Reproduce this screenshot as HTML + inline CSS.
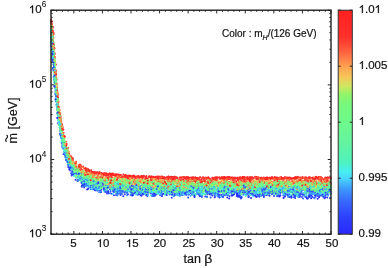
<!DOCTYPE html>
<html><head><meta charset="utf-8"><style>
html,body{margin:0;padding:0;background:#fff;width:388px;height:268px;overflow:hidden}
svg{display:block;will-change:transform}
text{font-family:"Liberation Sans",sans-serif;fill:#111;font-size:11.5px;stroke:#111;stroke-width:0.2px}
.sup{font-size:8.2px;stroke-width:0.08px}
</style></head><body>
<svg width="388" height="268" viewBox="0 0 388 268">
<defs><linearGradient id="cb" x1="0" y1="0" x2="0" y2="1"><stop offset="0.000" stop-color="#ff2020"/><stop offset="0.120" stop-color="#ff302c"/><stop offset="0.180" stop-color="#ff5c3e"/><stop offset="0.250" stop-color="#ffa050"/><stop offset="0.300" stop-color="#f5c85a"/><stop offset="0.340" stop-color="#cde860"/><stop offset="0.380" stop-color="#8cf569"/><stop offset="0.420" stop-color="#76f87d"/><stop offset="0.500" stop-color="#6efa8c"/><stop offset="0.600" stop-color="#62f3a2"/><stop offset="0.680" stop-color="#4ef2c0"/><stop offset="0.720" stop-color="#46eef0"/><stop offset="0.750" stop-color="#48d7ff"/><stop offset="0.800" stop-color="#3c96ff"/><stop offset="0.850" stop-color="#386aff"/><stop offset="0.920" stop-color="#2e42ff"/><stop offset="1.000" stop-color="#2828ff"/></linearGradient></defs>
<g fill="none" stroke-width="2" stroke-linecap="round"><path stroke="#2b36ff" d="M100.7 192.2h0M137.2 188.0h0M107.1 193.6h0M330.2 197.8h0M143.5 192.6h0M136.0 190.8h0M87.2 183.8h0M177.1 189.8h0M305.5 196.7h0M319.2 194.6h0M221.1 195.0h0M167.9 192.8h0M135.3 187.6h0M229.5 196.3h0M141.1 189.1h0M289.8 197.1h0M69.1 161.2h0M234.6 191.9h0M124.8 194.3h0M53.7 69.0h0M65.0 152.6h0"/>
<path stroke="#3fa7ff" d="M261.1 187.3h0M294.1 191.3h0M195.3 193.8h0M216.7 185.5h0M91.7 180.4h0M300.5 188.2h0M103.9 185.1h0M177.7 189.3h0M146.9 190.8h0M299.0 194.6h0M207.3 191.5h0M288.3 194.6h0M174.2 190.4h0M237.1 193.9h0M164.1 190.8h0M151.5 190.3h0M161.8 187.7h0M106.8 186.2h0M168.0 187.2h0M143.3 188.8h0M145.4 187.8h0M110.8 183.2h0M58.3 119.5h0M133.7 192.9h0M95.0 185.9h0M328.4 189.8h0M133.2 186.0h0M316.6 189.7h0M170.9 188.8h0M210.5 192.6h0M212.8 192.2h0M114.6 186.3h0M268.0 191.7h0M193.6 192.5h0M277.7 189.4h0M56.1 90.9h0M51.3 38.6h0M53.4 58.1h0M53.5 70.9h0"/>
<path stroke="#73f982" d="M157.0 184.3h0M138.2 187.3h0M243.4 189.0h0M297.5 189.2h0M132.6 185.2h0M217.4 183.2h0M113.8 182.5h0M158.0 184.7h0M111.1 180.6h0M205.5 188.2h0M86.3 182.2h0M323.3 187.8h0M302.2 185.7h0M185.6 181.4h0M155.0 186.8h0M85.3 180.1h0M140.0 187.2h0M224.1 190.6h0M270.4 188.1h0M197.5 182.9h0M270.8 190.3h0M65.4 145.4h0M257.4 186.6h0M200.7 184.2h0M91.2 184.6h0M112.7 181.2h0M203.3 180.7h0M77.8 170.1h0M328.3 191.6h0M102.7 177.8h0M185.0 186.4h0M152.2 186.1h0M179.3 184.1h0M130.9 186.8h0M130.9 183.3h0M96.1 181.0h0M157.8 188.1h0M134.2 182.1h0M112.7 181.1h0M225.5 186.2h0M283.5 183.5h0M201.4 188.7h0M278.2 182.0h0M290.6 185.6h0M186.3 187.7h0M217.4 182.5h0M225.6 183.6h0M137.7 186.0h0M225.7 185.1h0M53.5 56.0h0M74.9 168.2h0M62.7 136.3h0M55.9 73.4h0M66.1 157.1h0M53.2 52.1h0M53.2 42.8h0"/>
<path stroke="#3251ff" d="M120.5 194.9h0M316.8 190.9h0M218.5 189.1h0M275.4 192.1h0M72.6 171.9h0M321.2 194.4h0M283.8 190.6h0M220.2 196.2h0M240.3 188.7h0M330.9 193.5h0M102.0 187.2h0M129.8 191.4h0M296.0 191.1h0M114.5 186.0h0M55.4 81.4h0M234.4 189.0h0M63.4 148.2h0M131.0 192.3h0M297.8 188.4h0M167.9 188.5h0M214.1 192.1h0M199.2 192.7h0M60.3 126.8h0M155.9 188.5h0M183.3 189.8h0M231.5 188.3h0M52.3 52.6h0M59.9 127.7h0M59.3 119.6h0"/>
<path stroke="#aaef65" d="M57.2 91.4h0M277.7 183.6h0M170.1 184.7h0M329.3 188.5h0M231.8 183.6h0M157.4 181.6h0M149.1 184.6h0M216.3 191.3h0M246.2 183.0h0M256.5 185.3h0M230.0 183.7h0M153.7 180.8h0M232.7 190.0h0M210.4 185.4h0M268.1 189.3h0M211.8 187.3h0M313.7 188.4h0M224.7 187.9h0M305.2 186.0h0M236.8 186.2h0M153.9 180.1h0M90.0 176.4h0M78.2 170.2h0M89.6 174.5h0M195.3 185.8h0M74.5 172.4h0M289.8 182.5h0M297.3 186.4h0M86.0 173.9h0M207.6 183.3h0M158.7 180.0h0M297.9 186.6h0M99.4 177.6h0M51.8 32.9h0M229.1 182.5h0M288.7 189.0h0M176.6 183.8h0M53.2 42.5h0M65.4 144.4h0M64.3 143.3h0M67.6 155.3h0M53.4 50.3h0"/>
<path stroke="#46ebf2" d="M100.9 189.1h0M321.4 188.2h0M174.2 191.8h0M115.6 189.4h0M197.0 191.5h0M127.6 188.6h0M281.5 190.5h0M185.2 188.7h0M142.6 184.6h0M69.8 166.5h0M311.6 188.8h0M212.7 190.5h0M253.2 196.5h0M86.5 182.1h0M268.4 185.8h0M233.4 194.6h0M198.2 190.9h0M244.9 194.8h0M285.4 192.5h0M209.2 189.7h0M123.1 191.2h0M182.8 184.9h0M152.9 186.1h0M290.2 191.6h0M295.5 193.7h0M93.0 180.3h0M94.9 188.1h0M326.7 189.4h0M57.8 109.7h0M113.7 189.3h0M245.1 189.1h0M304.0 193.0h0M60.1 123.4h0M51.1 38.5h0M52.4 38.5h0"/>
<path stroke="#73f982" d="M120.0 185.8h0M219.9 190.6h0M89.3 176.7h0M69.6 160.0h0M135.0 181.2h0M185.1 184.5h0M199.2 187.8h0M67.9 159.2h0M176.4 185.9h0M116.6 179.3h0M292.8 181.6h0M223.7 187.7h0M173.8 182.8h0M162.3 188.8h0M153.9 185.8h0M194.9 189.6h0M261.9 186.2h0M55.2 73.9h0M246.4 189.1h0M187.7 181.5h0M270.4 192.0h0M118.4 186.7h0M95.6 181.1h0M217.3 186.5h0M224.1 190.3h0M80.9 170.3h0M153.2 181.4h0M162.2 186.3h0M75.6 171.4h0M304.8 186.3h0M87.0 177.1h0M114.8 181.0h0M94.9 178.2h0M102.0 181.2h0M293.9 184.7h0M154.3 185.3h0M197.3 184.8h0M272.4 185.8h0M51.2 33.2h0M262.2 184.3h0M197.7 186.9h0M201.1 184.0h0M167.1 183.0h0M172.7 185.3h0M277.8 184.4h0M224.1 186.8h0M248.6 185.8h0M186.2 185.1h0M243.4 184.0h0M119.4 181.3h0M110.8 179.7h0M56.0 80.0h0M54.3 71.9h0M61.4 134.0h0M63.2 138.8h0M61.7 133.7h0M58.5 111.1h0"/>
<path stroke="#ff904c" d="M285.8 186.0h0M128.4 180.8h0M323.8 181.9h0M160.8 181.9h0M148.6 184.7h0M69.1 160.3h0M93.8 178.3h0M268.1 182.2h0M282.2 186.5h0M114.7 183.6h0M148.6 178.8h0M152.6 178.1h0M327.8 186.6h0M251.8 182.3h0M130.7 184.7h0M211.2 181.4h0M107.7 179.7h0M195.9 183.1h0M322.1 182.4h0M66.0 147.2h0M287.8 182.2h0M197.7 188.3h0M177.6 184.6h0M238.8 187.3h0M263.9 186.7h0M210.5 182.6h0M243.2 182.0h0M58.2 100.9h0M51.0 20.3h0M59.2 117.4h0"/>
<path stroke="#53f2b8" d="M76.7 177.2h0M270.1 191.4h0M242.1 190.0h0M219.1 185.1h0M144.4 191.1h0M268.2 193.0h0M252.0 191.4h0M300.0 185.6h0M123.4 183.2h0M217.7 186.1h0M114.2 187.5h0M64.2 148.9h0M84.6 179.9h0M140.7 192.0h0M194.9 191.1h0M243.1 192.6h0M201.6 186.0h0M262.2 187.7h0M89.2 180.7h0M298.7 192.7h0M141.8 185.1h0M206.8 187.4h0M114.6 188.9h0M195.9 187.4h0M122.8 187.0h0M129.3 188.3h0M200.8 184.8h0M206.3 185.3h0M258.4 189.4h0M142.9 191.0h0M119.8 187.8h0M295.6 189.3h0M224.8 189.8h0M176.1 191.8h0M238.8 190.2h0M302.2 186.0h0M324.5 190.7h0M163.8 189.9h0M301.0 187.8h0M56.0 93.4h0M52.3 52.7h0M53.2 48.3h0M57.9 109.2h0M67.8 164.2h0"/>
<path stroke="#71f986" d="M218.5 190.0h0M325.7 186.5h0M86.3 183.4h0M111.5 184.2h0M267.1 185.9h0M51.1 33.0h0M110.2 182.2h0M202.5 181.4h0M212.4 184.4h0M84.7 178.4h0M307.9 182.9h0M99.8 179.1h0M77.9 174.4h0M142.2 181.5h0M271.1 185.7h0M65.2 150.7h0M112.3 188.0h0M153.8 186.4h0M305.4 188.1h0M126.9 185.2h0M74.1 167.0h0M163.3 182.4h0M208.2 187.9h0M246.3 183.6h0M280.2 188.6h0M130.3 189.4h0M267.9 185.8h0M168.7 186.9h0M191.1 183.8h0M236.9 186.7h0M278.8 184.5h0M268.4 189.8h0M257.1 181.6h0M217.9 187.5h0M114.2 178.6h0M330.5 184.3h0M306.9 191.1h0M55.6 83.9h0M80.5 175.9h0M213.7 184.1h0M286.9 189.6h0M209.2 184.0h0M323.1 183.2h0M114.3 180.1h0M225.5 191.9h0M168.7 186.5h0M86.1 179.1h0M151.6 185.2h0M260.3 189.7h0M283.8 181.4h0M313.3 184.2h0M117.8 180.3h0M208.4 186.5h0M142.2 190.1h0M150.2 188.9h0M61.7 129.6h0M66.7 150.6h0M56.6 100.3h0M59.2 116.5h0M60.1 122.0h0"/>
<path stroke="#2d3dff" d="M160.5 187.9h0M208.1 193.2h0M66.1 155.1h0M272.7 191.7h0M266.5 189.7h0M85.6 181.6h0M182.0 192.7h0M146.1 191.0h0M208.9 189.7h0M260.7 188.8h0M151.7 189.1h0M127.1 191.4h0M236.8 193.9h0M64.1 145.4h0M55.6 93.0h0M138.4 192.5h0M114.6 191.4h0M290.5 191.5h0M285.0 196.0h0M194.3 190.9h0M53.4 61.0h0M52.0 52.1h0M52.9 49.8h0"/>
<path stroke="#ff2b29" d="M189.5 178.1h0M306.0 180.7h0M308.8 186.0h0M276.3 186.5h0M151.2 184.7h0M189.7 182.5h0M168.1 179.5h0M281.7 179.8h0M86.9 169.2h0M303.6 187.4h0M81.6 174.0h0M158.7 181.9h0M313.9 185.5h0M194.4 180.3h0M79.4 172.1h0M58.0 108.7h0M63.8 139.9h0M241.5 177.8h0M193.7 177.7h0M109.4 177.0h0M141.0 177.2h0M172.8 178.7h0M154.4 177.6h0M110.8 173.7h0M272.5 177.8h0M158.8 178.1h0M243.9 177.2h0M128.7 176.7h0M300.5 179.4h0M276.8 177.4h0M212.5 177.8h0M228.5 177.7h0M315.6 177.1h0M175.3 178.8h0M152.0 176.6h0"/>
<path stroke="#65f59c" d="M67.3 158.5h0M69.6 162.3h0M68.6 157.0h0M176.3 186.4h0M210.4 188.0h0M59.9 119.1h0M95.1 180.4h0M122.9 183.2h0M69.9 164.0h0M146.7 186.3h0M54.2 58.8h0M160.6 193.5h0M190.4 184.2h0M62.5 140.2h0M108.1 181.6h0M202.0 191.4h0M260.7 192.0h0M189.9 185.3h0M316.6 191.8h0M208.8 184.8h0M282.0 186.6h0M254.9 186.4h0M305.0 184.0h0M197.0 189.8h0M281.2 192.6h0M248.9 186.0h0M312.4 186.9h0M55.9 86.5h0M236.9 192.6h0M273.9 185.4h0M277.4 192.4h0M99.2 186.0h0M95.3 185.3h0M280.9 191.1h0M296.3 191.5h0M131.6 186.7h0M249.5 187.6h0M257.4 186.0h0M280.7 191.2h0M203.2 190.0h0M141.8 189.2h0M61.6 133.1h0M67.1 158.7h0M55.7 73.1h0M51.2 32.8h0M55.9 74.8h0M63.7 147.1h0"/>
<path stroke="#ff2322" d="M187.2 183.5h0M207.6 186.3h0M253.6 185.5h0M248.9 179.0h0M200.9 180.9h0M309.4 178.7h0M171.3 183.4h0M60.6 124.0h0M156.3 177.7h0M288.7 177.8h0M187.1 177.3h0M327.4 177.7h0M200.3 177.2h0M284.2 178.1h0M184.3 177.9h0M301.4 178.1h0M168.5 176.8h0M243.4 177.6h0M271.3 178.4h0M281.5 177.9h0M186.1 178.5h0M330.3 177.5h0"/>
<path stroke="#63f3a1" d="M248.0 184.6h0M255.8 189.4h0M134.2 191.3h0M157.5 185.1h0M165.4 185.5h0M103.6 182.7h0M291.6 185.9h0M282.3 191.1h0M94.8 181.8h0M233.4 190.4h0M159.3 186.5h0M149.0 191.5h0M240.8 187.1h0M238.5 192.2h0M56.7 93.1h0M325.8 185.6h0M320.9 186.6h0M239.3 192.3h0M288.4 190.6h0M169.0 191.6h0M256.0 189.9h0M308.7 182.2h0M87.8 179.6h0M320.7 190.0h0M202.4 188.1h0M91.2 180.2h0M231.7 188.2h0M111.1 186.4h0M276.5 186.8h0M220.3 187.6h0M238.1 190.0h0M121.2 185.9h0M60.9 127.4h0M317.6 186.3h0M282.6 185.2h0M197.2 186.4h0M171.7 192.8h0M73.2 169.1h0M220.9 189.8h0M57.6 113.1h0M66.8 158.4h0M57.6 108.6h0M52.2 45.1h0M60.8 132.3h0"/>
<path stroke="#ff6741" d="M184.0 185.1h0M203.6 180.0h0M65.8 146.3h0M151.6 179.5h0M252.6 186.9h0M227.1 178.7h0M231.6 187.1h0M242.5 184.5h0M140.5 182.5h0M329.0 181.5h0M216.6 184.7h0M177.9 179.5h0M281.3 186.8h0M86.3 170.5h0M297.6 182.2h0M121.8 181.5h0M209.4 183.3h0M51.4 24.1h0M56.2 84.2h0M272.2 182.2h0M209.6 187.3h0M186.3 186.4h0M227.9 184.0h0M173.9 179.1h0M109.1 179.5h0M61.9 125.0h0M63.7 137.8h0M57.2 96.1h0M237.8 177.7h0M239.1 177.5h0M164.2 177.5h0M261.5 177.6h0M258.6 177.5h0"/>
<path stroke="#46ebf2" d="M144.2 189.4h0M166.6 190.1h0M162.4 188.4h0M65.8 153.3h0M295.0 192.0h0M168.7 187.9h0M232.4 191.9h0M284.9 190.9h0M222.6 186.7h0M154.6 190.1h0M330.7 190.4h0M289.0 186.3h0M176.8 190.4h0M208.5 189.6h0M179.4 195.8h0M260.7 188.3h0M204.7 188.7h0M260.3 186.3h0M245.0 189.5h0M181.3 194.5h0M286.1 191.6h0M158.4 193.8h0M306.9 188.0h0M197.2 193.1h0M250.1 185.7h0M233.1 185.2h0M326.0 188.6h0M102.7 184.7h0M129.7 184.6h0M109.3 184.1h0M118.1 186.2h0M143.6 187.8h0M67.1 160.8h0M62.5 141.5h0M61.9 132.4h0M56.4 93.7h0"/>
<path stroke="#44c2ff" d="M298.3 194.5h0M70.3 162.9h0M314.7 187.1h0M264.2 190.2h0M70.9 166.9h0M292.4 192.4h0M174.1 191.6h0M254.7 187.7h0M141.4 189.8h0M218.3 191.6h0M66.6 156.2h0M197.7 189.4h0M134.5 193.1h0M56.0 100.7h0M248.8 187.0h0M275.9 188.0h0M72.2 165.7h0M289.8 191.7h0M266.7 187.7h0M271.3 188.3h0M172.1 190.1h0M261.6 193.3h0M153.3 193.5h0M214.6 194.6h0M305.4 187.3h0M198.9 191.0h0M60.9 132.4h0M67.9 158.3h0M286.0 192.7h0M54.0 68.6h0M92.3 189.3h0M265.6 194.1h0M149.3 191.4h0M151.9 191.2h0M63.0 141.1h0M51.4 35.9h0M52.3 42.7h0M65.9 151.2h0"/>
<path stroke="#3a7cff" d="M170.6 188.0h0M157.8 186.2h0M184.2 194.4h0M69.5 169.1h0M295.5 190.6h0M235.9 191.1h0M161.5 190.8h0M146.2 189.8h0M281.3 187.3h0M255.4 193.3h0M306.3 192.4h0M190.9 193.2h0M271.4 191.7h0M225.7 192.7h0M171.8 194.0h0M222.2 196.8h0M255.9 186.8h0M121.9 190.5h0M234.8 188.0h0M67.7 157.7h0M96.7 183.5h0M319.4 193.2h0M173.4 187.1h0M197.6 193.0h0M95.0 187.9h0M142.4 192.0h0M190.5 189.4h0M314.2 190.3h0M315.2 193.3h0M51.9 41.0h0M65.9 155.1h0"/>
<path stroke="#6af893" d="M225.9 184.0h0M110.0 179.7h0M228.1 189.9h0M126.2 184.7h0M328.5 184.8h0M123.3 184.6h0M86.7 177.7h0M294.3 185.3h0M269.7 185.2h0M256.5 192.7h0M247.3 185.8h0M240.3 185.9h0M148.6 185.5h0M319.6 186.7h0M211.3 188.5h0M188.3 185.6h0M201.0 187.6h0M69.3 162.2h0M161.9 191.0h0M189.1 183.5h0M82.3 179.3h0M199.8 183.4h0M284.9 188.1h0M69.8 161.3h0M150.8 189.1h0M80.9 177.7h0M253.6 190.7h0M154.4 187.0h0M219.4 188.1h0M91.9 178.9h0M270.2 189.6h0M178.5 190.6h0M313.2 184.7h0M202.4 193.0h0M262.6 188.8h0M131.1 187.1h0M134.6 181.2h0M126.4 185.2h0M148.4 184.7h0M321.9 187.4h0M293.9 187.8h0M85.2 171.7h0M82.5 175.5h0M295.4 192.2h0M142.7 183.3h0M170.9 185.6h0M60.3 130.2h0M51.4 39.7h0M62.5 134.6h0M56.1 87.0h0M56.7 99.4h0"/>
<path stroke="#3fa7ff" d="M323.4 190.3h0M280.0 193.0h0M188.1 194.7h0M228.7 193.3h0M329.9 188.8h0M259.5 188.0h0M220.5 192.2h0M120.1 186.3h0M286.4 187.4h0M79.6 175.0h0M164.5 192.1h0M108.3 191.2h0M322.4 195.3h0M150.4 186.5h0M107.9 187.3h0M133.6 189.9h0M126.8 195.6h0M114.4 186.5h0M253.6 194.3h0M289.9 190.7h0M216.6 189.9h0M106.3 184.2h0M325.9 190.1h0M300.1 190.6h0M180.6 187.3h0M300.8 187.8h0M197.0 192.6h0M301.6 188.0h0M308.8 194.3h0M151.9 188.1h0M174.8 189.4h0M113.8 189.2h0M289.7 190.3h0M184.8 192.0h0M270.5 189.6h0M51.3 35.3h0M55.8 86.4h0M54.3 73.8h0"/>
<path stroke="#fab555" d="M96.4 176.6h0M135.9 183.2h0M261.4 188.5h0M210.5 186.4h0M197.8 182.6h0M194.0 183.5h0M214.2 180.6h0M215.8 183.4h0M276.3 182.2h0M106.2 179.8h0M140.1 178.8h0M210.1 181.1h0M94.2 175.8h0M53.9 51.4h0M280.1 181.3h0M163.7 178.8h0M282.6 187.6h0M118.8 186.5h0M82.3 173.9h0M91.1 174.4h0M207.9 180.9h0M228.2 183.0h0M147.6 182.8h0M88.2 171.7h0M154.7 180.1h0M73.4 162.2h0M57.4 103.4h0M59.0 110.8h0M61.1 129.6h0"/>
<path stroke="#71f986" d="M105.1 180.7h0M112.9 181.3h0M98.4 176.8h0M258.3 184.1h0M111.6 186.8h0M144.4 188.6h0M273.7 187.9h0M54.1 64.0h0M265.6 185.7h0M110.3 185.6h0M113.1 182.7h0M184.4 183.2h0M232.3 182.8h0M61.7 131.0h0M163.3 188.3h0M91.2 176.1h0M281.1 187.4h0M222.9 185.7h0M210.1 187.1h0M217.6 185.8h0M136.2 185.0h0M212.4 183.3h0M160.7 186.0h0M277.5 188.9h0M230.8 184.2h0M185.7 184.5h0M254.0 187.9h0M196.3 187.1h0M85.6 177.4h0M245.6 188.7h0M298.9 188.1h0M63.3 134.7h0M177.8 185.5h0M219.8 187.1h0M124.3 188.3h0M105.5 177.9h0M326.6 189.0h0M199.8 188.5h0M252.0 183.7h0M197.4 186.6h0M301.3 182.6h0M106.4 177.1h0M166.2 190.2h0M263.8 190.6h0M182.3 190.4h0M244.6 188.3h0M316.4 188.8h0M110.8 182.9h0M248.8 188.1h0M127.6 182.5h0M320.3 183.1h0M81.9 178.0h0M99.8 178.7h0M73.6 167.5h0M56.6 99.6h0M51.9 32.4h0M56.4 87.8h0M53.5 53.6h0M55.8 85.7h0M60.0 118.9h0"/>
<path stroke="#2f45ff" d="M233.9 194.6h0M216.1 190.6h0M205.4 194.3h0M111.5 193.7h0M216.8 188.8h0M298.0 188.6h0M297.1 194.7h0M314.2 197.7h0M301.0 191.2h0M173.3 195.5h0M283.4 195.5h0M210.6 189.5h0M114.0 187.3h0M188.9 194.4h0M99.5 189.4h0M322.7 196.0h0M88.3 182.5h0M130.4 188.3h0M51.6 42.8h0M210.9 191.1h0M191.0 193.2h0M291.3 197.8h0M155.1 188.2h0M186.1 192.3h0M56.3 98.5h0M56.9 101.0h0"/>
<path stroke="#e2d75d" d="M225.3 184.2h0M89.1 177.0h0M325.6 183.7h0M177.2 181.1h0M285.9 186.2h0M130.8 178.0h0M94.3 174.2h0M51.5 26.8h0M216.3 185.2h0M159.4 184.4h0M116.8 181.1h0M191.4 180.3h0M300.6 182.3h0M59.7 124.4h0M170.5 181.3h0M273.5 181.4h0M92.0 177.6h0M258.3 182.7h0M56.3 87.6h0M274.8 185.9h0M102.4 177.0h0M190.4 185.5h0M75.9 166.5h0M186.5 185.9h0M188.5 181.8h0M293.4 187.1h0M87.7 171.2h0M276.1 183.4h0M171.2 182.9h0M210.1 180.0h0M107.7 179.9h0M58.9 114.1h0M64.2 138.1h0M57.9 102.7h0M57.9 98.9h0"/>
<path stroke="#8af56a" d="M244.9 185.7h0M188.7 186.2h0M98.0 181.7h0M237.2 189.6h0M149.7 180.3h0M161.3 185.7h0M307.4 183.4h0M182.5 189.8h0M129.7 183.6h0M57.0 101.8h0M211.8 184.3h0M61.9 136.6h0M160.4 185.4h0M81.2 172.4h0M93.2 176.6h0M192.0 184.5h0M292.4 184.6h0M135.5 182.7h0M79.3 166.7h0M284.6 186.2h0M103.1 183.1h0M290.9 189.7h0M143.0 181.1h0M219.9 184.5h0M311.6 187.8h0M73.5 164.2h0M121.5 178.8h0M119.3 184.1h0M193.4 181.5h0M160.1 188.3h0M280.1 189.2h0M269.4 183.5h0M255.6 187.6h0M154.1 184.1h0M280.4 185.3h0M123.2 179.7h0M178.5 188.7h0M94.8 179.6h0M263.0 189.5h0M316.7 187.4h0M97.1 181.4h0M127.9 187.2h0M232.8 180.0h0M53.6 46.7h0M61.9 132.6h0M58.4 114.2h0M53.4 60.1h0M51.8 36.7h0M66.4 151.7h0"/>
<path stroke="#ff2b29" d="M234.0 184.1h0M328.2 182.5h0M90.0 178.0h0M241.9 178.5h0M293.6 184.2h0M143.4 182.9h0M255.8 181.0h0M300.8 180.1h0M157.4 178.0h0M258.7 186.3h0M169.6 179.5h0M230.3 182.3h0M326.0 187.0h0M88.4 172.3h0M52.7 31.2h0M55.9 81.1h0M60.3 116.3h0M234.5 178.1h0M312.9 177.8h0M297.7 177.1h0M244.1 177.5h0M141.9 176.3h0M309.4 177.5h0M104.2 173.5h0M296.9 178.4h0M235.0 177.6h0M272.7 177.9h0M249.9 177.7h0M205.0 178.5h0M219.3 177.5h0M282.1 178.1h0M298.9 177.6h0M242.9 178.7h0M222.0 177.1h0"/>
<path stroke="#e2d75d" d="M216.3 183.8h0M317.3 184.1h0M159.6 182.2h0M246.7 188.0h0M142.3 186.9h0M239.4 181.5h0M96.6 181.1h0M212.8 183.9h0M259.3 180.6h0M128.4 180.5h0M135.2 187.1h0M263.1 187.1h0M108.7 179.0h0M205.0 182.4h0M247.8 180.4h0M209.7 187.2h0M162.1 183.0h0M235.0 183.7h0M131.9 187.8h0M300.6 187.3h0M79.0 167.6h0M142.4 183.8h0M112.1 180.5h0M73.7 167.5h0M244.8 186.5h0M256.9 181.6h0M69.7 159.5h0M224.6 186.1h0M329.7 182.1h0M93.7 174.1h0M90.5 174.0h0M59.1 114.6h0M54.0 50.5h0M67.9 155.1h0M56.0 83.6h0"/>
<path stroke="#2f45ff" d="M52.4 53.1h0M104.8 187.9h0M236.8 192.9h0M181.3 192.8h0M220.4 196.4h0M200.4 190.8h0M81.6 182.8h0M112.1 185.2h0M106.8 183.9h0M295.9 193.8h0M74.0 174.7h0M112.4 188.1h0M94.5 190.0h0M297.7 194.1h0M212.2 190.9h0M172.1 193.9h0M267.5 194.2h0M57.9 110.8h0M224.5 195.0h0M171.7 197.8h0M161.5 189.9h0M207.1 196.8h0M173.2 188.6h0M131.9 194.1h0M55.5 98.9h0M54.9 83.8h0"/>
<path stroke="#ff553b" d="M302.0 182.5h0M219.5 182.6h0M279.6 185.9h0M299.2 180.1h0M176.3 184.5h0M116.7 177.3h0M55.3 75.2h0M59.7 119.8h0M87.4 170.4h0M61.1 119.7h0M119.6 180.5h0M182.8 185.8h0M235.0 179.9h0M246.1 181.6h0M201.5 182.2h0M127.1 185.4h0M154.2 180.2h0M209.6 181.5h0M131.2 183.2h0M297.9 181.4h0M51.8 24.3h0M221.4 185.2h0M186.6 180.3h0M251.0 182.7h0M52.3 33.3h0M56.3 80.0h0M59.9 114.2h0M213.0 177.8h0M106.5 174.5h0M282.8 178.2h0M217.3 177.5h0M283.4 178.4h0M267.7 178.5h0M237.5 178.5h0M275.9 177.8h0"/>
<path stroke="#ff553b" d="M127.6 180.5h0M126.0 178.2h0M56.4 80.1h0M307.5 183.3h0M207.6 180.8h0M268.8 183.2h0M115.5 176.4h0M242.0 181.3h0M175.9 182.0h0M184.2 183.6h0M283.7 180.1h0M312.3 185.9h0M170.2 186.5h0M185.0 181.2h0M148.9 183.6h0M98.1 175.0h0M300.4 178.5h0M181.6 186.7h0M89.9 179.2h0M221.7 181.8h0M319.1 186.7h0M249.4 187.2h0M197.4 180.9h0M241.6 182.9h0M53.5 37.9h0M67.6 147.9h0M54.1 48.6h0M273.2 178.8h0M183.5 177.6h0M89.2 170.1h0M124.8 175.3h0M265.9 178.0h0M191.2 178.2h0M157.9 176.7h0"/>
<path stroke="#6df98e" d="M195.9 185.5h0M180.6 188.6h0M214.4 187.7h0M97.2 181.1h0M267.5 186.6h0M253.3 191.4h0M238.6 191.6h0M256.3 188.9h0M208.8 186.4h0M156.9 191.4h0M230.9 189.6h0M247.9 189.0h0M77.3 167.1h0M143.0 189.2h0M176.6 187.3h0M203.5 186.9h0M194.4 191.5h0M196.5 187.3h0M141.5 185.2h0M211.3 189.0h0M229.2 190.4h0M83.2 174.0h0M145.5 190.4h0M66.6 154.5h0M86.6 179.9h0M253.7 181.9h0M118.2 186.2h0M256.2 192.1h0M249.3 185.0h0M114.6 178.5h0M172.9 186.1h0M328.9 184.8h0M152.1 181.8h0M330.5 187.2h0M89.1 175.1h0M219.1 184.9h0M79.5 169.5h0M112.7 189.6h0M241.0 184.8h0M186.0 182.2h0M162.2 188.7h0M232.5 190.7h0M219.1 189.1h0M51.5 32.7h0M63.6 141.4h0M53.3 62.3h0M62.0 136.2h0M63.3 144.0h0"/>
<path stroke="#44c2ff" d="M139.5 189.2h0M304.1 194.1h0M67.5 162.1h0M306.3 192.5h0M187.8 188.7h0M215.9 187.2h0M320.1 191.2h0M216.2 193.2h0M88.0 182.5h0M241.2 187.0h0M84.9 178.9h0M217.2 194.1h0M250.2 188.9h0M155.8 188.1h0M225.6 187.1h0M167.7 192.3h0M279.9 190.0h0M200.2 195.4h0M188.4 190.7h0M80.0 175.4h0M206.9 188.7h0M267.9 188.1h0M110.7 190.3h0M282.1 191.8h0M174.7 190.3h0M241.8 188.4h0M78.0 173.0h0M219.9 185.6h0M169.6 187.1h0M65.9 151.0h0M87.6 186.2h0M262.8 187.0h0M68.0 162.9h0M284.7 192.0h0M59.2 119.1h0M54.6 70.1h0M54.5 82.4h0"/>
<path stroke="#ff2624" d="M307.9 186.2h0M298.2 185.9h0M165.9 182.1h0M85.7 168.3h0M224.3 179.0h0M85.9 174.3h0M217.6 181.9h0M252.2 186.1h0M146.7 180.5h0M223.6 182.9h0M208.5 178.1h0M51.0 29.9h0M54.6 53.2h0M108.6 174.3h0M80.9 166.0h0M143.3 176.3h0M228.2 177.6h0M87.8 168.7h0M265.7 178.0h0M245.7 177.6h0M138.7 176.9h0M188.0 178.1h0M143.6 176.3h0M216.0 177.8h0M185.0 177.6h0M133.5 175.9h0M141.3 176.2h0"/>
<path stroke="#ff2e2b" d="M293.7 185.9h0M92.7 180.2h0M201.2 179.6h0M292.9 179.1h0M85.7 173.3h0M170.7 186.6h0M170.9 183.9h0M163.8 181.2h0M248.5 179.6h0M214.7 184.5h0M179.5 180.4h0M330.8 183.8h0M194.0 180.3h0M202.2 181.6h0M271.5 184.1h0M162.2 178.4h0M59.6 109.9h0M60.9 127.7h0M281.1 177.6h0M149.6 176.4h0M100.8 173.2h0M141.3 176.5h0M237.5 177.8h0M321.4 179.0h0M185.2 178.0h0M71.4 156.6h0M176.2 177.3h0M143.8 177.0h0M221.5 178.1h0M207.0 177.9h0M80.7 165.3h0M175.2 177.8h0M264.2 178.7h0M261.9 178.3h0M242.2 177.7h0M139.1 177.8h0"/>
<path stroke="#3869ff" d="M296.0 195.0h0M263.3 195.0h0M177.6 193.6h0M234.3 193.3h0M105.7 187.0h0M275.9 189.8h0M213.8 193.4h0M192.6 191.3h0M322.5 196.4h0M298.9 188.0h0M116.2 185.2h0M145.7 190.4h0M306.9 192.5h0M236.7 196.3h0M226.7 191.8h0M113.3 191.7h0M306.5 188.5h0M275.3 193.2h0M259.8 193.8h0M234.1 193.0h0M149.2 187.8h0M266.4 193.5h0M329.0 191.9h0M241.1 196.8h0M99.8 188.2h0M215.2 195.3h0M223.9 194.6h0M274.6 186.8h0M219.2 194.8h0M88.3 178.8h0M179.3 192.4h0M54.8 72.8h0M65.5 151.1h0M55.1 81.5h0M56.1 94.9h0"/>
<path stroke="#4ef2c1" d="M123.0 184.5h0M51.4 41.8h0M153.6 189.4h0M71.6 168.3h0M140.8 193.0h0M126.5 183.4h0M99.7 182.3h0M119.2 183.6h0M114.6 186.1h0M301.5 189.7h0M320.3 194.9h0M165.7 190.7h0M140.6 193.0h0M240.9 190.7h0M106.1 185.3h0M225.3 185.2h0M120.2 188.5h0M237.1 186.5h0M320.1 190.7h0M266.1 192.0h0M105.0 182.3h0M80.1 177.6h0M258.2 190.3h0M235.9 185.0h0M299.4 191.4h0M227.3 195.0h0M309.3 185.7h0M241.3 192.4h0M90.1 186.2h0M107.8 187.4h0M242.4 192.7h0M202.5 195.1h0M282.1 184.9h0M180.4 193.6h0M274.9 192.3h0M65.1 147.5h0M276.0 193.6h0M67.3 157.8h0M56.6 96.5h0M65.2 147.5h0M55.5 80.2h0M54.3 79.7h0"/>
<path stroke="#fea451" d="M253.5 181.9h0M93.6 178.4h0M150.6 182.0h0M96.9 180.6h0M203.4 187.6h0M135.1 183.5h0M95.5 179.2h0M238.0 185.8h0M301.0 184.9h0M224.2 180.6h0M75.9 164.6h0M239.8 188.5h0M169.9 185.6h0M132.7 185.2h0M128.0 181.4h0M224.1 187.9h0M109.7 182.9h0M232.0 182.0h0M200.1 185.9h0M267.1 188.5h0M150.4 186.1h0M97.6 175.5h0M52.4 34.8h0M129.9 182.8h0M177.2 185.9h0M61.7 131.1h0M52.5 38.1h0"/>
<path stroke="#7ff775" d="M124.0 182.5h0M154.8 186.7h0M65.4 143.3h0M110.0 178.2h0M176.6 186.3h0M264.5 181.6h0M272.5 185.8h0M189.2 185.9h0M319.2 190.6h0M275.9 184.0h0M271.4 182.8h0M224.1 186.6h0M236.1 183.4h0M217.3 184.2h0M139.5 188.3h0M186.9 187.4h0M163.2 187.1h0M61.7 131.7h0M321.7 187.6h0M165.1 185.7h0M58.8 115.5h0M197.5 184.2h0M242.9 193.2h0M214.1 184.9h0M264.2 188.6h0M136.4 181.0h0M109.8 183.7h0M173.2 184.0h0M136.4 187.9h0M85.6 173.9h0M148.4 185.0h0M201.4 189.2h0M138.8 188.6h0M55.1 80.8h0M243.3 190.2h0M292.1 181.7h0M136.0 186.3h0M166.1 184.0h0M328.8 185.3h0M322.7 182.2h0M182.0 183.6h0M303.3 187.9h0M60.9 126.8h0M55.0 81.0h0M53.3 40.9h0M51.6 25.6h0M62.8 144.1h0M61.7 127.0h0"/>
<path stroke="#ff362e" d="M75.0 165.9h0M170.4 182.3h0M68.9 158.7h0M319.4 179.1h0M188.1 181.3h0M206.9 186.0h0M97.7 177.8h0M191.1 181.3h0M195.6 178.0h0M63.5 138.0h0M88.9 176.3h0M58.0 103.9h0M68.1 152.0h0M112.0 177.7h0M213.8 178.6h0M150.8 177.5h0M123.0 183.6h0M318.5 180.1h0M222.4 179.8h0M193.1 180.3h0M180.0 180.2h0M90.2 172.1h0M182.6 179.2h0M60.0 123.4h0M52.4 29.5h0M56.5 79.6h0M59.1 117.3h0M67.9 148.0h0M285.0 177.1h0M280.9 177.4h0M217.2 178.0h0M327.9 177.2h0M242.8 178.9h0M158.5 176.9h0M276.3 178.9h0M115.0 174.2h0M155.0 177.7h0M173.1 178.9h0M157.4 176.5h0M142.8 176.8h0M297.5 176.8h0"/>
<path stroke="#3869ff" d="M312.0 192.7h0M129.9 186.8h0M304.9 188.0h0M138.9 185.1h0M122.0 187.4h0M110.4 187.5h0M257.4 191.4h0M164.3 187.5h0M278.3 189.7h0M239.6 194.3h0M304.6 193.1h0M229.8 189.2h0M213.8 191.3h0M255.7 189.7h0M162.6 188.0h0M246.2 194.6h0M120.5 185.9h0M273.7 192.5h0M70.7 166.1h0M90.6 189.1h0M215.8 187.8h0M157.9 193.1h0M323.0 195.7h0M309.8 194.9h0M72.9 170.5h0M163.2 188.4h0M223.8 187.9h0M313.1 188.9h0M255.6 191.2h0M281.9 190.4h0M180.2 187.6h0M60.0 126.8h0M55.9 88.9h0M64.0 146.1h0M51.9 58.3h0M54.3 75.8h0"/>
<path stroke="#3869ff" d="M127.7 191.0h0M185.9 192.4h0M313.0 190.8h0M141.3 190.7h0M304.0 187.9h0M324.2 189.5h0M157.8 191.6h0M209.9 188.3h0M303.1 198.4h0M81.5 179.4h0M61.4 138.1h0M191.9 194.7h0M186.8 188.4h0M173.9 196.3h0M87.8 179.8h0M80.7 179.2h0M75.9 173.8h0M214.3 190.6h0M201.9 197.1h0M214.7 196.1h0M257.5 188.7h0M153.4 190.3h0M317.2 193.4h0M278.8 194.9h0M151.8 192.3h0M314.1 193.9h0M296.1 192.2h0M251.1 194.3h0M69.8 166.0h0M185.5 188.5h0M162.5 190.7h0M65.0 148.2h0M54.8 78.5h0M53.9 62.0h0M55.7 95.0h0M51.8 54.0h0"/>
<path stroke="#46ebf2" d="M170.2 193.6h0M126.7 186.0h0M143.4 186.6h0M184.7 186.3h0M176.3 189.2h0M189.3 192.0h0M195.7 194.5h0M299.7 188.7h0M327.0 193.2h0M229.9 188.0h0M165.5 194.4h0M103.7 190.3h0M125.8 185.5h0M291.3 191.7h0M127.3 187.6h0M312.9 186.9h0M216.4 186.0h0M233.0 191.6h0M224.0 185.3h0M317.4 186.5h0M70.6 167.1h0M207.9 189.2h0M249.1 191.1h0M201.4 189.1h0M120.9 190.8h0M55.8 101.4h0M257.6 188.1h0M118.2 188.2h0M153.1 191.5h0M86.5 178.9h0M186.5 192.2h0M292.4 187.3h0M59.4 127.3h0M61.7 138.5h0M54.5 62.9h0"/>
<path stroke="#2f45ff" d="M150.5 191.4h0M259.4 188.7h0M209.6 191.0h0M227.3 195.0h0M85.1 183.2h0M76.6 177.2h0M265.2 194.4h0M131.9 194.7h0M242.6 191.7h0M259.4 189.5h0M288.5 194.6h0M137.0 191.4h0M245.4 191.5h0M66.3 154.3h0M200.0 192.9h0M246.6 188.4h0M218.3 196.2h0M54.1 60.9h0M211.5 190.7h0M141.7 195.4h0M116.2 195.0h0M259.4 190.4h0M227.5 194.3h0M320.4 191.3h0M64.1 144.2h0M65.0 153.1h0M52.0 45.5h0"/>
<path stroke="#ff362e" d="M228.7 186.6h0M329.9 183.4h0M76.0 166.4h0M57.9 94.3h0M307.5 180.2h0M128.8 185.4h0M219.7 185.5h0M289.8 184.1h0M310.2 184.5h0M124.4 186.2h0M252.3 184.7h0M97.7 177.9h0M133.0 180.8h0M229.3 179.1h0M145.0 181.0h0M161.7 180.4h0M172.3 179.4h0M238.7 179.0h0M162.4 181.6h0M262.8 181.4h0M275.4 187.2h0M64.6 145.3h0M96.6 173.7h0M52.1 32.3h0M61.0 124.0h0M54.3 59.4h0M54.4 62.8h0M58.5 115.2h0M146.5 176.7h0M293.4 178.0h0M252.3 177.5h0M149.5 176.2h0M317.9 178.5h0M199.1 179.7h0M318.7 177.1h0M98.8 172.9h0M256.6 177.2h0M147.2 178.4h0M279.1 178.6h0M308.5 177.8h0M298.9 177.8h0"/>
<path stroke="#f5c65a" d="M183.8 186.9h0M292.6 183.3h0M211.4 189.0h0M207.6 182.0h0M254.6 182.9h0M195.4 183.8h0M121.9 183.2h0M92.3 173.2h0M141.9 180.6h0M246.5 184.1h0M117.0 178.9h0M221.7 187.1h0M71.4 165.4h0M197.6 182.4h0M56.4 79.3h0M266.1 181.9h0M196.6 179.8h0M210.5 179.7h0M109.7 182.5h0M85.0 173.9h0M214.1 189.5h0M101.3 183.1h0M252.9 185.0h0M51.2 33.7h0M328.7 184.8h0M176.2 183.5h0M132.1 187.1h0M228.3 188.2h0M234.5 182.8h0M144.3 179.4h0M57.9 104.3h0M63.9 141.6h0M59.9 113.0h0M63.9 141.2h0"/>
<path stroke="#68f698" d="M112.6 183.9h0M97.0 181.3h0M316.0 184.0h0M319.6 187.8h0M323.9 191.2h0M204.4 183.5h0M321.1 191.0h0M72.0 168.3h0M124.2 188.7h0M297.8 192.9h0M157.8 184.3h0M196.7 186.4h0M121.2 190.4h0M292.2 190.5h0M210.0 191.1h0M119.2 186.3h0M276.5 188.3h0M94.2 177.1h0M309.5 186.9h0M182.9 190.7h0M219.0 187.8h0M135.4 185.5h0M223.3 188.2h0M207.7 192.6h0M316.0 193.2h0M90.5 183.2h0M53.9 51.2h0M65.5 150.0h0M326.4 187.4h0M220.9 185.5h0M176.0 191.5h0M157.1 184.0h0M55.4 88.3h0M293.6 183.2h0M246.4 191.3h0M147.5 191.7h0M231.1 185.1h0M107.5 188.3h0M207.7 189.6h0M207.5 181.4h0M121.8 188.0h0M132.7 189.1h0M51.9 34.9h0M63.3 145.2h0M65.7 146.6h0M52.2 47.3h0"/>
<path stroke="#2d3dff" d="M163.5 190.4h0M238.4 195.9h0M185.7 188.6h0M91.0 185.8h0M183.3 192.5h0M186.5 188.2h0M279.1 196.3h0M123.9 188.3h0M125.8 190.2h0M246.3 189.4h0M215.4 189.9h0M325.6 195.1h0M164.2 189.9h0M93.7 189.0h0M83.8 180.5h0M52.0 40.0h0M256.7 188.5h0M285.3 192.7h0M283.2 192.7h0M220.0 187.9h0M62.6 143.8h0M64.3 152.1h0"/>
<path stroke="#3869ff" d="M108.1 193.2h0M110.8 186.3h0M120.3 188.5h0M123.6 186.6h0M248.7 192.5h0M191.2 192.0h0M281.2 189.9h0M137.4 188.7h0M138.7 194.3h0M243.9 193.0h0M314.6 198.3h0M110.6 184.2h0M204.2 188.7h0M303.0 189.7h0M191.4 189.5h0M101.3 184.4h0M55.9 94.3h0M185.1 192.9h0M126.7 190.5h0M53.3 61.3h0M99.5 191.3h0M60.3 129.6h0M105.5 184.7h0M133.3 195.0h0M102.1 186.4h0M195.9 188.4h0M323.6 193.2h0M279.5 192.8h0M314.6 193.3h0M277.4 192.2h0M328.2 191.0h0M60.9 133.6h0M56.8 100.1h0M53.3 55.9h0M57.0 100.9h0"/>
<path stroke="#ff2624" d="M137.0 181.0h0M309.5 183.5h0M169.5 184.9h0M102.7 180.1h0M319.8 179.6h0M177.0 184.7h0M85.6 170.0h0M271.9 178.4h0M210.9 183.2h0M313.6 181.9h0M195.9 178.0h0M51.5 33.6h0M177.5 177.7h0M166.4 177.6h0M193.0 177.9h0M116.8 174.3h0M167.8 177.4h0M129.2 175.9h0M163.5 178.1h0M318.9 178.2h0M286.1 178.5h0M137.9 176.3h0M298.7 177.9h0M277.7 177.7h0M324.0 179.2h0M117.1 175.1h0M99.2 172.6h0"/>
<path stroke="#e2d75d" d="M210.0 184.3h0M233.9 180.2h0M265.5 188.1h0M64.9 143.5h0M192.5 186.9h0M121.1 183.6h0M69.9 156.1h0M221.5 184.4h0M66.3 148.7h0M124.9 180.2h0M98.5 180.8h0M144.1 181.4h0M281.8 189.7h0M79.1 166.8h0M284.0 186.3h0M222.9 182.1h0M288.2 186.4h0M251.2 184.7h0M130.9 179.2h0M225.5 188.2h0M283.2 185.0h0M108.8 178.8h0M175.2 181.3h0M233.0 186.5h0M57.6 98.3h0M286.0 181.5h0M104.8 182.3h0M61.6 129.9h0M263.6 181.5h0M165.9 182.7h0M303.1 184.3h0M251.3 181.4h0M51.4 31.7h0M52.0 31.4h0M53.3 50.5h0"/>
<path stroke="#68f698" d="M239.9 187.3h0M70.3 159.1h0M203.7 185.3h0M119.2 187.9h0M314.4 190.3h0M118.1 189.2h0M200.1 181.5h0M327.4 192.3h0M229.9 191.2h0M100.7 187.6h0M253.6 184.5h0M208.2 182.0h0M246.8 190.1h0M71.2 160.9h0M115.3 183.2h0M73.0 167.9h0M175.1 188.4h0M155.7 186.6h0M185.9 183.3h0M114.6 183.0h0M57.8 103.1h0M235.4 187.2h0M167.5 187.9h0M164.8 189.3h0M89.4 176.9h0M224.0 190.1h0M252.5 183.4h0M54.3 58.3h0M162.1 188.4h0M214.4 184.5h0M61.4 128.6h0M147.8 184.4h0M149.4 185.9h0M86.8 182.6h0M257.7 193.3h0M87.6 176.9h0M273.5 191.1h0M268.1 187.1h0M104.0 187.0h0M131.2 183.7h0M254.5 192.6h0M53.2 48.3h0M51.4 40.1h0M52.8 48.1h0M65.8 155.1h0"/>
<path stroke="#2828ff" d="M242.8 187.2h0M199.7 189.3h0M121.4 186.9h0M98.5 187.1h0M132.8 189.5h0M321.3 193.8h0M131.8 191.4h0M262.5 189.8h0M309.0 197.0h0M215.9 190.4h0M224.6 191.1h0M100.9 192.1h0M287.4 195.0h0M118.3 191.4h0M98.1 188.2h0M323.6 194.4h0M170.4 188.4h0M171.5 194.6h0M76.9 172.9h0M316.3 194.5h0M101.4 189.4h0M69.6 168.1h0M230.0 191.0h0M145.1 190.5h0M279.6 196.6h0M70.3 166.7h0M290.9 196.5h0M72.4 171.1h0M154.6 191.9h0M311.4 193.3h0M251.0 198.0h0M238.0 196.8h0M119.5 188.2h0M74.8 174.8h0M226.2 192.2h0M134.3 187.7h0M263.9 197.0h0M167.0 187.6h0M142.2 192.7h0M57.2 109.1h0M57.2 117.9h0M51.8 45.9h0"/>
<path stroke="#ff7c46" d="M134.3 180.1h0M89.7 177.4h0M217.2 181.0h0M187.9 180.0h0M98.2 183.7h0M274.3 181.4h0M156.4 187.4h0M52.5 28.5h0M136.9 180.9h0M124.3 180.3h0M102.0 179.5h0M111.8 182.1h0M303.1 180.9h0M214.1 183.1h0M194.4 184.9h0M170.0 182.6h0M118.8 182.1h0M181.7 187.8h0M151.5 178.6h0M128.2 183.1h0M210.9 185.5h0M255.9 178.9h0M120.2 179.2h0M148.7 181.4h0M65.9 150.4h0M117.4 177.8h0M63.7 141.8h0M51.1 23.4h0M59.2 111.9h0M120.2 176.3h0M313.8 177.3h0"/>
<path stroke="#2828ff" d="M128.3 190.7h0M139.7 191.7h0M61.8 143.3h0M161.0 194.9h0M134.5 192.9h0M192.4 194.1h0M231.8 195.6h0M83.6 182.2h0M239.2 194.9h0M327.4 194.5h0M330.3 193.6h0M262.6 191.6h0M248.5 189.4h0M274.8 188.6h0M72.5 174.3h0M130.8 189.4h0M135.5 189.2h0M244.6 188.8h0M261.0 189.9h0M96.5 186.3h0M193.5 188.4h0M97.6 190.6h0M129.5 189.5h0M178.0 194.7h0M231.2 192.3h0M295.5 195.0h0M160.3 191.3h0M228.7 191.1h0M313.7 189.4h0M184.1 189.2h0M72.5 171.8h0M132.6 191.4h0M227.8 193.2h0M100.8 189.7h0M137.9 187.8h0M232.7 192.1h0M304.3 194.7h0M81.8 186.2h0M56.8 104.9h0M62.6 142.1h0M55.6 91.4h0"/>
<path stroke="#ff2322" d="M201.1 183.9h0M266.2 180.1h0M258.5 179.2h0M291.7 181.7h0M137.9 177.3h0M178.9 179.7h0M269.3 177.9h0M251.8 183.8h0M236.3 183.3h0M51.9 21.5h0M305.0 179.1h0M172.9 177.3h0M306.5 177.9h0M141.4 176.2h0M293.6 179.0h0M280.9 178.7h0M222.1 177.9h0M256.2 177.7h0M112.5 173.8h0M174.8 176.8h0M318.2 178.3h0M172.5 177.2h0"/>
<path stroke="#fab555" d="M237.8 187.4h0M130.3 179.4h0M87.6 176.4h0M54.5 67.4h0M274.4 180.8h0M255.0 189.7h0M76.7 170.8h0M118.5 182.2h0M214.1 186.9h0M144.0 181.6h0M108.7 182.9h0M210.4 180.5h0M285.7 181.9h0M299.9 188.1h0M263.3 182.0h0M145.0 182.0h0M221.5 186.2h0M309.9 187.1h0M192.1 179.5h0M283.8 179.5h0M298.6 189.5h0M294.5 186.6h0M268.8 184.9h0M100.9 180.4h0M278.0 180.3h0M222.1 184.1h0M59.0 112.3h0M52.1 25.8h0M62.7 138.8h0M57.1 103.3h0"/>
<path stroke="#ff7c46" d="M158.6 180.9h0M259.9 185.8h0M110.3 182.4h0M110.6 178.7h0M153.8 180.5h0M310.8 182.2h0M298.5 183.3h0M290.7 179.3h0M110.7 175.5h0M158.3 183.5h0M230.6 182.7h0M179.1 188.8h0M90.5 174.9h0M319.7 180.6h0M107.8 178.6h0M214.8 182.7h0M293.7 181.6h0M158.6 184.3h0M266.4 185.9h0M285.4 188.6h0M287.5 185.3h0M232.9 184.0h0M329.5 185.7h0M92.8 174.8h0M286.6 186.0h0M118.5 183.1h0M66.1 152.0h0M62.7 133.4h0M52.1 35.6h0M330.1 177.6h0"/>
<path stroke="#75f87e" d="M73.8 164.6h0M101.1 183.9h0M192.0 186.0h0M85.1 176.3h0M152.3 189.2h0M223.5 183.4h0M123.8 181.2h0M62.4 135.1h0M54.1 62.0h0M107.8 183.6h0M215.8 183.8h0M202.3 182.3h0M221.4 184.1h0M196.0 184.5h0M197.1 185.4h0M111.6 181.0h0M205.9 190.1h0M330.9 185.8h0M188.5 182.0h0M110.6 179.1h0M316.6 185.9h0M238.9 184.8h0M102.4 179.7h0M315.0 183.4h0M139.6 181.6h0M207.0 188.4h0M229.6 181.7h0M70.9 159.5h0M243.5 182.6h0M97.5 178.0h0M290.8 186.2h0M160.6 188.6h0M225.1 189.5h0M239.6 182.2h0M275.5 187.3h0M58.5 108.7h0M197.5 188.3h0M182.0 185.7h0M149.2 189.3h0M223.1 183.8h0M329.1 184.3h0M70.7 161.8h0M182.1 188.7h0M73.8 162.7h0M291.9 187.3h0M191.9 189.8h0M290.8 184.0h0M56.9 95.2h0M62.3 134.2h0M51.2 31.4h0M51.0 31.8h0M51.6 32.2h0M57.3 105.3h0M53.2 52.9h0"/>
<path stroke="#f5c65a" d="M316.7 185.3h0M325.4 181.7h0M298.1 183.6h0M188.6 180.2h0M234.5 180.1h0M122.7 177.8h0M145.7 181.0h0M158.2 180.8h0M173.6 181.7h0M105.6 177.2h0M293.7 182.4h0M129.5 181.9h0M157.7 181.1h0M164.7 185.4h0M262.1 182.4h0M167.0 183.0h0M304.4 184.6h0M256.3 185.8h0M312.7 183.3h0M217.8 182.3h0M321.4 187.5h0M308.6 179.7h0M242.2 186.0h0M94.8 183.4h0M264.7 179.3h0M161.8 183.2h0M222.2 179.9h0M163.4 181.1h0M82.4 177.3h0M142.3 183.6h0M241.1 182.0h0M55.1 67.8h0M53.5 48.4h0M60.3 122.4h0M65.3 147.6h0"/>
<path stroke="#4ef2c1" d="M100.4 182.8h0M96.6 189.3h0M186.9 185.9h0M292.1 192.0h0M326.0 186.5h0M207.3 192.4h0M126.8 183.3h0M78.5 175.0h0M183.4 191.3h0M192.8 186.1h0M77.0 173.0h0M124.9 189.6h0M127.4 190.9h0M54.6 66.9h0M257.7 190.4h0M268.9 193.0h0M289.3 194.0h0M122.0 187.4h0M249.7 187.3h0M61.3 137.0h0M290.7 190.0h0M159.5 185.7h0M299.7 189.0h0M80.7 179.8h0M55.5 93.6h0M55.9 82.7h0M175.1 186.7h0M82.5 184.5h0M198.0 189.4h0M260.8 186.4h0M258.7 190.3h0M325.5 187.5h0M263.9 191.2h0M242.8 187.6h0M267.8 187.4h0M325.6 186.6h0M246.7 194.9h0M215.7 189.8h0M52.3 36.8h0M55.0 84.5h0M53.9 76.9h0M63.0 138.8h0"/>
<path stroke="#ff2020" d="M51.1 25.0h0M224.6 180.8h0M125.9 179.2h0M319.6 181.0h0M306.4 181.2h0M162.5 177.3h0M89.4 173.1h0M123.7 177.6h0M110.9 174.7h0M307.0 183.4h0M74.1 167.6h0M72.5 164.2h0M217.3 179.2h0M62.0 129.7h0M132.0 179.5h0M70.0 158.1h0M98.1 175.9h0M127.6 179.6h0M83.2 173.3h0M81.3 167.4h0M114.7 178.9h0M121.1 182.5h0M316.6 186.3h0M236.3 184.1h0M52.7 33.5h0M65.5 148.9h0M55.6 64.6h0M300.5 179.6h0M288.2 179.2h0M183.7 180.0h0M250.5 177.2h0M272.7 178.6h0M236.9 178.2h0M208.2 177.5h0M132.3 178.0h0M313.8 179.1h0M243.6 177.4h0M203.1 177.9h0M138.4 176.2h0M263.4 178.0h0"/>
<path stroke="#4ef2c1" d="M308.0 187.1h0M135.9 188.9h0M100.4 183.9h0M308.8 187.0h0M204.0 189.9h0M279.4 189.8h0M291.6 195.5h0M94.9 179.9h0M229.0 186.8h0M80.2 175.2h0M143.2 188.9h0M201.0 190.4h0M95.5 180.0h0M225.5 186.9h0M119.6 181.0h0M191.0 187.1h0M139.3 189.3h0M81.1 181.4h0M71.7 164.5h0M145.2 191.6h0M322.0 185.7h0M188.1 189.2h0M324.2 194.1h0M231.6 186.6h0M276.8 195.1h0M227.2 191.7h0M123.1 185.7h0M211.0 188.8h0M158.3 186.1h0M161.9 185.5h0M85.0 184.8h0M159.1 190.4h0M278.7 185.9h0M249.7 185.7h0M253.0 188.7h0M191.6 193.1h0M310.4 191.3h0M133.6 188.6h0M60.9 128.7h0M52.0 54.6h0M51.7 46.9h0M53.2 59.2h0"/>
<path stroke="#ff2e2b" d="M147.4 181.0h0M210.6 185.3h0M169.2 183.8h0M178.6 180.7h0M174.1 179.7h0M290.3 183.2h0M179.0 181.8h0M165.8 183.7h0M158.7 183.0h0M285.5 182.2h0M318.2 183.8h0M201.5 185.3h0M315.4 179.7h0M150.9 179.0h0M81.9 169.9h0M129.4 182.8h0M56.2 70.8h0M51.5 26.7h0M232.4 177.5h0M224.9 177.0h0M198.8 179.9h0M195.8 177.7h0M301.3 177.9h0M115.5 174.4h0M242.7 177.8h0M125.5 176.4h0M271.6 177.7h0M176.7 178.0h0M235.4 178.0h0M151.2 176.5h0M226.5 177.4h0M85.1 168.8h0M325.4 179.1h0M226.3 178.2h0M293.4 177.9h0M242.5 177.0h0"/>
<path stroke="#53f2b8" d="M279.4 191.3h0M186.5 191.1h0M155.0 193.3h0M167.7 191.6h0M128.9 184.6h0M292.9 193.5h0M75.3 169.0h0M194.6 191.0h0M201.9 185.2h0M83.7 178.7h0M192.4 194.5h0M320.4 188.9h0M218.9 188.1h0M54.6 67.7h0M201.6 193.4h0M297.2 194.1h0M159.5 192.2h0M68.8 157.9h0M90.6 181.2h0M260.0 192.4h0M143.0 186.0h0M306.1 196.2h0M251.3 192.8h0M311.7 191.2h0M76.2 174.7h0M130.8 185.3h0M206.3 189.8h0M291.1 187.1h0M213.0 191.2h0M259.8 187.7h0M137.5 182.9h0M182.2 193.4h0M69.8 165.2h0M113.1 190.0h0M147.1 188.4h0M209.1 185.2h0M144.7 192.2h0M241.0 189.9h0M177.7 185.6h0M56.5 95.3h0M51.3 35.2h0M53.4 67.9h0M54.4 82.8h0M57.1 102.8h0"/>
<path stroke="#355dff" d="M120.8 187.4h0M245.0 191.3h0M174.5 194.0h0M266.4 187.0h0M81.6 183.0h0M288.2 194.9h0M251.3 187.5h0M303.1 189.8h0M164.1 188.4h0M78.9 180.0h0M319.4 188.6h0M187.9 188.7h0M153.7 195.7h0M210.7 194.0h0M293.5 193.9h0M287.8 192.0h0M166.1 191.3h0M114.8 189.9h0M209.9 191.9h0M324.2 196.4h0M276.6 187.6h0M137.4 194.7h0M160.0 189.2h0M154.1 190.7h0M271.8 189.2h0M229.3 190.2h0M55.4 94.3h0M51.9 58.3h0M52.8 56.8h0M53.2 51.9h0"/>
<path stroke="#e2d75d" d="M128.7 181.3h0M244.3 179.9h0M214.3 186.8h0M326.3 183.7h0M84.1 176.2h0M184.9 187.0h0M99.5 177.3h0M234.3 182.2h0M259.4 181.8h0M75.4 165.9h0M101.3 176.8h0M165.8 186.7h0M254.0 181.8h0M227.0 186.7h0M327.1 180.7h0M72.2 167.1h0M63.9 138.2h0M88.9 178.4h0M240.4 185.9h0M88.1 172.7h0M94.0 174.9h0M193.0 185.1h0M259.7 188.4h0M88.7 177.3h0M270.3 181.9h0M89.3 173.1h0M113.4 178.7h0M297.8 185.1h0M280.4 182.6h0M93.2 179.4h0M271.2 180.0h0M56.6 91.7h0M61.0 128.8h0M65.0 143.1h0M68.0 153.6h0"/>
<path stroke="#ff2e2b" d="M275.7 184.5h0M126.8 179.8h0M69.3 154.6h0M200.7 187.9h0M172.7 181.0h0M128.8 179.6h0M52.6 39.9h0M170.8 179.2h0M81.9 172.7h0M110.6 177.5h0M215.7 179.8h0M147.7 186.0h0M251.4 181.2h0M320.1 185.1h0M65.6 143.7h0M261.2 185.5h0M53.6 33.9h0M59.8 113.3h0M106.5 173.4h0M275.6 177.7h0M305.4 177.4h0M169.9 176.8h0M250.2 178.1h0M173.8 177.4h0M328.6 177.7h0M160.7 178.8h0M269.9 177.5h0M221.6 177.5h0M109.7 173.9h0M156.3 177.1h0M220.0 178.2h0M294.0 178.4h0M118.9 175.2h0M172.7 177.1h0M223.3 177.5h0M308.7 177.5h0"/>
<path stroke="#3fa7ff" d="M77.9 176.5h0M98.2 182.4h0M145.4 191.0h0M136.0 185.0h0M312.7 191.7h0M132.7 187.5h0M215.9 195.3h0M112.9 190.0h0M152.8 187.3h0M237.5 194.1h0M195.0 187.4h0M121.0 191.3h0M293.3 190.4h0M284.6 189.7h0M265.4 188.6h0M277.3 191.6h0M77.5 176.2h0M223.2 196.7h0M267.0 193.1h0M283.7 189.9h0M270.5 190.5h0M70.9 166.9h0M170.6 188.3h0M154.8 195.3h0M60.3 126.8h0M260.7 188.6h0M303.7 186.9h0M184.5 187.2h0M239.7 187.7h0M261.1 188.2h0M83.1 180.6h0M244.8 186.3h0M166.2 187.2h0M298.9 195.8h0M319.1 191.5h0M242.6 189.6h0M55.4 94.1h0M62.0 142.8h0M53.2 59.0h0"/>
<path stroke="#3a7cff" d="M181.3 189.1h0M207.7 188.0h0M209.6 188.3h0M269.7 195.7h0M81.8 176.0h0M138.3 189.1h0M104.2 189.9h0M230.2 192.0h0M223.2 197.0h0M278.8 191.4h0M255.6 188.4h0M276.4 188.0h0M95.2 180.2h0M233.7 190.9h0M183.8 191.8h0M57.6 108.4h0M72.7 168.4h0M138.3 185.5h0M71.0 173.2h0M197.9 190.5h0M122.0 194.4h0M117.1 192.3h0M185.2 187.1h0M242.8 190.9h0M283.8 189.4h0M253.3 195.3h0M326.1 189.6h0M96.0 181.3h0M193.2 188.3h0M290.3 191.9h0M51.3 38.2h0M57.1 113.7h0"/>
<path stroke="#4af0db" d="M218.6 190.7h0M258.8 192.9h0M74.0 175.6h0M65.3 150.2h0M271.1 193.3h0M51.6 34.5h0M187.9 186.0h0M180.8 189.7h0M201.0 195.6h0M150.9 195.4h0M315.5 194.0h0M257.6 193.4h0M229.0 191.2h0M205.9 190.0h0M131.7 183.4h0M134.5 184.4h0M296.0 186.4h0M202.8 187.8h0M187.3 192.2h0M73.1 168.8h0M69.9 161.5h0M166.7 188.4h0M94.3 178.6h0M163.8 190.9h0M226.6 184.9h0M81.8 178.2h0M131.1 193.8h0M269.5 189.5h0M239.0 189.2h0M145.0 189.3h0M283.4 188.5h0M271.0 186.9h0M145.2 190.3h0M253.2 193.4h0M123.4 183.7h0M117.6 183.8h0M53.1 43.3h0M62.7 137.2h0M67.5 159.8h0M65.4 154.0h0"/>
<path stroke="#ff2322" d="M185.0 182.3h0M247.8 180.2h0M92.2 172.1h0M149.8 181.3h0M194.1 178.5h0M159.1 179.7h0M153.5 183.4h0M159.1 181.4h0M61.6 125.2h0M287.6 178.3h0M226.6 177.6h0M133.2 175.4h0M164.6 177.3h0M243.6 178.1h0M133.7 176.5h0M183.4 177.1h0M141.5 176.6h0M302.5 177.1h0M145.7 177.0h0M151.2 176.9h0M287.0 178.1h0M91.1 170.3h0"/>
<path stroke="#75f87e" d="M253.9 188.5h0M195.6 187.9h0M182.8 188.8h0M267.8 186.0h0M154.4 187.9h0M163.8 181.9h0M202.0 183.3h0M318.2 189.1h0M219.0 185.9h0M156.7 180.9h0M115.9 187.1h0M259.3 182.2h0M170.7 184.8h0M205.9 189.1h0M330.0 186.1h0M143.9 180.7h0M323.3 183.1h0M217.7 181.7h0M117.6 184.3h0M129.0 182.1h0M54.3 68.4h0M210.0 184.9h0M138.2 182.5h0M256.6 189.4h0M199.0 185.9h0M112.1 180.8h0M70.5 158.5h0M123.2 183.9h0M207.8 181.7h0M97.4 177.8h0M314.8 185.3h0M120.3 188.3h0M259.5 190.0h0M130.9 181.6h0M161.4 184.4h0M61.8 131.7h0M329.0 188.7h0M211.8 188.7h0M271.1 184.8h0M121.3 179.9h0M233.9 183.4h0M132.7 185.0h0M69.1 159.7h0M155.4 179.8h0M261.5 187.4h0M261.5 191.0h0M73.9 169.0h0M82.2 179.5h0M57.9 110.6h0M64.2 143.4h0M63.2 141.2h0M51.9 31.6h0M52.3 39.6h0M61.1 129.0h0"/>
<path stroke="#48dbfc" d="M201.4 186.6h0M292.6 190.8h0M235.3 192.5h0M166.1 188.9h0M150.5 186.0h0M96.1 181.1h0M114.9 188.8h0M227.9 188.5h0M319.7 191.1h0M85.4 184.0h0M265.6 193.7h0M54.7 75.0h0M157.6 189.5h0M218.1 189.7h0M55.9 85.4h0M125.7 190.9h0M104.2 191.5h0M245.9 190.0h0M57.2 103.5h0M66.7 154.6h0M57.0 100.1h0M247.8 186.8h0M281.6 188.0h0M78.0 174.3h0M53.8 65.7h0M291.1 195.2h0M311.5 187.9h0M77.8 172.1h0M244.3 187.1h0M175.2 187.2h0M254.2 187.6h0M135.5 186.1h0M235.9 188.9h0M149.8 186.9h0M128.3 190.9h0M54.7 76.0h0M63.0 144.9h0M53.9 57.1h0"/>
<path stroke="#3b8fff" d="M298.5 192.4h0M179.2 190.8h0M116.2 191.3h0M222.6 186.5h0M300.0 188.4h0M66.3 155.6h0M166.2 193.8h0M105.0 183.3h0M217.7 196.4h0M264.4 190.4h0M121.1 187.1h0M212.4 193.3h0M316.7 195.2h0M298.8 195.3h0M138.7 192.7h0M113.5 189.6h0M228.4 193.4h0M303.8 195.5h0M290.9 191.2h0M175.7 187.9h0M51.3 32.8h0M249.9 186.1h0M181.1 192.3h0M255.4 195.4h0M114.9 182.6h0M161.7 191.6h0M127.3 185.8h0M194.5 196.4h0M78.7 174.8h0M310.9 193.5h0M181.0 187.6h0M328.2 192.0h0M311.8 194.7h0M81.6 176.0h0M57.9 117.1h0M64.4 153.9h0M52.1 49.9h0M61.6 142.0h0M66.1 157.0h0"/>
<path stroke="#f5c65a" d="M98.0 177.4h0M157.8 184.4h0M302.3 185.5h0M261.8 181.0h0M278.1 188.1h0M196.1 180.1h0M227.6 185.1h0M327.2 189.1h0M135.0 179.7h0M154.9 184.6h0M322.3 181.9h0M233.3 186.1h0M249.7 187.2h0M240.5 187.8h0M96.8 181.0h0M225.5 189.0h0M98.1 183.1h0M102.4 178.2h0M137.2 180.2h0M124.5 178.7h0M293.0 185.8h0M245.7 185.0h0M164.6 184.2h0M132.8 187.7h0M216.4 184.4h0M241.9 187.1h0M321.9 184.6h0M165.1 187.7h0M72.8 169.5h0M62.0 128.4h0M53.5 49.0h0M52.2 43.8h0M54.7 64.1h0M61.7 134.4h0"/>
<path stroke="#2d3dff" d="M319.2 191.8h0M94.0 184.6h0M182.1 190.0h0M145.5 189.8h0M275.4 190.8h0M91.1 183.2h0M133.8 190.4h0M153.9 196.0h0M90.9 188.6h0M60.5 133.5h0M89.3 183.0h0M233.5 189.6h0M256.0 196.1h0M121.2 186.1h0M62.6 141.1h0M134.6 187.7h0M106.6 191.7h0M69.3 169.5h0M107.3 184.8h0M52.1 41.3h0M62.4 145.6h0M52.3 48.1h0"/>
<path stroke="#73f982" d="M53.5 63.2h0M78.1 173.1h0M87.2 176.7h0M268.7 183.3h0M205.4 185.1h0M265.2 182.4h0M56.2 85.1h0M154.8 185.1h0M282.4 183.3h0M73.5 170.4h0M329.0 182.4h0M233.0 184.0h0M215.1 189.6h0M286.5 182.7h0M309.9 186.4h0M270.1 182.9h0M294.9 182.0h0M292.0 185.9h0M323.2 188.2h0M307.3 187.2h0M69.4 162.1h0M251.7 190.4h0M111.2 188.2h0M276.8 182.5h0M294.4 183.9h0M262.2 187.2h0M281.4 183.1h0M310.8 182.5h0M306.2 183.8h0M111.6 181.1h0M91.6 177.3h0M85.9 176.1h0M142.4 188.7h0M131.5 189.1h0M236.4 184.4h0M211.3 184.1h0M93.7 175.5h0M224.1 190.7h0M253.6 189.0h0M144.9 184.8h0M214.8 192.5h0M76.6 168.9h0M167.6 191.7h0M108.2 182.2h0M165.8 181.6h0M60.2 127.9h0M205.0 186.9h0M274.6 183.5h0M267.0 186.8h0M119.8 179.5h0M58.2 112.5h0M63.5 138.5h0M52.7 38.7h0M57.9 108.3h0M51.9 46.2h0M58.4 116.8h0"/>
<path stroke="#2d3dff" d="M143.8 187.2h0M93.8 186.0h0M148.1 191.4h0M65.5 156.2h0M177.6 190.7h0M269.3 192.9h0M260.8 194.5h0M153.4 195.1h0M200.8 189.8h0M325.7 189.2h0M108.0 192.2h0M309.8 196.8h0M263.0 191.5h0M293.4 189.3h0M106.9 188.5h0M188.2 197.4h0M182.1 191.6h0M139.1 194.4h0M288.9 194.5h0M152.5 194.2h0M63.3 145.3h0M51.9 45.5h0M52.6 59.9h0"/>
<path stroke="#3fa7ff" d="M103.3 183.8h0M165.4 194.5h0M144.5 192.0h0M96.7 183.2h0M252.4 187.5h0M215.7 190.9h0M90.5 188.5h0M232.5 195.5h0M186.4 193.6h0M77.1 172.3h0M146.3 192.7h0M207.6 187.6h0M252.5 193.3h0M295.2 196.1h0M96.5 187.2h0M155.8 186.4h0M208.8 190.4h0M116.5 189.8h0M140.3 187.6h0M118.4 193.6h0M133.0 186.6h0M233.7 191.0h0M54.0 66.2h0M322.0 191.3h0M64.2 151.5h0M314.7 190.5h0M276.1 186.5h0M73.1 172.8h0M211.3 190.1h0M177.0 188.3h0M131.2 191.8h0M100.1 182.4h0M181.7 194.9h0M240.2 194.1h0M108.8 187.5h0M124.0 189.1h0M57.3 103.8h0M58.5 117.3h0M52.4 43.6h0"/>
<path stroke="#2a2fff" d="M233.5 193.7h0M277.3 191.5h0M92.4 185.0h0M269.3 195.4h0M83.2 183.7h0M269.2 193.3h0M302.6 188.9h0M327.2 197.4h0M144.4 190.9h0M166.6 191.5h0M127.2 193.3h0M162.7 194.1h0M91.6 184.6h0M244.0 187.8h0M60.8 135.9h0M233.8 194.1h0M209.4 191.5h0M224.3 189.7h0M295.3 188.5h0M52.0 56.4h0"/>
<path stroke="#48dbfc" d="M109.8 186.8h0M170.9 194.3h0M147.9 186.9h0M187.7 189.3h0M260.4 190.8h0M168.2 192.3h0M229.9 190.7h0M320.3 191.3h0M247.9 193.0h0M329.0 186.9h0M81.9 180.5h0M270.6 192.9h0M99.5 187.4h0M88.8 181.9h0M143.4 192.1h0M222.9 194.0h0M112.2 185.4h0M117.7 189.5h0M207.9 192.0h0M154.2 191.2h0M67.5 156.9h0M146.5 194.1h0M225.4 185.3h0M240.4 191.4h0M237.9 185.8h0M245.8 195.3h0M279.3 192.7h0M283.6 192.9h0M121.1 191.6h0M85.4 185.7h0M70.7 166.4h0M181.0 194.1h0M222.3 188.8h0M51.3 42.6h0M59.8 123.3h0M55.7 88.6h0M56.0 90.3h0M53.8 57.0h0"/>
<path stroke="#2f45ff" d="M122.5 191.3h0M282.4 191.2h0M172.3 192.7h0M157.3 188.4h0M117.0 192.2h0M129.7 188.1h0M115.6 185.6h0M96.3 188.2h0M126.8 192.3h0M311.2 188.1h0M272.3 188.3h0M95.9 190.4h0M127.9 189.0h0M60.4 135.1h0M105.4 192.0h0M302.0 197.1h0M243.9 190.7h0M144.4 187.7h0M306.7 197.3h0M107.2 186.5h0M147.9 194.8h0M284.2 192.6h0M323.4 187.7h0M143.0 190.2h0M53.1 56.7h0M54.8 76.1h0"/>
<path stroke="#4ef2c1" d="M296.7 185.6h0M245.8 195.8h0M93.5 183.6h0M162.9 185.6h0M58.4 118.5h0M211.7 187.9h0M134.4 187.4h0M132.1 190.8h0M184.9 192.7h0M115.8 185.9h0M116.4 188.6h0M297.1 191.0h0M271.4 193.5h0M298.7 190.1h0M125.1 190.5h0M100.4 189.1h0M191.9 187.1h0M142.2 192.0h0M87.6 179.8h0M159.3 188.9h0M214.6 192.8h0M280.7 192.2h0M87.7 181.7h0M97.6 185.7h0M186.1 183.2h0M59.7 122.1h0M272.2 193.6h0M159.3 186.5h0M293.1 185.6h0M63.0 138.4h0M205.5 192.3h0M196.1 188.6h0M219.5 191.4h0M143.7 184.6h0M75.9 173.7h0M248.1 192.9h0M199.7 192.7h0M133.9 185.3h0M51.9 39.6h0M53.7 64.0h0M67.6 154.6h0"/>
<path stroke="#ff4535" d="M66.2 144.0h0M289.0 181.1h0M84.3 168.8h0M253.8 186.1h0M61.5 130.5h0M144.6 183.0h0M212.3 183.2h0M201.2 180.9h0M324.3 182.9h0M275.2 183.9h0M120.0 177.0h0M163.0 186.0h0M198.7 181.4h0M250.7 180.6h0M225.9 186.2h0M190.7 186.0h0M194.8 180.9h0M156.8 179.0h0M51.4 26.6h0M64.1 136.8h0M62.0 132.2h0M101.2 173.4h0M275.9 177.7h0M321.3 177.6h0M230.1 178.5h0M131.9 176.7h0M247.2 178.0h0M215.2 177.2h0M126.7 176.0h0M87.4 169.0h0M207.6 177.9h0"/>
<path stroke="#44c2ff" d="M93.1 183.7h0M277.9 194.0h0M230.6 186.6h0M233.5 187.7h0M266.5 187.0h0M200.1 188.8h0M313.0 193.4h0M94.9 187.1h0M253.1 191.2h0M186.1 194.0h0M277.5 191.9h0M69.7 163.5h0M241.1 187.1h0M90.0 182.3h0M173.2 195.5h0M118.8 187.0h0M288.0 188.1h0M228.6 193.3h0M319.5 192.2h0M206.0 189.1h0M326.1 188.7h0M242.2 189.9h0M114.5 187.7h0M67.5 158.9h0M119.3 190.8h0M286.1 194.6h0M177.6 189.5h0M307.0 187.8h0M313.2 191.5h0M314.0 188.3h0M288.2 186.5h0M131.7 186.9h0M193.9 194.3h0M256.9 195.5h0M62.5 143.9h0M51.5 41.4h0M52.8 41.6h0M60.9 127.6h0"/>
<path stroke="#58f3b0" d="M172.9 186.9h0M121.7 188.3h0M257.6 187.0h0M291.9 188.8h0M144.2 187.2h0M91.4 178.4h0M140.7 190.2h0M264.6 186.8h0M239.7 192.1h0M62.0 139.6h0M85.5 180.4h0M155.9 192.5h0M166.4 185.1h0M290.7 186.0h0M324.6 192.9h0M107.2 187.0h0M287.5 186.1h0M330.6 190.0h0M60.0 122.9h0M171.9 188.5h0M161.4 192.1h0M241.3 187.8h0M307.5 191.3h0M118.2 186.7h0M220.8 187.7h0M287.6 186.8h0M327.0 193.6h0M211.5 191.3h0M178.3 190.4h0M226.8 191.2h0M137.2 192.2h0M134.6 186.5h0M194.6 189.1h0M55.6 87.9h0M55.2 71.8h0M58.0 106.8h0M61.5 138.2h0"/>
<path stroke="#3251ff" d="M63.9 144.7h0M143.7 194.2h0M301.5 190.0h0M105.9 187.6h0M96.0 184.6h0M264.8 190.4h0M172.3 188.4h0M255.0 189.4h0M146.1 192.8h0M90.4 187.4h0M232.9 191.4h0M318.2 195.9h0M57.9 116.9h0M95.0 189.9h0M116.3 193.5h0M263.4 195.8h0M296.4 187.7h0M216.7 189.5h0M167.0 191.6h0M232.0 189.9h0M324.5 189.2h0M200.5 191.6h0M302.5 189.1h0M183.5 191.7h0M202.9 188.7h0M218.5 191.9h0M52.6 47.2h0M53.2 69.5h0"/>
<path stroke="#ff362e" d="M277.5 179.6h0M161.4 181.8h0M92.3 176.0h0M93.7 181.1h0M167.4 179.9h0M123.9 181.9h0M98.1 178.3h0M225.7 182.8h0M57.2 92.3h0M89.8 179.3h0M270.0 181.5h0M52.4 32.9h0M239.4 182.5h0M308.4 184.3h0M304.6 180.6h0M259.4 182.0h0M102.4 181.7h0M150.1 181.4h0M250.8 183.7h0M119.8 184.1h0M274.5 180.8h0M121.4 181.3h0M135.5 182.5h0M67.2 149.5h0M52.9 33.0h0M53.2 34.8h0M56.8 89.1h0M146.2 178.8h0M237.4 178.7h0M219.7 177.6h0M279.6 177.6h0M108.4 175.3h0M270.3 179.2h0M166.9 177.3h0M197.4 178.6h0M206.7 178.7h0M231.8 178.7h0M330.3 177.4h0M322.0 178.6h0M189.3 178.4h0"/>
<path stroke="#58f3b0" d="M166.9 185.8h0M172.1 191.4h0M301.3 185.6h0M322.9 192.2h0M330.3 191.9h0M105.0 182.5h0M280.0 188.9h0M248.4 190.7h0M330.8 189.5h0M161.9 190.9h0M242.6 190.2h0M307.2 183.2h0M120.2 182.3h0M282.9 188.9h0M74.0 169.4h0M317.4 192.8h0M220.6 185.7h0M325.1 190.9h0M110.1 188.5h0M156.8 184.8h0M79.5 179.8h0M284.6 186.2h0M244.6 188.5h0M281.4 184.0h0M182.9 184.9h0M83.5 182.7h0M163.6 189.7h0M234.7 188.2h0M226.1 188.6h0M245.0 190.0h0M295.1 186.4h0M62.2 139.9h0M304.9 186.3h0M52.9 55.9h0M58.6 116.2h0M62.3 136.9h0M51.1 37.5h0"/>
<path stroke="#cce860" d="M203.9 186.0h0M53.5 61.9h0M284.5 191.6h0M181.8 182.8h0M127.0 186.5h0M112.1 178.8h0M284.8 187.9h0M195.2 180.3h0M274.6 187.1h0M245.4 190.1h0M186.9 188.8h0M327.1 184.2h0M271.7 185.3h0M300.8 189.0h0M147.8 184.2h0M162.3 180.7h0M312.9 190.1h0M89.9 180.4h0M277.9 183.2h0M157.1 180.3h0M120.4 182.4h0M119.6 181.9h0M85.9 176.8h0M51.0 32.0h0M153.5 186.8h0M237.8 182.6h0M265.1 186.0h0M285.0 183.4h0M205.7 183.5h0M56.8 96.2h0M302.4 189.2h0M85.5 172.0h0M287.0 181.8h0M95.5 184.7h0M225.0 180.5h0M78.6 170.8h0M271.1 182.3h0M259.5 184.1h0M56.6 91.6h0M54.6 71.4h0M67.8 155.7h0M62.9 135.1h0M52.0 35.6h0M62.1 136.4h0"/>
<path stroke="#73f982" d="M171.0 188.8h0M189.8 184.2h0M169.9 189.9h0M289.4 187.4h0M265.8 188.1h0M312.7 185.7h0M83.0 174.8h0M82.6 174.3h0M172.1 182.4h0M51.5 30.5h0M319.0 187.9h0M125.7 185.5h0M97.4 185.0h0M240.5 192.6h0M111.2 179.7h0M82.0 173.5h0M206.3 191.8h0M120.1 188.5h0M266.5 183.5h0M294.0 187.8h0M118.5 183.4h0M254.4 183.9h0M330.1 180.8h0M310.2 183.8h0M200.8 187.0h0M160.7 182.7h0M188.3 184.5h0M180.4 183.6h0M323.4 182.4h0M273.3 183.6h0M214.0 190.0h0M128.5 180.9h0M61.0 127.4h0M175.8 182.3h0M274.7 185.9h0M276.8 188.2h0M154.9 187.3h0M174.9 183.8h0M85.4 173.5h0M276.8 190.3h0M265.9 184.2h0M158.5 185.4h0M316.8 183.9h0M271.6 188.0h0M184.9 183.7h0M211.9 191.7h0M320.0 184.2h0M115.9 180.4h0M115.4 184.9h0M90.0 181.2h0M147.8 181.6h0M65.8 147.0h0M53.1 59.2h0M51.5 33.6h0M53.8 56.5h0M62.3 139.4h0M57.9 98.8h0"/>
<path stroke="#2828ff" d="M311.2 195.5h0M132.3 195.6h0M122.4 191.6h0M257.3 194.0h0M209.7 194.3h0M119.6 191.7h0M298.5 197.0h0M307.8 198.5h0M309.5 195.8h0M160.6 189.5h0M260.6 192.8h0M275.3 190.7h0M119.4 186.6h0M113.4 191.6h0M88.8 185.8h0M104.9 190.0h0M64.7 149.2h0M311.1 198.2h0M315.9 193.8h0M213.8 192.0h0M284.8 193.5h0M214.8 197.3h0M156.5 188.9h0M61.4 132.8h0M144.0 193.4h0M55.7 100.1h0M247.2 188.8h0M306.8 190.1h0M197.7 189.2h0M80.7 176.0h0M251.1 190.3h0M223.9 192.6h0M325.4 197.3h0M186.6 192.5h0M259.4 196.7h0M199.0 194.8h0M226.0 189.5h0M93.9 187.6h0M327.6 194.0h0M58.2 123.0h0M56.9 108.5h0M55.0 82.5h0"/>
<path stroke="#5ef3a8" d="M330.8 190.7h0M99.7 188.9h0M256.8 188.1h0M265.1 186.4h0M59.5 121.0h0M146.1 193.4h0M204.0 190.8h0M297.5 187.6h0M164.6 191.5h0M184.5 191.1h0M74.2 166.7h0M99.4 182.1h0M226.4 190.4h0M270.1 188.6h0M167.9 184.8h0M178.7 193.0h0M188.1 190.7h0M201.4 187.3h0M126.4 183.8h0M127.1 183.6h0M119.4 189.6h0M51.6 37.7h0M297.9 185.7h0M166.2 188.6h0M235.5 191.1h0M174.8 188.1h0M326.5 193.2h0M283.7 194.3h0M232.8 189.1h0M97.6 181.6h0M185.9 189.1h0M211.8 190.5h0M142.4 185.0h0M249.1 193.8h0M56.6 88.8h0M53.2 53.9h0M55.8 86.0h0M51.2 29.2h0"/>
<path stroke="#ff2624" d="M227.7 183.7h0M173.3 179.7h0M143.1 184.1h0M324.9 183.0h0M105.0 174.5h0M295.1 178.9h0M126.9 180.1h0M122.7 182.6h0M265.7 178.7h0M245.7 186.5h0M303.8 185.3h0M220.4 183.4h0M63.5 132.7h0M249.0 179.6h0M120.9 175.0h0M174.4 176.8h0M134.8 176.2h0M160.4 177.4h0M142.1 177.1h0M221.2 178.6h0M193.1 178.2h0M282.7 178.6h0M203.1 177.2h0M62.4 126.3h0M201.6 179.4h0M260.6 178.0h0M244.0 177.1h0"/>
<path stroke="#3a7cff" d="M292.4 189.3h0M316.7 192.6h0M258.6 195.9h0M110.0 193.3h0M210.4 189.9h0M95.6 181.1h0M265.2 186.3h0M217.5 187.0h0M59.3 125.1h0M315.7 196.7h0M195.1 194.8h0M117.3 195.4h0M120.8 184.4h0M169.5 194.6h0M301.6 194.3h0M83.7 184.5h0M307.1 192.2h0M281.1 189.2h0M264.6 191.5h0M121.7 193.0h0M294.9 194.5h0M86.8 181.9h0M205.9 191.1h0M312.1 194.3h0M56.2 95.7h0M203.9 187.8h0M160.1 191.6h0M124.1 187.4h0M143.7 192.1h0M57.9 110.1h0M51.6 35.8h0M66.9 153.2h0"/>
<path stroke="#ff4535" d="M255.1 188.4h0M284.2 182.8h0M159.9 178.4h0M126.1 186.1h0M228.7 182.0h0M82.6 170.3h0M283.6 178.9h0M142.0 178.8h0M216.2 185.3h0M224.7 181.0h0M93.6 178.4h0M98.0 181.5h0M177.5 180.5h0M134.1 176.9h0M203.8 186.1h0M184.2 178.1h0M191.9 182.4h0M106.6 174.9h0M51.3 30.2h0M51.1 27.4h0M58.9 107.4h0M179.9 178.0h0M249.6 177.0h0M96.9 172.6h0M187.1 179.7h0M297.9 177.7h0M278.9 178.4h0M322.4 178.8h0M253.7 178.5h0M108.9 174.3h0M110.8 175.6h0"/>
<path stroke="#ff553b" d="M98.5 173.9h0M193.0 178.9h0M146.6 180.6h0M269.4 187.9h0M106.9 174.8h0M283.1 179.5h0M233.9 179.7h0M68.7 158.7h0M236.8 185.1h0M125.0 181.7h0M133.9 181.2h0M322.3 187.2h0M81.0 170.1h0M179.2 179.7h0M160.9 185.8h0M279.6 179.6h0M238.4 185.2h0M90.3 171.4h0M316.8 184.7h0M230.3 183.1h0M219.2 186.6h0M266.5 181.2h0M206.6 179.0h0M53.9 58.8h0M53.4 51.4h0M56.9 93.5h0M63.1 139.9h0M119.2 174.9h0M223.9 178.3h0M220.4 178.2h0M158.6 176.8h0M177.4 177.8h0M139.8 176.7h0M101.7 174.0h0"/>
<path stroke="#44c2ff" d="M293.7 191.3h0M245.9 187.6h0M303.8 193.3h0M157.3 186.9h0M228.4 188.1h0M81.9 180.4h0M75.2 175.8h0M197.7 189.4h0M104.6 183.2h0M150.0 188.9h0M115.8 188.7h0M297.2 189.1h0M146.1 189.3h0M218.8 190.1h0M263.9 187.4h0M298.1 186.4h0M261.1 195.5h0M309.0 190.3h0M306.9 195.4h0M65.8 153.3h0M276.7 188.7h0M162.2 186.7h0M222.8 187.9h0M255.3 193.5h0M226.2 192.1h0M152.6 190.7h0M141.3 190.5h0M304.7 190.2h0M96.8 188.3h0M298.1 196.8h0M201.8 194.8h0M107.5 185.2h0M140.3 191.8h0M251.2 189.1h0M51.0 42.2h0M52.0 44.9h0M64.7 146.7h0"/>
<path stroke="#fea451" d="M263.1 186.2h0M302.4 182.4h0M322.2 183.8h0M283.6 185.7h0M300.8 181.7h0M141.8 181.4h0M122.1 184.3h0M270.1 186.2h0M115.0 183.2h0M104.3 180.2h0M287.0 182.3h0M72.8 167.5h0M276.7 182.7h0M140.5 182.8h0M247.9 181.0h0M311.4 188.0h0M238.1 183.6h0M102.5 175.7h0M247.8 188.9h0M322.1 186.6h0M136.6 187.6h0M197.9 185.8h0M215.6 185.0h0M294.1 180.5h0M148.3 187.1h0M52.1 42.2h0M60.3 118.6h0"/>
<path stroke="#ff2020" d="M243.2 185.9h0M128.9 176.8h0M308.6 184.8h0M53.5 32.7h0M72.2 158.8h0M96.8 172.5h0M107.4 182.3h0M161.4 179.8h0M195.3 181.5h0M326.6 178.6h0M263.5 178.4h0M208.9 183.1h0M315.0 180.7h0M215.4 178.8h0M202.9 184.9h0M204.7 180.2h0M296.3 181.4h0M314.9 180.1h0M243.4 184.6h0M307.8 181.0h0M88.7 170.4h0M141.3 185.9h0M191.8 179.6h0M287.6 182.0h0M52.2 31.8h0M52.9 27.1h0M57.5 95.8h0M51.2 32.3h0M138.8 176.6h0M191.1 177.5h0M72.8 160.2h0M197.4 177.9h0M250.9 177.7h0M227.9 178.6h0M130.6 175.7h0M105.3 173.9h0M173.1 178.6h0M123.0 176.2h0M168.4 176.5h0M162.1 176.8h0"/>
<path stroke="#aaef65" d="M99.8 176.5h0M99.0 176.7h0M73.4 166.2h0M85.2 170.0h0M72.4 165.5h0M302.6 180.3h0M93.8 181.0h0M299.5 186.2h0M302.3 189.6h0M166.8 187.2h0M166.6 181.2h0M144.8 187.0h0M133.1 185.3h0M159.1 180.4h0M206.1 187.1h0M187.0 186.9h0M300.9 189.1h0M63.4 137.4h0M123.0 184.4h0M103.2 180.4h0M192.4 180.7h0M156.2 182.1h0M217.8 182.3h0M271.1 181.6h0M263.0 183.0h0M102.3 176.7h0M60.6 129.3h0M201.8 185.4h0M179.7 185.4h0M187.0 181.2h0M95.2 178.2h0M293.6 181.4h0M235.2 189.1h0M233.0 188.7h0M255.3 190.0h0M182.7 188.3h0M186.5 189.3h0M66.4 154.9h0M53.6 45.3h0M59.2 112.0h0M51.5 30.1h0M52.7 38.6h0"/>
<path stroke="#ff2020" d="M152.7 179.3h0M226.9 180.6h0M163.8 178.8h0M94.8 173.5h0M196.9 181.6h0M233.9 185.9h0M205.3 186.2h0M230.4 182.1h0M201.7 181.7h0M119.0 178.1h0M292.3 181.2h0M128.9 178.1h0M56.7 83.8h0M284.1 186.9h0M131.7 176.2h0M188.0 180.3h0M250.4 183.5h0M79.4 170.8h0M152.5 182.9h0M197.0 183.5h0M80.5 170.4h0M203.7 185.2h0M151.5 180.3h0M284.7 182.4h0M67.5 153.9h0M57.4 92.4h0M61.3 121.6h0M62.5 127.6h0M115.1 175.3h0M309.5 180.0h0M157.7 177.9h0M293.6 178.1h0M279.3 178.5h0M112.6 174.2h0M251.1 179.2h0M106.1 173.6h0M295.3 177.2h0M66.6 144.0h0M257.8 178.6h0M184.0 177.0h0"/>
<path stroke="#6df98e" d="M53.7 69.4h0M111.3 182.9h0M81.4 177.5h0M206.0 188.3h0M136.1 186.8h0M281.6 185.2h0M233.8 184.6h0M284.0 188.0h0M96.8 187.3h0M111.8 186.3h0M294.7 191.4h0M162.3 188.2h0M91.4 180.3h0M329.5 192.2h0M324.8 188.5h0M318.7 189.6h0M218.1 184.7h0M68.4 163.3h0M240.6 182.6h0M294.5 184.2h0M176.6 186.0h0M132.7 189.3h0M106.2 185.7h0M169.5 186.3h0M118.8 182.0h0M298.4 190.6h0M269.0 183.3h0M176.6 189.3h0M166.9 183.3h0M300.8 191.1h0M318.0 188.5h0M172.1 184.6h0M174.3 187.7h0M266.2 185.4h0M68.2 156.1h0M191.2 190.1h0M174.2 184.9h0M165.4 185.6h0M301.3 182.3h0M190.7 185.5h0M86.4 177.6h0M216.9 184.4h0M270.6 192.8h0M53.4 44.2h0M56.0 86.0h0M53.8 55.0h0M54.3 66.7h0M56.1 82.8h0M51.7 34.1h0"/>
<path stroke="#e2d75d" d="M135.4 187.1h0M229.9 188.2h0M306.7 184.8h0M319.0 180.4h0M174.7 183.5h0M184.8 187.2h0M328.8 187.5h0M327.3 181.5h0M94.0 183.9h0M270.4 186.5h0M102.6 181.9h0M230.2 181.8h0M288.2 190.1h0M191.9 183.8h0M130.3 186.0h0M196.8 184.8h0M142.9 188.4h0M151.0 181.5h0M224.2 179.8h0M289.6 183.8h0M235.9 185.4h0M192.5 183.5h0M185.1 192.4h0M73.0 165.6h0M239.6 182.1h0M165.9 183.1h0M78.1 167.5h0M307.6 188.6h0M281.1 180.7h0M238.7 188.4h0M123.3 179.6h0M151.6 186.5h0M54.7 71.9h0M61.7 127.5h0M60.2 120.6h0"/>
<path stroke="#ff7c46" d="M324.3 185.5h0M97.3 176.9h0M300.3 182.1h0M314.8 183.8h0M71.1 161.5h0M148.3 185.7h0M164.6 186.3h0M118.5 176.3h0M85.2 173.4h0M212.0 179.7h0M322.6 178.6h0M125.0 182.3h0M60.2 114.5h0M91.1 180.2h0M155.7 178.6h0M261.2 179.5h0M67.3 154.0h0M75.9 168.1h0M327.2 183.6h0M122.0 181.9h0M294.5 182.2h0M170.6 180.4h0M61.8 124.1h0M176.1 184.4h0M197.7 179.9h0M64.0 143.6h0M51.0 28.2h0M58.2 112.3h0M239.7 177.6h0M214.4 179.0h0"/>
<path stroke="#5ef3a8" d="M142.4 191.1h0M304.7 183.0h0M209.0 188.0h0M118.1 190.0h0M174.7 189.2h0M294.7 191.3h0M249.5 192.4h0M292.1 191.5h0M248.7 191.0h0M274.0 186.3h0M221.0 188.2h0M137.0 186.6h0M151.3 192.2h0M271.6 191.1h0M63.1 137.2h0M229.8 185.4h0M176.2 187.3h0M152.0 190.7h0M127.0 180.7h0M64.2 140.1h0M217.6 192.0h0M242.5 185.2h0M126.7 184.6h0M55.5 89.5h0M214.8 183.5h0M222.2 189.8h0M279.3 190.4h0M88.2 184.1h0M125.1 185.1h0M259.4 186.7h0M156.9 188.3h0M301.6 187.7h0M208.6 189.7h0M306.5 190.2h0M62.1 140.2h0M59.2 117.5h0M53.8 58.4h0M51.3 33.9h0"/>
<path stroke="#6af893" d="M148.1 181.5h0M131.5 192.1h0M201.1 185.4h0M256.9 187.9h0M151.3 188.0h0M212.7 185.4h0M63.7 141.0h0M324.4 182.8h0M164.8 184.0h0M220.4 188.9h0M297.1 190.6h0M317.0 182.3h0M265.9 185.1h0M207.1 187.5h0M96.0 177.8h0M255.0 185.8h0M232.0 188.4h0M108.7 185.9h0M159.8 186.9h0M268.1 189.5h0M173.5 183.8h0M151.7 184.2h0M204.1 190.0h0M125.2 184.4h0M211.9 190.4h0M305.4 182.1h0M66.7 150.7h0M96.0 182.9h0M296.0 189.1h0M256.0 184.5h0M167.7 189.4h0M297.1 186.3h0M200.1 184.9h0M142.6 183.5h0M126.7 184.3h0M284.2 184.9h0M52.6 40.9h0M62.3 129.7h0M60.1 121.3h0M142.8 187.9h0M330.0 192.0h0M101.6 185.5h0M280.0 192.8h0M136.8 181.2h0M208.6 190.0h0M265.6 188.1h0M60.2 124.9h0M66.4 151.8h0M58.6 118.2h0M55.2 79.8h0M55.0 72.7h0"/>
<path stroke="#68f698" d="M148.3 183.7h0M274.3 184.7h0M176.0 192.2h0M252.4 188.0h0M60.9 129.0h0M296.2 189.2h0M108.7 185.8h0M168.5 185.6h0M55.9 88.5h0M286.7 184.1h0M329.7 189.8h0M207.5 190.0h0M149.6 183.8h0M311.6 189.0h0M57.3 108.1h0M211.6 183.9h0M254.9 188.5h0M211.3 189.5h0M223.6 182.8h0M114.5 187.8h0M133.8 183.1h0M113.4 186.9h0M201.3 187.3h0M153.0 186.0h0M323.1 185.9h0M175.1 185.0h0M118.3 181.3h0M244.4 185.9h0M179.5 188.9h0M256.6 187.9h0M233.6 192.8h0M232.6 187.2h0M325.7 186.9h0M253.0 188.6h0M179.5 191.9h0M308.8 186.8h0M233.8 188.3h0M288.7 189.4h0M313.2 184.5h0M315.1 188.5h0M235.8 188.4h0M55.4 74.7h0M54.3 69.1h0M64.3 148.3h0M54.9 67.7h0"/>
<path stroke="#63f3a1" d="M112.5 186.1h0M255.3 190.6h0M85.9 179.8h0M318.5 193.8h0M167.1 184.4h0M155.6 188.2h0M265.3 191.2h0M283.2 187.6h0M203.0 187.3h0M301.2 184.3h0M191.1 190.3h0M308.4 191.5h0M150.4 188.7h0M117.1 185.2h0M291.6 185.6h0M126.9 186.1h0M67.8 162.3h0M144.1 185.9h0M302.5 185.5h0M159.6 187.2h0M239.3 192.2h0M192.0 184.0h0M146.9 184.2h0M162.8 187.3h0M115.9 183.6h0M311.7 190.4h0M78.0 173.8h0M207.4 185.1h0M203.5 185.4h0M65.4 156.4h0M62.6 135.7h0M277.9 189.0h0M155.0 186.0h0M81.2 174.0h0M64.0 143.8h0M268.6 184.6h0M292.4 192.2h0M96.9 180.0h0M51.0 34.4h0M53.0 45.1h0M58.9 123.4h0M66.3 154.4h0M55.8 85.2h0M51.5 35.6h0"/>
<path stroke="#ff2e2b" d="M165.2 178.3h0M183.7 185.2h0M240.2 180.4h0M111.6 183.7h0M313.5 183.6h0M131.7 183.6h0M280.6 185.9h0M225.9 178.6h0M181.0 184.9h0M103.6 175.8h0M311.1 180.5h0M102.3 183.0h0M129.9 177.3h0M163.4 180.1h0M302.8 183.5h0M58.2 100.4h0M51.2 20.3h0M57.6 98.4h0M161.8 176.6h0M157.9 178.4h0M109.5 173.2h0M247.9 177.6h0M138.2 176.2h0M88.5 170.2h0M258.7 177.4h0M91.1 171.7h0M123.4 174.5h0M134.8 177.4h0M108.3 175.9h0M120.4 176.7h0M319.3 177.5h0M257.6 178.6h0M115.2 175.0h0M218.2 177.5h0M108.1 174.0h0M155.7 177.0h0"/>
<path stroke="#ff6741" d="M155.4 184.3h0M120.8 180.6h0M198.7 187.1h0M173.4 178.1h0M160.1 185.5h0M302.1 181.1h0M280.9 182.6h0M316.4 182.3h0M262.7 184.9h0M193.3 186.9h0M308.3 180.7h0M156.4 180.7h0M152.0 186.0h0M116.6 185.3h0M269.2 180.7h0M143.2 183.0h0M282.3 183.3h0M308.6 188.0h0M325.1 186.3h0M267.6 184.8h0M180.5 187.5h0M80.3 167.1h0M106.5 174.8h0M324.9 185.3h0M304.6 184.6h0M62.6 135.9h0M65.7 150.0h0M67.8 151.4h0M100.1 172.5h0M66.2 141.8h0M260.9 179.3h0M252.6 179.5h0M131.2 177.1h0"/>
<path stroke="#71f986" d="M219.2 183.8h0M206.2 192.5h0M269.1 187.1h0M118.4 181.0h0M96.9 179.4h0M243.4 186.3h0M155.3 188.7h0M247.2 184.4h0M189.0 188.3h0M216.4 184.7h0M157.9 189.1h0M190.1 185.6h0M158.4 182.1h0M86.4 175.9h0M150.9 188.2h0M102.4 184.6h0M92.5 177.1h0M254.8 185.8h0M118.4 182.0h0M253.6 183.8h0M243.3 187.4h0M78.9 176.0h0M191.3 183.9h0M185.8 184.0h0M148.4 188.7h0M147.2 183.0h0M294.9 187.4h0M218.5 190.9h0M276.9 187.2h0M196.1 189.6h0M139.5 183.0h0M233.2 188.0h0M106.1 185.7h0M211.5 186.0h0M325.1 190.2h0M245.2 183.1h0M87.0 180.7h0M85.1 180.2h0M150.9 191.2h0M121.5 183.9h0M271.2 187.6h0M276.6 190.2h0M164.0 186.5h0M170.6 185.0h0M289.6 188.1h0M302.9 184.6h0M193.6 190.0h0M166.8 185.0h0M193.8 187.1h0M280.3 182.3h0M114.3 182.5h0M206.1 183.9h0M210.2 187.0h0M229.1 189.1h0M54.7 61.8h0M57.3 109.1h0M56.9 101.3h0M51.8 38.5h0M53.1 52.2h0"/>
<path stroke="#6af893" d="M258.7 190.8h0M290.0 189.5h0M292.6 194.2h0M303.4 184.9h0M257.6 189.4h0M106.0 180.8h0M55.7 79.2h0M212.8 188.1h0M209.6 185.2h0M93.5 178.3h0M176.5 186.0h0M267.7 188.6h0M61.8 128.5h0M124.7 187.0h0M161.8 184.8h0M160.3 183.1h0M294.5 186.5h0M91.9 186.5h0M190.8 190.8h0M286.1 188.1h0M226.0 191.9h0M206.8 184.4h0M206.7 189.1h0M171.9 188.3h0M247.5 188.6h0M258.0 186.2h0M138.4 182.3h0M206.8 188.9h0M201.5 184.5h0M163.3 190.1h0M107.8 187.2h0M88.5 178.0h0M198.4 186.7h0M302.0 183.6h0M306.0 192.3h0M295.2 190.1h0M272.2 190.8h0M185.8 192.2h0M212.2 187.7h0M74.4 172.4h0M128.7 185.9h0M164.6 187.3h0M167.3 186.0h0M75.0 176.0h0M205.5 187.8h0M53.4 49.5h0M58.9 111.3h0M51.8 43.9h0M63.2 143.1h0M52.9 41.2h0"/>
<path stroke="#ff2926" d="M179.3 183.9h0M244.3 179.8h0M247.0 186.1h0M222.5 186.1h0M277.8 181.3h0M135.0 179.4h0M176.9 177.9h0M275.2 179.8h0M242.6 185.2h0M204.8 181.1h0M298.4 178.0h0M189.1 182.6h0M54.8 57.9h0M60.8 124.3h0M169.1 178.0h0M255.0 176.8h0M278.5 178.5h0M60.3 113.3h0M270.5 178.6h0M274.6 178.1h0M318.1 178.4h0M129.1 175.6h0M295.3 177.5h0M85.2 168.6h0M188.5 177.5h0"/>
<path stroke="#2a2fff" d="M88.2 188.7h0M190.6 193.0h0M232.7 195.2h0M292.8 190.0h0M109.8 188.9h0M309.3 192.0h0M87.1 189.4h0M271.5 193.3h0M311.1 191.4h0M205.8 190.3h0M222.8 194.3h0M71.7 175.4h0M262.9 194.9h0M54.6 86.8h0M132.9 187.3h0M322.1 194.4h0M138.6 189.4h0M150.7 193.2h0M62.3 147.0h0M58.8 119.3h0"/>
<path stroke="#ff4535" d="M301.5 181.9h0M81.1 168.4h0M276.8 186.7h0M250.1 178.3h0M192.9 182.1h0M306.9 178.4h0M58.4 112.5h0M245.0 178.7h0M105.6 181.4h0M269.1 188.3h0M317.8 186.8h0M175.6 185.8h0M154.8 179.8h0M264.2 186.6h0M145.9 183.2h0M241.2 180.7h0M137.7 180.7h0M185.6 181.8h0M61.7 125.2h0M61.7 132.1h0M54.5 62.7h0M243.9 178.7h0M184.6 177.3h0M219.8 178.7h0M251.5 177.7h0M306.6 179.9h0M148.9 176.5h0M124.6 176.7h0M286.9 177.3h0M120.7 176.2h0M251.2 179.8h0"/>
<path stroke="#3251ff" d="M70.1 170.6h0M172.8 192.6h0M210.6 197.5h0M247.2 190.4h0M200.8 190.1h0M136.5 187.4h0M240.2 195.3h0M263.9 195.7h0M211.5 188.5h0M294.8 195.0h0M57.5 109.9h0M261.3 190.9h0M328.4 189.0h0M181.6 189.2h0M59.9 127.5h0M143.0 188.5h0M132.4 188.2h0M126.6 186.6h0M99.9 185.8h0M127.0 188.1h0M104.5 187.7h0M155.1 195.6h0M201.6 196.3h0M309.4 195.7h0M272.6 191.0h0M251.2 193.8h0M55.3 82.8h0M51.6 44.4h0M52.2 58.2h0"/>
<path stroke="#ff904c" d="M77.0 171.9h0M242.4 188.7h0M249.8 186.9h0M147.4 184.2h0M163.0 185.6h0M82.0 170.8h0M301.7 182.5h0M163.3 179.9h0M309.6 180.2h0M330.1 180.1h0M312.1 180.1h0M72.4 168.3h0M254.4 186.8h0M119.9 181.5h0M221.3 185.9h0M98.5 176.1h0M258.3 187.8h0M174.9 181.5h0M64.4 144.1h0M180.4 182.5h0M239.9 187.0h0M269.8 184.6h0M259.0 179.8h0M107.8 177.1h0M162.7 188.9h0M120.8 180.9h0M55.4 70.8h0M51.1 31.2h0M53.1 48.0h0M58.4 112.1h0"/>
<path stroke="#aaef65" d="M87.3 173.0h0M97.4 180.8h0M69.6 156.7h0M221.2 186.3h0M130.6 180.5h0M257.8 190.4h0M244.3 185.3h0M319.4 181.8h0M56.4 83.8h0M259.2 191.5h0M236.4 188.1h0M265.7 187.4h0M324.2 181.3h0M250.0 188.0h0M229.2 183.2h0M315.8 186.7h0M174.1 186.3h0M217.9 183.9h0M315.8 181.2h0M187.6 188.4h0M229.2 185.1h0M299.1 190.4h0M291.4 187.8h0M293.3 184.4h0M190.4 186.2h0M167.2 182.4h0M95.9 179.2h0M305.1 189.9h0M145.7 180.9h0M300.3 181.3h0M267.5 185.4h0M65.2 150.6h0M235.5 185.5h0M281.8 185.0h0M197.4 185.6h0M203.1 189.0h0M181.8 187.1h0M255.3 183.8h0M52.1 31.3h0M57.5 101.4h0M57.1 103.7h0M56.5 78.8h0"/>
<path stroke="#cce860" d="M224.6 185.5h0M55.3 77.7h0M226.6 182.4h0M286.5 184.3h0M231.5 185.4h0M205.7 185.7h0M101.2 182.0h0M265.3 181.9h0M175.9 185.9h0M84.4 172.6h0M82.9 174.2h0M192.0 187.9h0M324.1 182.7h0M90.5 176.5h0M249.5 182.8h0M170.0 179.5h0M218.2 181.8h0M291.0 182.5h0M211.4 190.2h0M255.6 186.1h0M258.2 185.4h0M128.0 186.4h0M276.4 185.7h0M114.1 181.2h0M96.6 180.2h0M145.1 182.4h0M151.3 185.7h0M225.7 183.9h0M134.4 183.6h0M143.2 187.4h0M238.1 188.0h0M328.1 187.7h0M64.5 141.5h0M146.2 182.5h0M123.1 178.3h0M231.5 184.6h0M174.7 182.1h0M65.0 146.4h0M59.6 118.2h0M67.9 154.4h0M57.1 93.6h0M51.7 41.0h0M52.5 40.8h0"/>
<path stroke="#ff2b29" d="M153.9 182.9h0M204.7 178.1h0M208.9 181.5h0M245.4 183.7h0M125.9 180.9h0M297.0 182.9h0M230.8 178.3h0M56.8 90.1h0M244.9 182.6h0M154.5 184.9h0M164.1 180.1h0M245.4 185.9h0M228.6 181.8h0M209.9 180.5h0M67.6 150.6h0M59.9 117.6h0M58.0 97.7h0M105.9 174.3h0M160.8 177.0h0M320.3 177.5h0M215.1 178.5h0M286.7 179.4h0M228.3 177.0h0M138.2 177.4h0M300.9 179.3h0M281.2 177.3h0M112.7 174.6h0M193.4 177.3h0M197.7 179.2h0M256.9 177.1h0M128.1 175.7h0M174.4 177.5h0M263.8 177.6h0M202.5 177.7h0"/>
<path stroke="#355dff" d="M239.4 191.1h0M110.3 188.0h0M170.8 191.0h0M124.0 189.3h0M191.5 187.6h0M122.3 190.0h0M283.4 189.2h0M69.8 167.7h0M65.7 155.2h0M232.0 191.5h0M274.7 194.2h0M310.0 194.4h0M156.4 194.5h0M148.2 190.4h0M239.8 196.8h0M113.3 188.2h0M121.5 187.6h0M238.9 189.5h0M113.7 190.4h0M176.4 190.8h0M193.1 189.4h0M265.0 191.0h0M135.9 187.3h0M179.4 191.3h0M68.8 165.1h0M199.3 188.6h0M58.5 123.9h0M53.0 55.1h0M54.3 79.4h0M62.0 138.3h0"/>
<path stroke="#2b36ff" d="M316.2 189.3h0M234.5 192.0h0M274.0 196.0h0M269.7 192.2h0M178.7 191.8h0M86.4 183.2h0M106.6 187.3h0M153.9 193.0h0M218.3 191.5h0M240.3 197.4h0M317.2 190.8h0M114.3 191.5h0M73.4 171.9h0M170.2 191.3h0M284.7 196.8h0M154.0 192.0h0M255.9 193.2h0M286.9 189.9h0M221.5 191.6h0M51.2 36.9h0M60.8 134.2h0"/>
<path stroke="#ff2b29" d="M286.7 184.6h0M120.6 184.7h0M245.0 179.2h0M86.5 172.1h0M62.4 134.5h0M198.5 182.7h0M85.6 170.3h0M303.7 184.5h0M51.1 21.3h0M223.3 184.3h0M203.6 180.6h0M210.2 182.5h0M191.8 185.9h0M201.5 182.7h0M57.4 95.5h0M53.0 49.6h0M56.0 80.3h0M159.0 176.4h0M327.4 178.4h0M230.1 178.2h0M186.5 177.1h0M199.0 178.2h0M103.7 173.5h0M151.0 177.0h0M199.6 177.6h0M111.7 175.1h0M126.5 176.5h0M290.7 178.6h0M112.9 173.4h0M101.4 173.3h0M245.8 178.6h0M113.5 174.9h0M107.0 174.0h0M208.4 177.6h0"/>
<path stroke="#6ffa8a" d="M153.8 189.5h0M123.3 185.5h0M194.1 183.8h0M150.3 181.0h0M132.5 185.0h0M310.9 188.9h0M202.5 186.4h0M245.3 189.6h0M206.5 186.4h0M209.0 188.2h0M266.9 186.5h0M283.8 191.2h0M298.3 184.5h0M184.6 182.1h0M320.5 185.4h0M250.3 191.7h0M170.5 187.5h0M51.4 28.4h0M70.5 160.2h0M253.1 186.8h0M60.4 129.7h0M163.7 184.4h0M77.0 173.2h0M151.5 184.3h0M109.3 184.9h0M268.7 189.5h0M202.2 183.1h0M296.4 184.6h0M120.7 185.0h0M315.5 186.3h0M128.2 186.1h0M110.7 183.9h0M200.8 189.9h0M153.8 190.8h0M83.2 173.6h0M52.5 47.6h0M97.7 183.8h0M140.9 182.3h0M207.1 190.1h0M168.9 187.1h0M292.6 184.0h0M320.5 183.5h0M127.8 183.5h0M212.2 186.1h0M122.9 179.5h0M168.8 186.8h0M322.7 188.7h0M207.9 190.5h0M158.4 184.6h0M105.6 186.6h0M292.1 185.3h0M256.2 187.1h0M56.5 89.0h0M56.7 99.3h0M54.2 58.2h0M51.7 43.7h0M63.8 146.6h0"/>
<path stroke="#fea451" d="M63.5 142.7h0M192.5 184.0h0M167.0 187.1h0M253.1 183.3h0M294.4 188.7h0M176.1 181.2h0M257.5 182.5h0M118.3 177.0h0M164.3 186.7h0M266.5 183.9h0M305.0 185.7h0M309.9 179.8h0M138.5 181.8h0M208.5 180.3h0M174.2 179.9h0M261.2 186.9h0M278.9 187.2h0M167.5 182.4h0M135.5 183.6h0M292.5 190.8h0M71.7 161.6h0M261.2 185.8h0M105.3 184.7h0M55.7 77.0h0M54.3 64.5h0M57.9 102.8h0M53.8 52.6h0"/>
<path stroke="#ff2926" d="M116.5 180.6h0M186.8 179.2h0M157.8 183.4h0M310.6 181.3h0M204.9 182.2h0M304.6 184.8h0M226.8 180.9h0M195.6 180.4h0M172.4 183.7h0M195.7 182.9h0M294.1 186.2h0M127.0 179.8h0M57.0 96.1h0M60.6 116.6h0M140.9 177.0h0M225.3 178.3h0M125.7 175.1h0M243.9 178.2h0M97.8 172.3h0M167.1 177.7h0M268.6 179.1h0M261.4 178.4h0M267.7 178.4h0M325.8 177.6h0M125.5 175.0h0"/>
<path stroke="#aaef65" d="M138.7 184.3h0M304.5 184.3h0M260.3 184.2h0M84.5 178.6h0M296.9 188.4h0M69.5 163.1h0M194.0 183.9h0M300.0 189.1h0M208.1 180.6h0M262.2 184.9h0M296.2 189.1h0M310.4 184.3h0M52.4 38.5h0M221.4 187.5h0M275.9 189.3h0M156.2 187.0h0M89.0 174.5h0M114.5 186.6h0M300.0 184.0h0M111.5 183.1h0M124.7 186.4h0M227.2 180.8h0M260.2 183.2h0M65.0 143.2h0M81.4 171.4h0M78.6 173.8h0M259.3 188.4h0M194.7 186.5h0M195.3 185.0h0M194.3 184.1h0M107.8 179.6h0M259.4 181.0h0M182.9 183.0h0M257.6 183.0h0M164.7 189.0h0M129.2 185.7h0M296.9 184.7h0M59.0 121.5h0M56.3 77.5h0M59.5 122.6h0M67.3 155.3h0M54.3 64.7h0"/>
<path stroke="#cce860" d="M292.0 182.5h0M131.6 183.9h0M99.5 178.7h0M113.4 179.8h0M160.3 183.6h0M155.5 181.3h0M177.4 186.5h0M100.9 182.4h0M152.4 183.1h0M218.3 181.3h0M278.3 185.0h0M233.2 186.9h0M248.3 184.8h0M154.8 188.9h0M82.0 177.0h0M219.9 181.4h0M92.7 185.9h0M328.0 188.2h0M74.5 173.3h0M327.6 185.4h0M67.9 151.1h0M88.6 174.5h0M100.1 183.0h0M84.6 176.4h0M98.9 179.5h0M126.9 178.0h0M55.5 80.3h0M188.6 186.0h0M184.7 187.1h0M275.4 182.7h0M226.3 186.0h0M242.7 183.8h0M211.0 186.6h0M256.8 183.6h0M60.4 128.1h0M241.8 190.0h0M196.8 184.0h0M107.3 178.6h0M67.1 151.9h0M51.2 23.9h0M63.5 136.5h0M67.6 155.1h0M65.9 152.0h0M52.2 32.3h0"/>
<path stroke="#7ff775" d="M246.3 187.5h0M224.2 188.4h0M281.3 182.5h0M215.7 190.0h0M222.0 191.1h0M163.0 182.7h0M223.8 182.2h0M90.4 183.4h0M275.0 190.1h0M141.1 186.1h0M86.1 179.1h0M310.8 184.6h0M202.9 186.5h0M70.7 161.2h0M143.9 182.8h0M56.2 89.0h0M231.8 182.0h0M308.9 184.3h0M70.9 162.4h0M69.3 158.4h0M179.1 184.5h0M155.5 190.5h0M135.4 186.7h0M70.1 158.5h0M72.9 165.4h0M327.9 188.3h0M68.4 158.3h0M174.9 187.7h0M275.9 191.4h0M82.7 181.2h0M279.7 188.4h0M79.0 170.4h0M245.1 185.8h0M166.8 183.3h0M148.4 182.0h0M156.0 185.2h0M139.0 183.2h0M204.8 183.0h0M254.6 182.9h0M129.4 185.5h0M323.9 183.8h0M152.6 183.5h0M153.3 182.9h0M51.2 34.6h0M63.4 143.4h0M62.9 141.7h0M63.8 136.1h0M52.4 38.0h0M55.2 71.0h0"/>
<path stroke="#aaef65" d="M223.7 188.1h0M61.2 125.9h0M136.5 185.2h0M258.8 182.9h0M78.9 173.8h0M74.7 170.9h0M219.5 186.3h0M302.6 184.0h0M239.2 181.3h0M236.1 187.5h0M166.9 181.5h0M312.8 185.8h0M317.0 188.8h0M68.3 155.9h0M193.2 182.4h0M82.2 172.8h0M159.4 187.2h0M242.1 186.6h0M202.8 184.5h0M104.2 181.7h0M261.2 182.7h0M164.7 183.7h0M90.5 177.1h0M133.5 180.0h0M68.8 157.7h0M240.7 183.4h0M153.8 180.2h0M64.5 138.9h0M297.2 189.5h0M90.1 176.6h0M53.6 46.2h0M123.4 181.1h0M66.1 150.4h0M280.5 190.7h0M111.9 183.9h0M288.8 192.2h0M179.5 182.4h0M137.4 185.9h0M67.1 152.6h0M61.4 129.0h0M67.0 154.1h0M51.1 25.1h0"/>
<path stroke="#ff2020" d="M155.7 182.6h0M237.5 180.0h0M263.2 186.8h0M55.0 72.3h0M75.5 167.4h0M286.8 181.2h0M254.9 183.4h0M103.7 174.2h0M155.0 184.7h0M157.4 182.9h0M236.2 181.4h0M114.2 183.3h0M105.7 180.9h0M198.4 182.8h0M289.4 183.2h0M249.7 181.0h0M175.4 185.5h0M313.9 181.1h0M323.7 185.2h0M311.1 181.7h0M161.0 177.2h0M153.3 177.3h0M99.3 173.5h0M160.7 176.8h0M51.4 34.3h0M52.3 33.8h0M53.3 42.7h0M54.6 54.2h0M90.2 171.4h0M266.8 177.6h0M192.4 177.5h0M124.3 176.7h0M110.6 174.5h0M72.0 157.9h0M312.2 178.0h0M293.7 178.6h0M141.8 177.0h0M116.9 174.7h0M321.2 178.7h0M113.1 175.3h0M238.3 178.6h0"/>
<path stroke="#ff2926" d="M324.7 181.7h0M102.0 179.9h0M259.1 186.8h0M307.6 180.9h0M289.2 182.6h0M79.7 166.7h0M191.3 182.7h0M191.1 182.6h0M279.1 182.1h0M282.5 182.2h0M78.9 169.1h0M263.8 179.1h0M64.9 145.4h0M55.9 70.4h0M62.7 128.1h0M319.9 178.6h0M118.5 175.2h0M268.8 178.8h0M281.5 178.3h0M294.7 178.0h0M233.8 178.2h0M270.8 178.3h0M320.7 178.6h0M252.0 177.2h0M260.4 178.6h0M114.7 175.5h0"/>
<path stroke="#2b36ff" d="M246.4 191.3h0M134.7 188.1h0M120.4 193.4h0M75.6 179.7h0M120.7 185.7h0M211.2 190.1h0M265.0 192.2h0M319.9 190.8h0M250.6 188.4h0M96.7 189.4h0M238.9 193.1h0M127.1 192.3h0M142.8 194.1h0M174.8 194.9h0M276.8 191.0h0M162.2 187.9h0M166.8 195.1h0M123.3 196.2h0M52.2 43.8h0M52.1 48.2h0M63.6 145.7h0"/>
<path stroke="#cce860" d="M85.0 179.1h0M179.1 183.2h0M84.4 175.9h0M227.0 189.8h0M58.2 111.3h0M55.8 86.6h0M292.2 187.8h0M306.6 186.3h0M92.3 176.8h0M98.6 181.1h0M62.0 131.0h0M80.0 171.6h0M307.9 183.9h0M327.5 184.4h0M242.7 184.6h0M263.4 182.5h0M149.8 181.5h0M158.0 188.7h0M265.3 182.7h0M107.9 179.9h0M182.5 187.0h0M188.9 189.1h0M169.8 180.8h0M327.0 185.2h0M73.6 164.1h0M308.5 185.2h0M74.2 170.2h0M127.6 184.6h0M308.3 183.5h0M244.6 186.8h0M150.0 181.8h0M282.0 183.0h0M114.3 186.1h0M317.0 184.5h0M194.4 185.3h0M126.2 181.1h0M107.1 179.3h0M158.1 183.2h0M59.6 120.7h0M58.4 109.9h0M51.3 25.2h0M61.7 132.6h0M67.1 150.9h0M63.9 142.9h0"/>
<path stroke="#7ff775" d="M263.8 191.1h0M219.2 184.5h0M91.6 176.6h0M132.3 181.3h0M231.9 189.9h0M285.6 182.2h0M304.3 184.1h0M320.7 187.3h0M242.1 186.4h0M142.5 182.1h0M84.9 182.6h0M256.1 187.1h0M129.9 179.1h0M208.8 182.0h0M111.8 183.0h0M170.0 185.1h0M142.5 183.0h0M125.1 184.4h0M274.0 188.3h0M214.6 184.2h0M161.8 188.8h0M94.3 182.5h0M225.3 182.1h0M62.1 130.9h0M330.6 184.2h0M54.1 60.2h0M316.1 184.7h0M228.9 182.8h0M311.1 183.1h0M128.7 181.9h0M176.3 187.4h0M146.2 179.5h0M148.3 184.8h0M304.2 187.2h0M266.8 182.6h0M147.2 180.5h0M237.4 189.8h0M96.6 184.6h0M286.7 184.6h0M175.4 186.4h0M122.3 180.0h0M315.4 190.7h0M59.5 116.4h0M59.1 120.1h0M54.2 60.7h0M54.2 54.5h0M52.9 48.7h0M56.3 89.4h0"/>
<path stroke="#75f87e" d="M114.7 178.8h0M189.8 181.8h0M256.1 187.7h0M230.2 186.9h0M314.9 186.1h0M209.6 191.9h0M313.4 183.6h0M313.7 187.4h0M326.0 184.5h0M128.7 184.5h0M62.1 133.5h0M80.5 173.6h0M114.5 187.1h0M198.0 183.3h0M278.2 184.0h0M150.1 180.9h0M79.2 173.3h0M264.8 190.9h0M214.8 182.1h0M229.5 184.4h0M243.9 183.7h0M176.0 182.4h0M61.9 127.3h0M190.5 183.4h0M270.2 184.5h0M217.5 189.5h0M262.5 181.5h0M191.2 182.2h0M245.0 183.2h0M282.0 183.8h0M274.7 188.0h0M89.2 180.6h0M314.7 188.5h0M305.1 181.7h0M128.6 182.3h0M217.7 186.0h0M86.6 179.8h0M107.9 184.1h0M77.5 171.4h0M61.7 130.7h0M195.0 183.7h0M125.9 179.6h0M252.3 181.4h0M260.2 189.2h0M238.2 192.1h0M78.5 169.1h0M126.9 185.8h0M323.5 188.5h0M64.8 149.0h0M52.6 44.5h0M51.3 35.9h0M51.3 40.3h0M58.4 106.4h0M57.5 99.0h0M51.4 38.1h0"/>
<path stroke="#2b36ff" d="M136.2 190.3h0M277.4 195.9h0M261.2 188.0h0M278.0 192.5h0M249.2 191.7h0M135.5 192.3h0M266.6 195.3h0M53.1 50.4h0M236.8 195.2h0M180.2 191.2h0M88.1 182.9h0M87.4 184.0h0M250.7 193.4h0M185.4 192.8h0M69.8 168.2h0M324.7 196.8h0M317.6 195.8h0M129.5 187.7h0M182.2 194.1h0M61.9 137.1h0M56.3 101.2h0M63.6 154.0h0"/>
<path stroke="#2828ff" d="M118.2 186.7h0M179.7 188.3h0M321.8 192.0h0M229.2 198.6h0M226.8 193.8h0M210.8 191.3h0M131.8 195.3h0M270.7 189.4h0M329.0 191.3h0M284.4 189.9h0M299.9 196.7h0M168.0 188.0h0M60.2 131.0h0M231.7 195.3h0M72.7 174.3h0M248.4 196.9h0M250.0 191.4h0M136.8 193.4h0M74.4 173.9h0M239.1 195.9h0M193.6 191.8h0M324.3 190.2h0M70.5 166.2h0M103.2 185.8h0M146.1 195.1h0M289.8 190.8h0M108.0 190.9h0M288.5 187.0h0M294.8 196.7h0M289.6 192.4h0M276.6 189.1h0M256.0 191.6h0M280.3 195.3h0M113.9 195.2h0M51.2 46.1h0M96.6 189.2h0M175.7 192.7h0M179.5 193.9h0M51.5 38.8h0M58.1 116.6h0M66.6 154.8h0"/>
<path stroke="#4af0db" d="M144.5 184.0h0M304.7 193.6h0M280.8 191.8h0M206.6 186.4h0M195.5 188.4h0M169.8 192.1h0M178.2 190.6h0M194.2 188.2h0M193.8 190.5h0M108.5 185.9h0M297.7 188.6h0M297.2 193.3h0M127.9 188.0h0M107.9 186.5h0M258.9 194.5h0M93.1 182.4h0M283.4 190.8h0M292.5 186.4h0M95.3 182.3h0M201.4 188.8h0M242.0 191.0h0M261.1 192.8h0M174.6 188.8h0M250.8 195.0h0M303.1 187.1h0M54.4 81.2h0M244.0 186.6h0M310.8 190.6h0M187.8 192.0h0M90.7 178.7h0M221.5 188.7h0M155.8 189.5h0M76.4 175.7h0M195.6 194.9h0M220.3 189.4h0M51.5 41.9h0M67.3 159.1h0M59.0 115.5h0M53.1 47.9h0"/>
<path stroke="#53f2b8" d="M203.9 193.8h0M66.6 156.0h0M95.0 187.3h0M207.0 189.8h0M188.7 193.6h0M111.9 186.4h0M275.8 189.7h0M294.0 189.4h0M66.4 156.9h0M258.3 184.3h0M227.5 187.3h0M114.6 188.5h0M327.8 185.5h0M277.6 191.9h0M291.9 187.5h0M117.8 186.5h0M272.8 184.7h0M156.6 187.4h0M88.7 178.4h0M253.2 188.0h0M297.8 187.7h0M275.8 184.9h0M140.5 189.9h0M218.7 186.9h0M123.1 184.0h0M145.8 191.3h0M315.2 190.7h0M174.2 187.9h0M69.5 160.1h0M251.3 187.5h0M172.1 188.4h0M317.8 185.7h0M249.3 188.1h0M128.7 185.4h0M168.2 189.6h0M277.9 191.7h0M128.9 186.5h0M184.0 192.6h0M232.4 190.0h0M51.4 34.7h0M51.1 34.2h0M58.0 120.6h0M58.5 112.3h0M67.2 152.0h0"/>
<path stroke="#63f3a1" d="M110.4 184.0h0M178.7 185.7h0M295.4 189.3h0M70.4 163.0h0M286.1 189.6h0M91.1 183.5h0M58.4 110.2h0M269.0 190.2h0M100.8 186.8h0M255.8 189.2h0M250.8 186.6h0M120.7 187.6h0M246.5 191.9h0M314.1 186.1h0M74.0 171.3h0M93.2 183.0h0M316.6 190.2h0M51.6 34.0h0M187.1 189.0h0M253.0 190.2h0M255.9 188.5h0M226.6 185.6h0M162.9 187.2h0M130.8 184.6h0M132.2 186.1h0M222.9 186.2h0M147.7 190.0h0M130.6 186.1h0M260.5 184.7h0M243.9 194.0h0M95.4 187.2h0M286.7 186.2h0M263.5 186.1h0M92.5 186.1h0M295.6 182.4h0M262.2 186.5h0M210.7 185.4h0M165.5 190.6h0M292.4 185.2h0M56.8 93.8h0M63.4 145.1h0M54.8 82.0h0M57.5 109.8h0M51.0 32.8h0"/>
<path stroke="#3251ff" d="M63.3 144.2h0M287.3 194.2h0M97.8 185.7h0M207.1 188.2h0M147.8 189.2h0M284.6 188.1h0M142.4 190.0h0M97.4 185.8h0M307.8 189.0h0M62.5 142.9h0M71.7 174.3h0M151.8 192.2h0M118.6 190.9h0M319.8 189.6h0M297.5 191.9h0M295.2 196.0h0M193.5 191.6h0M254.0 187.4h0M74.2 170.8h0M146.0 191.3h0M207.3 194.0h0M100.5 183.7h0M248.0 192.6h0M135.2 190.3h0M102.4 184.4h0M52.5 56.9h0M56.6 104.6h0M52.7 58.8h0"/>
<path stroke="#75f87e" d="M240.4 181.3h0M109.6 186.1h0M249.7 188.5h0M308.5 192.5h0M324.3 184.1h0M51.5 27.7h0M108.8 179.5h0M77.4 172.0h0M293.1 189.4h0M287.3 184.4h0M203.4 186.8h0M119.5 186.2h0M89.1 178.8h0M214.9 184.4h0M240.1 187.1h0M126.9 180.3h0M254.9 181.1h0M255.6 189.9h0M174.7 183.7h0M179.3 189.9h0M69.0 163.0h0M102.2 179.7h0M211.4 191.5h0M208.6 184.3h0M180.5 180.7h0M202.9 187.9h0M66.8 147.9h0M274.5 183.7h0M257.7 183.3h0M234.7 185.6h0M68.0 154.6h0M151.3 185.9h0M271.0 183.0h0M250.7 183.1h0M136.3 179.2h0M281.9 187.9h0M213.5 184.3h0M51.3 31.0h0M196.5 187.6h0M240.2 183.0h0M259.3 187.1h0M313.4 183.4h0M250.8 186.5h0M153.9 189.0h0M128.2 185.0h0M89.7 178.3h0M60.7 127.1h0M186.8 184.1h0M54.8 80.7h0M63.7 139.4h0M58.5 107.1h0M54.4 74.7h0M56.2 92.3h0M63.9 142.6h0"/>
<path stroke="#6ffa8a" d="M112.0 186.4h0M240.2 187.1h0M230.8 188.8h0M169.9 188.1h0M52.3 49.6h0M173.0 187.3h0M185.6 186.3h0M250.4 186.2h0M287.4 182.9h0M234.3 182.8h0M63.7 142.9h0M52.7 51.9h0M174.4 191.6h0M308.8 184.3h0M188.3 190.1h0M281.2 188.8h0M240.2 185.7h0M57.6 104.0h0M174.2 188.9h0M197.4 183.3h0M109.3 186.6h0M215.8 187.4h0M65.4 146.4h0M95.8 183.2h0M126.1 183.8h0M314.3 187.8h0M173.2 184.5h0M168.9 191.3h0M210.2 181.2h0M153.8 185.0h0M253.9 187.5h0M327.8 185.6h0M109.9 183.2h0M207.8 185.6h0M268.3 185.3h0M277.0 192.2h0M242.1 186.5h0M182.5 189.7h0M237.4 184.8h0M248.9 188.3h0M246.5 185.4h0M156.7 187.7h0M108.0 183.0h0M171.4 191.7h0M277.8 183.4h0M166.7 184.4h0M107.4 188.7h0M64.8 149.3h0M115.2 180.9h0M315.4 188.6h0M159.8 185.6h0M269.9 188.2h0M53.4 49.3h0M65.0 149.2h0M53.1 57.4h0M51.6 38.7h0M53.1 55.4h0M53.4 42.9h0"/>
<path stroke="#3fa7ff" d="M184.4 194.2h0M144.4 193.0h0M66.9 157.4h0M190.6 195.7h0M93.6 185.3h0M223.2 194.4h0M187.5 187.2h0M124.4 189.9h0M78.0 177.6h0M132.6 189.1h0M320.5 194.1h0M320.1 186.8h0M135.4 187.2h0M79.6 176.8h0M178.0 195.2h0M327.2 192.0h0M323.6 195.8h0M274.0 188.6h0M237.7 188.4h0M264.8 192.9h0M145.3 185.4h0M161.7 190.4h0M147.3 187.3h0M289.2 191.8h0M218.5 193.2h0M176.1 194.9h0M316.6 187.7h0M239.3 188.6h0M87.6 179.4h0M327.2 187.5h0M328.1 195.4h0M252.1 192.6h0M140.8 186.1h0M161.3 192.3h0M301.8 187.8h0M52.0 41.4h0M66.5 157.6h0M63.4 144.9h0M63.6 147.6h0"/>
<path stroke="#ff362e" d="M314.7 183.9h0M100.0 177.2h0M124.0 183.6h0M180.8 183.2h0M226.8 179.6h0M328.5 185.8h0M316.7 183.3h0M83.8 174.7h0M153.6 186.7h0M51.4 23.9h0M87.9 175.7h0M211.5 181.0h0M259.3 183.1h0M146.3 183.0h0M220.0 178.6h0M62.2 134.6h0M155.3 184.3h0M67.9 152.7h0M323.7 180.0h0M222.1 185.8h0M294.9 183.8h0M124.9 180.0h0M248.5 185.6h0M315.8 184.9h0M57.9 106.1h0M67.1 150.2h0M61.6 123.9h0M51.2 27.7h0M118.8 174.9h0M305.3 177.6h0M170.9 177.5h0M290.3 178.9h0M173.9 177.9h0M266.6 178.6h0M321.8 178.1h0M265.8 178.1h0M136.8 176.5h0M76.1 161.7h0M83.2 166.4h0M287.9 178.3h0M309.8 178.6h0"/>
<path stroke="#ff362e" d="M54.0 55.6h0M213.2 182.6h0M288.9 179.5h0M310.6 187.5h0M297.7 188.1h0M259.7 179.4h0M72.5 160.3h0M246.3 178.3h0M138.2 185.9h0M158.5 181.7h0M275.4 180.5h0M216.2 186.9h0M140.4 181.4h0M177.4 182.0h0M155.1 182.1h0M212.9 184.4h0M322.1 183.2h0M272.1 185.8h0M192.7 187.1h0M159.5 183.7h0M170.2 181.8h0M136.9 182.8h0M258.5 179.6h0M53.5 47.9h0M52.8 43.6h0M52.6 33.7h0M60.5 122.5h0M289.4 179.1h0M315.9 179.0h0M79.8 164.8h0M175.7 177.5h0M142.3 177.5h0M212.4 178.0h0M189.9 179.9h0M325.1 177.8h0M163.3 177.4h0M98.9 172.9h0M267.8 179.3h0M247.3 177.0h0M233.5 177.9h0"/>
<path stroke="#ff4535" d="M278.7 187.0h0M247.7 185.1h0M237.5 184.4h0M127.3 179.8h0M94.5 174.8h0M97.9 182.0h0M95.8 173.0h0M143.1 177.0h0M125.0 187.2h0M117.5 178.0h0M88.7 176.5h0M292.1 187.2h0M60.6 125.0h0M137.3 177.4h0M160.0 181.8h0M187.6 180.0h0M322.7 189.0h0M75.7 162.4h0M313.0 180.1h0M51.1 22.4h0M63.9 136.8h0M61.8 129.5h0M267.4 177.5h0M202.3 178.0h0M169.5 177.6h0M142.2 176.8h0M104.7 173.1h0M233.5 177.8h0M264.0 178.6h0M298.1 177.2h0M301.1 178.1h0M242.9 178.7h0"/>
<path stroke="#ff553b" d="M189.6 186.5h0M150.3 187.2h0M255.1 186.1h0M225.4 183.6h0M208.8 186.9h0M55.6 77.9h0M172.8 182.3h0M213.4 187.7h0M210.7 179.4h0M114.3 180.4h0M168.5 184.0h0M236.3 186.9h0M71.2 158.7h0M207.1 182.7h0M117.2 177.7h0M164.8 181.8h0M233.5 184.3h0M292.6 180.4h0M142.3 183.0h0M129.0 184.1h0M197.8 184.0h0M90.2 172.1h0M166.0 186.3h0M66.5 152.4h0M58.2 111.1h0M59.5 117.9h0M55.8 73.4h0M299.7 177.7h0M193.0 178.1h0M127.2 176.9h0M159.7 178.0h0M205.5 177.6h0M86.8 169.3h0M304.2 177.8h0M245.3 178.2h0"/>
<path stroke="#65f59c" d="M237.2 188.9h0M98.3 185.7h0M291.3 192.5h0M108.1 187.5h0M214.3 187.1h0M277.8 185.0h0M59.6 116.3h0M189.0 184.8h0M141.8 183.5h0M279.7 184.8h0M288.1 185.3h0M273.5 188.4h0M277.5 186.8h0M119.4 182.3h0M95.0 183.0h0M135.9 188.9h0M175.0 189.9h0M274.6 184.9h0M278.2 187.9h0M131.9 187.7h0M131.1 185.9h0M81.0 173.8h0M181.5 190.7h0M305.1 188.8h0M53.1 47.3h0M150.7 190.2h0M304.7 193.3h0M124.7 187.1h0M286.9 192.3h0M53.3 47.4h0M176.2 191.6h0M328.2 187.8h0M238.8 190.0h0M74.0 165.3h0M84.2 180.4h0M89.2 181.2h0M324.3 189.2h0M223.8 188.6h0M253.9 191.9h0M203.3 189.1h0M296.5 189.4h0M60.3 130.3h0M56.8 95.7h0M51.8 39.3h0M57.2 108.4h0M59.5 119.0h0M52.4 45.6h0"/>
<path stroke="#5ef3a8" d="M84.7 179.3h0M82.2 175.0h0M130.9 187.7h0M110.6 183.9h0M204.0 189.9h0M182.6 189.9h0M181.1 186.9h0M101.4 185.2h0M187.4 189.7h0M235.2 183.7h0M62.3 137.5h0M73.1 168.0h0M74.7 170.1h0M206.9 190.5h0M107.7 186.8h0M321.6 192.6h0M185.5 191.2h0M80.1 172.9h0M150.8 186.9h0M190.5 188.4h0M119.1 182.8h0M110.8 187.0h0M184.4 190.1h0M137.7 188.2h0M193.8 187.2h0M209.3 187.8h0M285.2 185.9h0M265.8 184.3h0M269.4 187.2h0M195.1 194.1h0M186.8 186.2h0M52.0 43.4h0M245.5 187.9h0M212.5 190.4h0M66.5 157.4h0M55.1 76.5h0M53.2 53.6h0M64.4 145.9h0"/>
<path stroke="#ff2020" d="M321.3 180.9h0M121.8 177.3h0M216.1 180.2h0M327.6 182.8h0M168.1 181.9h0M238.8 186.2h0M268.8 182.7h0M196.6 181.7h0M75.2 163.3h0M120.7 176.7h0M130.4 178.8h0M59.9 116.6h0M241.5 180.0h0M276.8 178.1h0M308.2 183.3h0M91.4 177.7h0M264.2 183.1h0M326.1 186.7h0M94.8 171.9h0M105.9 175.7h0M53.0 36.4h0M75.9 163.3h0M208.3 183.2h0M110.3 181.1h0M51.4 21.1h0M54.5 48.2h0M51.4 33.0h0M55.7 64.6h0M274.7 177.0h0M265.2 178.8h0M302.8 178.0h0M168.2 177.6h0M319.6 177.8h0M80.0 164.8h0M171.5 176.7h0M108.4 175.4h0M130.6 176.6h0M302.1 178.0h0M93.3 172.2h0M85.7 168.5h0"/>
<path stroke="#2b36ff" d="M311.9 191.7h0M162.5 190.7h0M171.7 194.2h0M130.9 189.7h0M108.3 185.9h0M295.1 198.0h0M167.0 187.5h0M227.3 197.4h0M70.9 168.2h0M219.4 197.6h0M62.0 137.5h0M291.3 196.3h0M314.5 192.1h0M161.1 191.5h0M275.2 191.5h0M101.5 185.8h0M315.0 194.4h0M132.8 188.1h0M61.2 130.5h0M58.8 117.8h0M55.5 86.5h0"/>
<path stroke="#4af0db" d="M83.2 183.7h0M107.2 181.5h0M263.5 189.5h0M176.0 188.1h0M274.2 189.8h0M123.1 184.3h0M64.3 147.4h0M159.5 186.3h0M258.1 187.5h0M124.9 191.7h0M62.1 134.4h0M195.9 189.6h0M79.8 174.1h0M98.8 184.6h0M151.0 185.6h0M139.2 189.1h0M326.3 186.0h0M325.4 185.4h0M62.4 138.7h0M288.9 192.8h0M74.1 172.0h0M253.1 186.1h0M97.9 182.0h0M316.8 188.6h0M175.3 192.4h0M167.0 188.9h0M120.5 187.6h0M330.5 188.7h0M222.3 190.8h0M116.0 182.0h0M78.2 179.8h0M318.0 186.3h0M171.0 184.6h0M164.8 188.8h0M159.5 187.0h0M199.9 188.1h0M56.0 82.0h0M51.6 36.4h0M60.6 124.0h0"/>
<path stroke="#ff6741" d="M171.8 181.0h0M198.1 180.9h0M318.8 188.4h0M102.2 183.1h0M77.6 168.9h0M170.1 178.8h0M98.2 182.1h0M245.1 181.6h0M86.3 176.6h0M306.1 180.8h0M267.3 186.3h0M103.0 184.0h0M167.3 186.9h0M283.1 181.4h0M145.5 181.2h0M105.7 179.3h0M224.9 184.2h0M52.2 23.9h0M83.5 167.8h0M245.5 181.5h0M246.9 179.7h0M183.6 185.0h0M171.0 183.9h0M278.9 185.1h0M55.4 75.1h0M61.2 125.8h0M52.5 37.9h0M57.8 101.6h0M279.2 177.9h0M269.0 177.9h0M81.4 167.2h0M188.2 179.0h0"/>
<path stroke="#5ef3a8" d="M108.1 182.9h0M250.9 187.2h0M279.7 192.3h0M324.8 186.4h0M291.7 188.7h0M89.5 182.1h0M207.7 186.0h0M325.4 186.3h0M124.6 188.6h0M138.7 188.9h0M115.6 183.8h0M185.6 186.1h0M293.9 187.1h0M330.0 191.3h0M257.5 190.2h0M221.8 187.4h0M170.1 190.4h0M171.9 186.5h0M58.4 115.9h0M276.7 185.6h0M256.4 187.7h0M110.1 182.3h0M246.2 192.5h0M306.6 182.4h0M58.1 112.4h0M199.1 192.6h0M220.5 187.7h0M205.6 185.3h0M101.2 187.7h0M271.8 184.1h0M97.8 187.1h0M317.7 187.9h0M70.4 165.2h0M51.0 37.6h0M51.9 39.2h0M66.8 154.2h0M62.3 132.2h0"/>
<path stroke="#48dbfc" d="M321.1 186.6h0M82.4 175.6h0M162.4 183.8h0M68.5 157.4h0M99.8 191.7h0M300.9 184.9h0M307.5 191.3h0M283.9 188.9h0M105.3 188.3h0M178.0 186.5h0M84.6 176.5h0M91.6 183.8h0M296.8 195.7h0M178.0 195.2h0M314.2 194.6h0M143.1 187.8h0M262.8 191.3h0M56.1 86.0h0M266.9 187.9h0M129.2 186.7h0M73.9 175.8h0M304.0 186.2h0M290.5 190.2h0M77.6 181.1h0M166.3 190.4h0M79.2 175.5h0M255.1 191.0h0M189.0 190.5h0M145.1 194.1h0M259.2 189.1h0M257.3 188.4h0M167.7 190.4h0M146.4 186.5h0M157.9 188.3h0M51.1 36.8h0M57.1 108.3h0M64.4 150.6h0M57.7 106.4h0"/>
<path stroke="#ff904c" d="M130.1 178.3h0M286.8 184.0h0M187.7 179.7h0M204.3 187.6h0M145.2 179.9h0M301.5 179.5h0M271.0 182.2h0M108.1 180.0h0M93.0 177.9h0M165.8 183.5h0M152.1 179.1h0M125.0 181.4h0M267.8 187.5h0M144.8 182.9h0M237.3 184.9h0M315.2 187.8h0M133.0 181.1h0M257.5 184.4h0M114.9 181.1h0M264.2 181.4h0M276.1 180.7h0M114.4 177.3h0M319.8 184.8h0M207.6 181.2h0M293.5 182.3h0M116.5 181.4h0M69.5 156.9h0M61.4 127.8h0M65.2 144.9h0M57.3 95.7h0M220.1 177.5h0"/>
<path stroke="#ff2624" d="M56.8 90.4h0M55.1 73.8h0M272.0 178.1h0M125.4 176.9h0M327.8 180.1h0M92.7 176.5h0M263.1 179.2h0M108.4 178.0h0M164.9 178.9h0M234.3 178.4h0M326.9 179.1h0M198.0 186.3h0M53.3 44.4h0M153.3 176.7h0M284.0 178.5h0M291.6 178.5h0M105.5 173.7h0M168.5 177.2h0M188.6 177.4h0M318.9 177.5h0M207.0 177.8h0M142.6 178.6h0M247.2 178.6h0M143.0 176.8h0M330.5 178.0h0M102.2 173.6h0M124.8 176.8h0"/>
<path stroke="#fab555" d="M180.4 181.2h0M139.4 185.0h0M153.6 186.0h0M161.9 180.1h0M51.5 28.3h0M218.7 186.8h0M228.4 188.3h0M127.0 185.6h0M253.7 185.4h0M149.7 186.3h0M116.6 178.9h0M180.0 181.6h0M190.2 184.4h0M309.5 187.0h0M227.6 187.6h0M87.0 177.9h0M195.8 184.1h0M136.1 184.5h0M289.5 188.0h0M56.5 85.9h0M260.4 182.4h0M204.6 183.5h0M267.1 180.7h0M192.1 182.9h0M248.6 189.3h0M142.8 182.7h0M51.0 24.8h0M59.5 112.0h0M51.2 28.7h0"/>
<path stroke="#8af56a" d="M169.4 183.5h0M132.9 187.5h0M96.5 182.7h0M189.2 185.4h0M98.0 184.8h0M227.7 185.8h0M251.4 185.7h0M83.8 176.0h0M169.1 181.7h0M73.6 166.6h0M207.6 182.9h0M141.5 188.0h0M106.6 183.4h0M88.7 176.1h0M192.8 184.6h0M192.7 183.7h0M147.1 183.8h0M303.9 186.8h0M233.3 188.8h0M96.2 186.9h0M113.8 185.7h0M191.9 184.2h0M174.4 191.5h0M236.3 185.2h0M74.5 167.6h0M55.3 77.6h0M123.5 184.7h0M169.7 180.9h0M284.1 182.8h0M91.5 179.9h0M294.3 187.3h0M96.0 177.2h0M129.4 185.7h0M261.7 182.9h0M240.7 184.6h0M156.2 190.1h0M164.5 186.6h0M65.4 147.1h0M308.5 187.3h0M238.6 188.4h0M270.7 189.1h0M61.2 132.0h0M282.3 186.9h0M58.4 115.5h0M59.0 120.2h0M58.8 110.7h0M63.3 140.3h0M64.8 146.5h0M59.5 112.2h0"/>
<path stroke="#5ef3a8" d="M294.6 186.7h0M124.1 188.6h0M149.7 192.5h0M130.6 187.0h0M219.0 189.1h0M144.6 193.0h0M143.6 184.0h0M103.4 182.7h0M194.0 185.9h0M289.0 188.7h0M184.7 187.2h0M139.8 189.6h0M97.6 186.4h0M297.2 190.0h0M233.3 185.2h0M97.5 181.3h0M59.8 124.3h0M208.6 186.7h0M160.5 187.3h0M120.9 185.8h0M223.7 186.1h0M59.4 121.2h0M80.8 178.6h0M75.2 174.4h0M166.6 189.3h0M181.0 185.5h0M181.6 191.2h0M52.3 52.6h0M209.1 184.3h0M94.5 184.2h0M265.0 186.5h0M186.7 188.4h0M202.0 188.2h0M143.4 185.5h0M58.1 110.6h0M56.1 86.3h0M60.2 123.3h0M51.2 38.6h0"/>
<path stroke="#2a2fff" d="M161.7 196.0h0M129.9 186.9h0M312.3 189.4h0M154.9 193.9h0M324.0 197.0h0M164.4 193.9h0M260.3 188.4h0M79.0 175.7h0M306.4 189.4h0M160.6 191.6h0M99.6 190.2h0M72.5 172.8h0M201.6 191.9h0M226.8 192.9h0M271.4 192.1h0M135.0 189.6h0M169.1 191.2h0M199.7 196.3h0M57.7 118.1h0M67.5 161.5h0"/>
<path stroke="#46ebf2" d="M97.4 189.5h0M294.7 184.3h0M177.5 192.5h0M64.3 151.1h0M159.9 187.1h0M152.3 195.7h0M59.9 126.0h0M147.5 189.8h0M242.1 190.7h0M98.3 183.1h0M79.2 178.1h0M144.4 189.8h0M110.0 181.0h0M121.5 184.1h0M217.1 188.0h0M304.5 186.5h0M321.2 186.8h0M229.0 191.1h0M321.3 188.9h0M94.2 187.6h0M261.4 188.1h0M197.8 190.7h0M314.9 188.5h0M232.1 185.8h0M160.0 190.8h0M107.4 186.5h0M209.0 189.8h0M61.3 138.8h0M175.2 187.0h0M212.5 187.2h0M330.2 193.6h0M56.2 100.4h0M53.2 49.8h0M51.7 45.2h0M52.4 47.6h0"/>
<path stroke="#58f3b0" d="M174.7 185.9h0M202.5 186.6h0M60.9 131.5h0M74.1 170.1h0M251.4 188.9h0M134.9 186.0h0M213.8 193.4h0M285.1 191.4h0M269.9 190.3h0M261.2 195.1h0M221.2 191.6h0M158.8 184.4h0M181.1 187.3h0M51.1 39.3h0M141.0 188.8h0M148.8 184.8h0M193.0 188.7h0M217.1 187.4h0M273.6 193.7h0M108.3 182.1h0M247.5 185.8h0M152.9 189.1h0M265.4 190.5h0M210.4 184.4h0M136.4 191.5h0M84.9 183.4h0M293.9 188.2h0M161.3 184.6h0M162.3 184.0h0M76.7 172.7h0M206.0 186.4h0M226.0 186.3h0M122.1 184.7h0M291.7 188.1h0M51.1 35.7h0M57.5 113.1h0M63.1 139.5h0M56.8 106.1h0"/>
<path stroke="#65f59c" d="M222.1 182.7h0M200.5 186.7h0M168.5 188.5h0M138.7 189.8h0M179.2 182.8h0M328.8 185.0h0M266.8 188.7h0M138.5 189.2h0M327.0 190.6h0M265.1 187.0h0M137.4 187.4h0M268.7 192.8h0M294.2 185.5h0M279.6 183.6h0M304.9 191.2h0M68.5 157.5h0M89.9 183.7h0M323.9 183.8h0M130.8 188.4h0M70.0 165.7h0M184.2 183.1h0M250.3 190.0h0M261.7 190.7h0M55.8 81.9h0M118.1 183.2h0M321.7 186.4h0M228.3 189.3h0M115.3 184.6h0M215.5 191.9h0M276.9 186.2h0M243.1 184.2h0M182.3 188.8h0M189.2 190.3h0M173.6 184.9h0M74.6 171.6h0M263.2 185.1h0M325.8 183.9h0M289.4 189.0h0M286.8 186.3h0M87.5 182.8h0M248.8 184.1h0M57.7 113.0h0M52.6 35.8h0M57.1 110.6h0M59.6 120.6h0M52.4 40.0h0M66.1 152.1h0"/>
<path stroke="#fab555" d="M269.4 188.7h0M179.6 183.1h0M251.4 185.6h0M293.4 180.3h0M51.6 28.0h0M215.8 185.3h0M160.1 179.9h0M311.4 184.3h0M130.3 181.1h0M304.5 182.8h0M109.5 177.7h0M275.1 186.4h0M218.2 185.2h0M287.7 181.8h0M316.0 180.6h0M153.9 179.0h0M226.6 184.5h0M60.3 121.3h0M129.6 177.9h0M157.5 182.9h0M107.7 180.1h0M221.4 180.4h0M204.7 181.9h0M155.9 184.3h0M161.3 182.1h0M63.7 136.5h0M62.5 133.0h0M54.9 62.3h0M59.0 118.4h0M51.9 28.3h0"/>
<path stroke="#2a2fff" d="M317.6 198.7h0M187.3 191.8h0M99.5 185.9h0M77.9 174.8h0M179.0 190.7h0M69.2 161.7h0M67.1 156.7h0M237.1 193.4h0M218.7 188.6h0M320.0 195.7h0M232.2 191.6h0M275.5 191.3h0M209.5 193.4h0M302.4 194.5h0M132.8 193.6h0M319.1 197.2h0M297.2 189.4h0M141.2 195.5h0M52.4 46.7h0M52.5 53.0h0"/>
<path stroke="#6df98e" d="M129.1 180.6h0M146.5 185.1h0M257.5 186.2h0M285.9 186.3h0M301.4 184.7h0M227.5 188.6h0M307.9 183.6h0M138.1 182.7h0M273.7 191.0h0M79.3 176.1h0M254.2 185.8h0M281.1 183.3h0M170.5 188.6h0M249.3 188.3h0M102.9 183.0h0M255.6 186.6h0M280.3 187.3h0M75.3 174.9h0M198.0 187.6h0M135.8 187.4h0M183.0 186.0h0M167.6 192.0h0M304.8 189.6h0M232.5 192.9h0M197.3 184.9h0M230.2 187.4h0M297.8 185.9h0M165.0 188.4h0M231.8 191.4h0M207.4 185.3h0M138.8 188.0h0M108.6 182.8h0M176.6 191.5h0M253.2 184.2h0M129.0 182.8h0M75.8 176.6h0M260.6 189.2h0M101.1 186.2h0M175.3 185.0h0M322.2 187.2h0M109.4 181.5h0M201.2 190.1h0M253.5 188.5h0M72.0 167.3h0M56.2 80.7h0M60.6 133.4h0M64.5 152.4h0M51.6 29.5h0M65.0 142.8h0"/>
<path stroke="#6df98e" d="M101.4 184.7h0M91.1 177.4h0M52.6 41.0h0M133.6 183.5h0M75.9 169.5h0M220.8 183.6h0M201.2 187.5h0M144.5 185.8h0M237.7 188.4h0M158.9 186.7h0M164.4 186.8h0M171.5 185.5h0M308.5 190.0h0M155.6 186.4h0M89.4 182.9h0M280.1 185.8h0M268.6 184.4h0M109.3 186.2h0M292.7 191.9h0M63.9 141.9h0M288.0 183.3h0M250.3 182.6h0M182.4 185.9h0M203.9 184.9h0M116.0 181.8h0M73.3 165.5h0M178.1 184.9h0M70.0 165.5h0M126.7 184.8h0M177.9 183.4h0M204.7 185.0h0M78.4 171.2h0M140.4 187.4h0M164.1 191.7h0M220.8 186.0h0M91.6 183.8h0M116.6 183.3h0M126.6 190.1h0M155.3 192.2h0M166.2 189.5h0M90.0 177.8h0M284.8 190.1h0M187.1 185.1h0M219.7 187.0h0M57.7 98.8h0M59.9 119.6h0M52.8 43.8h0M67.0 149.5h0M51.3 30.4h0"/>
<path stroke="#ff904c" d="M75.5 165.8h0M60.7 121.8h0M214.9 187.1h0M137.2 184.8h0M300.2 185.8h0M200.8 184.7h0M306.2 185.2h0M302.6 181.1h0M256.8 183.4h0M218.9 182.6h0M229.4 178.2h0M164.9 183.6h0M317.1 188.7h0M262.5 181.2h0M108.8 177.1h0M275.4 187.9h0M107.4 179.2h0M140.5 180.2h0M294.2 187.8h0M82.1 174.8h0M127.1 178.4h0M323.3 187.0h0M239.7 182.3h0M289.2 179.6h0M104.4 178.5h0M135.4 184.2h0M58.2 104.3h0M57.3 93.1h0M57.1 87.2h0M53.5 45.9h0"/>
<path stroke="#53f2b8" d="M321.5 191.2h0M159.0 191.1h0M106.0 184.4h0M189.9 186.5h0M116.2 185.0h0M145.2 185.4h0M124.2 183.5h0M79.0 175.8h0M323.1 192.4h0M285.4 191.7h0M209.3 186.9h0M179.9 188.7h0M79.3 179.3h0M74.3 171.2h0M221.1 187.1h0M168.8 186.3h0M51.6 45.1h0M293.4 185.0h0M315.7 193.9h0M58.8 115.9h0M135.7 188.6h0M245.9 190.3h0M148.5 187.9h0M283.5 190.6h0M115.9 192.4h0M148.9 189.2h0M192.0 194.4h0M61.5 128.8h0M66.6 151.8h0M119.1 184.3h0M310.6 190.4h0M274.0 187.7h0M310.2 187.6h0M268.5 194.2h0M193.8 191.4h0M319.7 189.6h0M300.5 191.0h0M224.3 188.3h0M65.9 148.8h0M57.2 106.7h0M55.3 77.5h0M54.5 80.6h0M60.8 131.5h0"/>
<path stroke="#355dff" d="M130.2 189.0h0M84.9 185.9h0M167.2 192.7h0M120.3 188.5h0M180.3 190.5h0M211.4 193.9h0M106.4 191.7h0M290.7 190.6h0M76.1 170.1h0M242.8 192.1h0M259.4 192.0h0M170.9 188.6h0M310.5 193.2h0M178.6 194.3h0M83.3 186.3h0M238.1 189.5h0M328.9 191.4h0M119.4 187.2h0M70.8 166.1h0M137.4 191.2h0M330.6 191.5h0M215.4 193.1h0M203.3 189.6h0M285.1 190.2h0M211.3 192.6h0M84.6 184.2h0M57.0 105.1h0M61.0 135.4h0M51.3 39.2h0M65.9 157.0h0"/>
<path stroke="#3251ff" d="M249.0 196.7h0M296.3 188.2h0M292.0 191.8h0M303.0 194.4h0M272.0 194.2h0M157.2 193.0h0M174.1 186.6h0M84.1 187.6h0M319.6 192.0h0M253.6 186.4h0M288.3 196.7h0M182.6 194.9h0M294.3 190.7h0M67.8 164.2h0M247.2 189.7h0M199.2 193.5h0M268.2 193.0h0M296.8 190.9h0M315.6 195.2h0M160.0 195.0h0M273.1 192.9h0M255.8 190.9h0M200.1 195.9h0M294.2 189.5h0M289.9 190.8h0M64.8 154.8h0M56.8 101.2h0M57.8 107.5h0"/>
<path stroke="#6ffa8a" d="M58.7 111.1h0M223.7 184.5h0M260.7 185.1h0M159.0 184.8h0M261.8 186.9h0M188.8 185.2h0M147.9 190.2h0M306.4 193.0h0M83.7 183.1h0M184.7 185.7h0M231.4 189.3h0M86.9 176.5h0M302.6 186.2h0M142.0 184.9h0M213.6 182.1h0M173.8 190.0h0M186.0 184.0h0M192.3 183.6h0M122.9 182.8h0M205.6 184.2h0M173.0 182.6h0M237.3 186.9h0M300.8 184.3h0M57.1 102.4h0M116.8 185.9h0M265.8 187.2h0M63.4 140.1h0M52.1 38.3h0M155.6 181.9h0M214.1 191.6h0M119.2 188.4h0M229.3 188.3h0M147.4 181.6h0M114.6 185.3h0M292.5 190.5h0M305.9 190.9h0M215.6 189.4h0M125.5 185.3h0M119.6 182.6h0M209.9 191.5h0M242.7 184.4h0M157.1 186.2h0M202.8 189.9h0M77.1 171.8h0M270.9 190.2h0M66.3 153.7h0M161.2 185.0h0M200.9 185.0h0M208.5 183.9h0M248.4 184.6h0M257.7 186.9h0M61.5 129.6h0M63.7 141.5h0M57.8 107.5h0M63.7 140.9h0M65.9 148.9h0M59.3 118.6h0"/>
<path stroke="#ff904c" d="M139.7 181.7h0M296.5 179.9h0M177.8 180.0h0M306.6 184.9h0M314.9 185.0h0M72.3 163.7h0M213.5 185.1h0M300.2 187.8h0M241.6 185.0h0M280.5 182.8h0M319.6 187.7h0M202.7 180.8h0M235.3 182.6h0M247.6 189.3h0M137.3 178.9h0M281.0 178.1h0M127.8 177.6h0M200.1 181.9h0M84.7 173.1h0M121.3 179.9h0M244.1 182.6h0M242.0 179.2h0M306.2 184.5h0M112.6 185.1h0M253.5 180.7h0M116.2 183.5h0M327.1 182.8h0M245.6 187.9h0M66.4 150.5h0M54.8 61.9h0M320.6 178.4h0"/>
<path stroke="#ff2624" d="M69.3 159.6h0M215.6 179.8h0M292.0 183.7h0M263.2 180.8h0M180.7 183.1h0M183.9 185.8h0M236.4 186.0h0M60.7 118.3h0M250.2 180.0h0M283.6 186.7h0M191.7 179.2h0M188.9 180.7h0M51.6 26.2h0M318.3 178.0h0M295.4 177.4h0M330.9 178.2h0M99.6 172.6h0M123.9 176.9h0M216.7 179.3h0M327.1 178.1h0M111.5 173.7h0M300.7 177.6h0M216.6 177.2h0M267.3 178.0h0M215.1 177.9h0M222.3 178.5h0M250.8 178.5h0"/>
<path stroke="#fab555" d="M72.9 161.2h0M153.4 180.5h0M126.7 183.0h0M218.1 182.4h0M135.4 185.2h0M162.1 184.9h0M291.9 185.8h0M159.9 184.4h0M254.1 183.0h0M187.4 186.3h0M96.4 178.0h0M92.7 181.0h0M215.1 179.2h0M136.0 178.5h0M313.5 180.7h0M264.5 189.0h0M89.2 174.7h0M293.0 184.3h0M266.6 180.6h0M66.8 152.7h0M287.4 185.9h0M128.1 180.4h0M224.0 181.8h0M205.1 185.7h0M115.5 179.4h0M91.5 180.1h0M60.6 122.0h0M53.1 49.4h0M57.1 95.9h0"/>
<path stroke="#6df98e" d="M193.0 185.9h0M128.1 180.7h0M83.4 178.2h0M157.6 183.2h0M75.6 171.3h0M135.3 188.9h0M61.0 130.8h0M228.3 187.0h0M96.8 181.3h0M99.1 185.1h0M186.5 190.3h0M91.7 176.1h0M95.2 182.6h0M234.8 185.6h0M160.6 187.3h0M261.7 188.1h0M167.6 182.8h0M258.4 192.1h0M252.0 185.9h0M168.2 184.6h0M234.0 184.2h0M281.3 182.4h0M68.7 161.1h0M58.2 114.4h0M274.3 182.4h0M162.2 183.8h0M321.7 185.6h0M283.4 186.3h0M150.7 184.7h0M263.5 186.3h0M56.0 83.9h0M157.9 185.6h0M294.8 189.6h0M177.1 189.5h0M87.8 175.9h0M263.9 192.4h0M101.4 184.0h0M187.8 191.5h0M304.9 191.0h0M231.9 185.2h0M275.6 191.2h0M57.8 103.5h0M251.8 187.7h0M51.2 32.0h0M52.5 50.7h0M58.5 110.7h0M53.4 49.5h0M64.0 141.2h0"/>
<path stroke="#63f3a1" d="M70.0 164.9h0M254.6 185.8h0M211.9 186.8h0M236.6 187.1h0M152.1 182.7h0M311.3 187.8h0M319.0 185.1h0M255.9 193.0h0M269.5 193.5h0M73.7 169.7h0M170.9 185.0h0M314.4 186.3h0M165.8 192.1h0M318.9 183.0h0M120.2 185.8h0M303.6 186.6h0M173.5 183.6h0M148.4 182.6h0M281.6 191.8h0M123.1 188.4h0M171.4 192.9h0M97.4 181.2h0M271.5 189.1h0M169.3 184.2h0M189.5 189.8h0M226.6 191.3h0M256.3 185.4h0M150.9 189.3h0M224.7 193.4h0M123.6 186.3h0M141.1 187.8h0M307.1 186.0h0M106.9 189.9h0M107.3 188.5h0M156.9 192.5h0M326.3 187.5h0M178.4 187.0h0M119.7 180.0h0M208.1 184.9h0M67.4 153.6h0M61.3 132.5h0M61.0 127.9h0M59.1 122.1h0M65.1 151.4h0"/>
<path stroke="#ff6741" d="M119.1 178.2h0M209.6 183.7h0M319.9 184.6h0M129.5 182.8h0M186.2 181.2h0M139.0 181.1h0M106.6 177.7h0M218.5 182.9h0M71.0 159.2h0M234.2 181.8h0M260.9 179.5h0M115.3 183.0h0M315.0 178.7h0M190.2 181.2h0M58.4 101.6h0M186.9 182.5h0M174.6 183.3h0M245.0 181.0h0M128.7 181.6h0M135.9 178.7h0M177.8 183.2h0M217.2 186.6h0M117.4 180.5h0M284.8 183.4h0M58.7 109.9h0M52.4 35.8h0M52.8 45.2h0M52.7 39.1h0M80.3 165.7h0M257.5 177.8h0M181.1 178.0h0M301.1 178.6h0"/>
<path stroke="#58f3b0" d="M156.9 188.7h0M253.3 185.3h0M182.4 187.9h0M310.8 189.2h0M108.6 185.4h0M93.7 187.2h0M306.3 192.9h0M312.6 189.6h0M220.2 191.8h0M261.2 192.2h0M139.0 187.9h0M108.6 185.1h0M225.2 192.7h0M212.0 185.3h0M213.7 186.7h0M263.9 187.0h0M191.3 192.3h0M119.9 189.0h0M303.5 188.4h0M175.6 187.9h0M227.3 191.0h0M306.7 189.8h0M154.5 191.4h0M56.4 85.3h0M213.0 184.3h0M96.8 187.8h0M200.3 193.0h0M189.1 185.7h0M73.3 168.4h0M199.3 189.3h0M329.9 186.4h0M299.0 187.4h0M148.2 192.4h0M100.3 182.5h0M59.3 125.0h0M56.0 84.2h0M52.8 55.8h0"/>
<path stroke="#f5c65a" d="M174.7 181.3h0M319.3 184.9h0M262.7 186.9h0M263.4 181.7h0M95.6 180.1h0M291.2 185.6h0M141.5 181.9h0M119.9 178.4h0M146.6 182.9h0M105.7 185.0h0M115.6 177.9h0M133.7 181.9h0M129.3 188.8h0M255.6 180.4h0M177.1 184.7h0M233.6 183.6h0M152.8 186.0h0M192.5 185.8h0M287.3 186.7h0M195.7 186.0h0M199.1 181.2h0M306.7 184.7h0M256.9 181.2h0M121.4 179.8h0M308.2 184.3h0M169.9 186.9h0M236.0 185.9h0M136.0 179.3h0M140.8 179.0h0M179.3 181.3h0M65.6 149.6h0M54.5 60.7h0M66.4 146.4h0M55.2 61.8h0"/>
<path stroke="#7ff775" d="M256.5 184.0h0M268.3 182.9h0M267.2 189.2h0M258.9 181.8h0M69.2 159.0h0M192.2 187.8h0M234.6 186.5h0M143.6 188.4h0M68.4 159.0h0M153.5 184.2h0M147.2 183.6h0M123.5 184.3h0M212.6 188.8h0M182.4 181.5h0M192.4 186.0h0M313.8 189.8h0M279.3 184.1h0M180.1 182.8h0M125.9 179.0h0M267.6 184.6h0M277.9 187.5h0M230.1 187.3h0M137.0 186.2h0M116.9 188.4h0M136.0 188.1h0M95.4 185.0h0M123.1 183.8h0M296.1 186.4h0M254.8 186.5h0M150.3 187.3h0M106.9 178.4h0M155.3 185.9h0M224.9 187.2h0M280.7 183.8h0M208.3 190.4h0M76.7 170.2h0M84.6 182.2h0M234.9 185.5h0M64.2 145.2h0M233.3 189.2h0M123.8 183.0h0M106.7 179.9h0M104.8 179.6h0M64.3 140.5h0M53.5 54.5h0M65.0 141.9h0M67.3 159.6h0M51.1 28.8h0M54.8 62.8h0"/>
<path stroke="#6af893" d="M86.0 181.2h0M224.2 184.6h0M250.6 192.0h0M209.0 188.7h0M317.8 192.4h0M325.8 185.1h0M224.5 184.3h0M230.7 186.3h0M58.9 113.5h0M295.4 188.6h0M92.3 182.3h0M171.5 191.6h0M266.1 182.8h0M134.1 189.3h0M122.7 183.9h0M170.6 183.5h0M197.5 182.3h0M265.7 189.6h0M76.5 172.3h0M170.4 185.5h0M159.8 185.3h0M166.5 188.6h0M102.9 181.8h0M256.5 190.3h0M143.9 181.4h0M219.6 191.8h0M220.9 190.7h0M99.7 189.3h0M291.5 190.6h0M126.5 180.1h0M306.7 186.9h0M150.3 181.2h0M284.8 185.6h0M227.0 187.4h0M260.4 184.7h0M123.1 183.5h0M308.0 183.6h0M96.9 180.8h0M258.9 184.5h0M102.9 180.1h0M305.3 190.7h0M66.2 151.9h0M278.5 187.5h0M260.6 190.2h0M256.6 188.2h0M59.4 116.1h0M52.8 40.4h0M53.7 63.8h0M53.6 55.4h0M51.2 32.5h0"/>
<path stroke="#63f3a1" d="M59.8 120.2h0M146.6 190.4h0M73.6 167.6h0M69.6 162.8h0M219.4 189.9h0M279.7 186.1h0M141.9 187.9h0M259.1 186.8h0M138.7 188.0h0M122.9 187.3h0M122.4 189.2h0M150.4 188.3h0M186.3 189.3h0M91.7 183.5h0M272.0 186.7h0M219.4 187.8h0M297.9 190.8h0M205.6 187.5h0M128.0 187.9h0M278.8 192.4h0M259.4 193.0h0M188.2 184.3h0M68.6 159.5h0M297.3 191.1h0M177.8 191.5h0M330.3 189.0h0M249.4 185.8h0M207.8 188.2h0M228.0 187.2h0M107.2 183.3h0M59.2 123.9h0M243.6 191.0h0M161.6 188.1h0M104.5 189.4h0M227.3 189.5h0M275.6 184.5h0M150.6 190.0h0M269.2 190.1h0M57.0 96.3h0M59.3 122.3h0M64.8 145.7h0M56.3 91.4h0M51.4 32.3h0M59.1 119.3h0"/>
<path stroke="#4ef2c1" d="M238.6 191.6h0M192.2 186.4h0M220.3 185.3h0M249.4 189.3h0M289.8 189.6h0M82.2 176.7h0M225.2 190.1h0M310.4 185.8h0M106.2 183.3h0M115.8 185.2h0M197.5 187.0h0M270.7 188.4h0M163.6 185.7h0M263.1 188.6h0M223.0 191.4h0M127.7 193.9h0M83.6 181.9h0M214.1 188.2h0M189.6 189.3h0M107.4 184.4h0M287.8 190.9h0M96.7 186.3h0M145.9 188.4h0M80.3 178.2h0M257.5 191.2h0M235.4 191.7h0M183.7 186.1h0M66.6 155.9h0M151.8 186.0h0M306.3 195.0h0M99.8 185.4h0M168.3 193.4h0M195.5 187.8h0M295.7 185.8h0M258.3 189.3h0M116.7 184.9h0M61.9 141.0h0M321.9 191.2h0M56.9 100.2h0M53.1 45.7h0M65.9 159.2h0"/>
<path stroke="#ff553b" d="M133.5 181.9h0M55.9 71.7h0M100.0 176.9h0M326.0 181.4h0M321.0 188.5h0M174.2 180.3h0M199.7 180.5h0M285.6 185.6h0M139.3 181.7h0M250.4 181.4h0M251.7 186.1h0M238.2 180.8h0M178.5 186.3h0M275.7 179.4h0M193.9 184.5h0M108.8 177.1h0M271.2 182.7h0M327.4 178.8h0M108.2 180.1h0M325.4 187.3h0M203.6 181.0h0M120.9 182.6h0M255.2 186.2h0M52.6 27.4h0M56.0 77.3h0M53.5 45.5h0M60.0 114.9h0M182.5 177.0h0M228.2 178.2h0M305.2 178.6h0M304.1 177.8h0M302.9 177.5h0M132.6 178.5h0M253.7 178.1h0"/>
<path stroke="#65f59c" d="M260.4 191.5h0M136.7 188.3h0M131.4 182.6h0M312.7 191.1h0M238.0 188.7h0M122.5 183.0h0M233.8 186.7h0M238.4 189.0h0M132.7 186.6h0M114.5 183.7h0M51.4 33.1h0M164.5 185.3h0M197.0 186.4h0M284.5 190.0h0M200.0 183.7h0M103.4 186.5h0M165.4 193.0h0M75.9 168.5h0M211.5 184.5h0M128.4 187.6h0M111.2 188.3h0M313.5 189.5h0M328.3 187.4h0M278.8 192.3h0M101.3 179.4h0M326.9 184.2h0M96.5 180.9h0M193.3 191.1h0M139.0 182.4h0M104.8 183.4h0M198.3 188.7h0M231.6 185.2h0M168.5 193.5h0M317.8 189.3h0M296.8 186.0h0M277.6 189.7h0M181.4 193.2h0M249.7 184.8h0M210.4 188.1h0M252.0 187.0h0M193.1 185.9h0M61.7 131.3h0M58.9 119.9h0M55.3 78.0h0M54.3 79.1h0M54.6 77.5h0M51.1 29.1h0"/>
<path stroke="#6ffa8a" d="M120.5 181.5h0M185.7 180.7h0M185.1 189.5h0M261.8 193.0h0M229.1 188.7h0M177.1 182.3h0M123.3 179.9h0M97.2 180.0h0M251.2 186.8h0M314.2 191.2h0M130.9 181.9h0M293.4 192.7h0M175.8 188.2h0M245.9 188.6h0M283.6 191.8h0M322.1 187.0h0M236.6 187.2h0M229.3 187.1h0M254.2 184.4h0M111.9 189.3h0M317.1 192.2h0M120.2 183.6h0M269.5 186.4h0M276.1 194.2h0M76.3 171.7h0M195.7 184.9h0M236.1 189.9h0M160.0 191.1h0M158.7 182.7h0M262.9 184.5h0M309.4 183.7h0M58.1 111.2h0M155.7 184.2h0M248.3 182.8h0M182.4 189.6h0M85.1 179.5h0M321.1 189.9h0M202.0 184.1h0M103.6 186.5h0M313.6 191.7h0M148.8 189.2h0M156.2 187.9h0M130.6 185.3h0M91.9 175.7h0M189.1 183.6h0M167.3 185.4h0M151.9 183.7h0M157.2 190.0h0M210.2 190.8h0M267.5 186.3h0M66.6 147.7h0M219.3 190.3h0M67.8 162.7h0M51.2 31.6h0M55.0 81.4h0M67.3 156.2h0M53.3 56.9h0M58.8 115.0h0"/>
<path stroke="#6ffa8a" d="M73.6 168.7h0M329.2 192.2h0M104.2 188.4h0M324.3 185.9h0M68.0 155.6h0M227.0 186.1h0M157.8 187.5h0M115.5 178.2h0M149.1 190.8h0M182.1 185.6h0M176.4 185.6h0M288.3 191.1h0M120.2 186.2h0M182.0 186.6h0M138.4 179.9h0M302.1 188.0h0M298.3 189.0h0M275.3 189.0h0M107.4 186.3h0M312.2 182.4h0M63.8 145.0h0M102.8 181.2h0M267.9 187.0h0M61.2 135.6h0M163.3 187.7h0M312.7 186.9h0M82.5 174.0h0M194.2 186.3h0M61.2 126.1h0M224.4 186.4h0M258.6 183.8h0M284.9 189.3h0M181.7 188.2h0M315.8 182.0h0M214.3 190.4h0M217.2 183.6h0M151.5 189.4h0M275.9 182.9h0M168.6 189.6h0M103.1 178.7h0M60.1 123.8h0M129.1 183.3h0M115.7 183.4h0M247.5 184.1h0M169.1 186.8h0M289.6 183.7h0M259.0 184.9h0M131.1 184.1h0M299.6 190.7h0M81.1 178.2h0M196.4 190.7h0M232.4 186.6h0M58.7 119.3h0M51.2 28.6h0M57.1 106.0h0M59.5 119.7h0M59.7 122.4h0M53.0 36.7h0"/>
<path stroke="#355dff" d="M95.8 187.4h0M301.4 192.6h0M166.8 189.0h0M88.0 185.8h0M148.6 187.0h0M197.8 188.0h0M94.2 187.2h0M292.3 191.8h0M159.2 191.5h0M87.2 185.6h0M112.4 186.0h0M186.6 187.9h0M252.4 194.6h0M245.3 187.3h0M65.0 154.5h0M305.4 196.8h0M277.2 196.2h0M108.7 185.3h0M248.5 195.7h0M166.5 190.4h0M148.0 192.8h0M94.7 183.8h0M159.4 191.7h0M87.0 180.6h0M125.5 188.2h0M262.9 189.6h0M59.8 133.7h0M62.4 137.9h0M61.6 137.3h0M52.5 58.4h0"/>
<path stroke="#ff6741" d="M299.3 180.6h0M234.3 183.8h0M142.9 187.3h0M164.0 186.2h0M289.6 181.1h0M227.4 179.2h0M59.3 117.9h0M92.0 173.4h0M163.7 184.5h0M326.6 187.9h0M189.8 179.8h0M107.3 182.0h0M263.3 179.4h0M272.5 184.2h0M243.8 187.5h0M212.3 185.3h0M152.2 186.0h0M123.8 177.4h0M66.9 152.5h0M315.9 182.1h0M203.8 180.6h0M111.0 181.8h0M70.5 156.1h0M100.7 173.9h0M281.2 186.5h0M67.8 153.2h0M54.8 56.8h0M57.0 95.2h0M161.4 177.1h0M241.0 178.1h0M289.9 178.6h0M273.7 178.2h0M226.3 179.6h0"/>
<path stroke="#7ff775" d="M177.5 184.7h0M312.4 191.2h0M60.7 128.1h0M64.7 147.7h0M322.6 190.9h0M213.6 190.5h0M224.9 183.7h0M112.8 184.9h0M230.8 187.2h0M128.7 180.8h0M207.8 181.9h0M190.1 187.5h0M143.0 180.1h0M86.0 176.3h0M139.4 184.9h0M109.5 182.2h0M173.4 183.0h0M219.6 184.0h0M211.4 184.0h0M158.7 186.5h0M202.7 191.3h0M249.6 186.1h0M160.2 190.8h0M261.5 187.2h0M190.6 182.1h0M147.7 183.3h0M200.7 185.2h0M207.5 187.8h0M248.6 182.8h0M222.2 184.7h0M101.7 177.4h0M267.3 190.1h0M135.7 188.3h0M124.6 180.9h0M125.3 183.8h0M56.4 97.1h0M253.8 189.0h0M67.5 149.8h0M278.7 184.0h0M181.1 183.0h0M306.9 190.2h0M114.6 179.3h0M318.6 183.2h0M60.4 126.9h0M59.0 122.7h0M60.6 126.7h0M60.6 118.7h0M55.8 88.4h0M53.5 44.8h0"/>
<path stroke="#2828ff" d="M146.2 189.2h0M315.1 195.6h0M194.6 197.1h0M82.8 184.8h0M311.4 191.3h0M324.5 198.2h0M107.7 187.5h0M226.9 193.2h0M232.0 191.3h0M163.0 193.9h0M306.9 198.4h0M113.2 188.8h0M283.5 198.0h0M123.5 186.3h0M173.0 187.6h0M55.0 82.3h0M329.2 189.7h0M255.2 192.0h0M151.3 189.7h0M81.7 186.5h0M82.1 185.4h0M228.4 190.3h0M147.4 196.1h0M190.4 190.2h0M249.6 189.2h0M319.9 189.4h0M77.5 180.8h0M185.1 192.9h0M285.7 190.6h0M254.3 191.1h0M256.3 197.1h0M322.0 191.8h0M255.0 195.6h0M309.5 189.8h0M194.2 195.6h0M309.1 196.3h0M257.0 190.2h0M321.7 189.3h0M190.9 189.0h0M51.4 41.9h0M52.5 59.9h0M66.4 156.3h0"/>
<path stroke="#8af56a" d="M297.5 181.5h0M120.3 184.2h0M158.0 187.7h0M154.9 187.6h0M329.3 186.9h0M115.3 180.1h0M154.2 181.5h0M158.6 189.5h0M256.8 182.5h0M58.6 109.7h0M132.1 181.1h0M320.6 186.0h0M179.7 185.7h0M182.8 188.6h0M92.9 178.7h0M324.1 183.3h0M225.5 189.2h0M151.3 185.3h0M129.1 186.0h0M296.5 184.3h0M226.4 182.4h0M299.8 183.2h0M258.7 179.6h0M191.2 185.4h0M94.0 180.0h0M132.3 179.9h0M173.3 181.0h0M263.3 184.9h0M137.3 180.9h0M249.2 183.4h0M265.7 186.9h0M129.0 184.5h0M231.5 182.7h0M256.5 182.3h0M263.7 185.1h0M208.1 180.6h0M160.4 181.9h0M241.7 182.8h0M113.3 184.6h0M315.5 184.0h0M162.2 184.4h0M222.1 185.9h0M74.8 170.7h0M54.8 60.6h0M63.6 135.8h0M52.4 38.8h0M58.0 110.4h0M55.0 64.1h0M54.7 59.3h0"/>
<path stroke="#ff2e2b" d="M290.3 184.1h0M224.6 178.0h0M106.2 174.6h0M329.3 183.9h0M163.0 183.4h0M186.5 179.3h0M264.0 182.3h0M223.7 182.4h0M272.3 182.5h0M250.3 182.9h0M213.5 179.3h0M180.0 177.3h0M92.1 172.0h0M187.5 185.8h0M70.0 162.7h0M58.3 102.3h0M61.7 130.0h0M51.9 27.6h0M187.2 177.8h0M120.6 175.5h0M133.3 176.2h0M239.5 178.3h0M306.2 177.5h0M287.8 178.6h0M318.2 177.7h0M106.2 175.0h0M242.2 178.6h0M250.4 178.1h0M104.3 174.8h0M232.9 178.7h0M176.5 177.8h0M95.2 172.9h0M242.3 178.0h0M142.7 177.1h0M296.8 178.0h0M256.6 178.7h0M215.4 178.9h0"/>
<path stroke="#2a2fff" d="M219.5 195.3h0M292.7 190.0h0M318.0 193.5h0M141.0 195.2h0M293.4 194.8h0M262.4 191.3h0M147.8 189.4h0M237.3 195.0h0M143.3 187.7h0M129.5 191.1h0M52.9 67.9h0M164.5 188.0h0M161.2 188.6h0M84.7 178.3h0M68.3 166.9h0M219.0 191.4h0M125.8 191.6h0M127.9 194.6h0M161.8 195.9h0M56.1 99.2h0"/>
<path stroke="#46ebf2" d="M74.9 175.3h0M255.8 189.3h0M211.9 191.8h0M320.6 193.4h0M167.9 189.9h0M89.7 183.1h0M144.3 186.6h0M160.5 194.2h0M195.7 190.9h0M277.3 187.1h0M214.7 187.4h0M196.3 187.3h0M59.6 118.7h0M209.9 191.6h0M216.8 191.0h0M283.0 189.4h0M322.7 191.7h0M175.2 187.6h0M168.7 185.8h0M53.8 69.6h0M325.4 189.8h0M279.8 190.1h0M226.1 188.7h0M127.1 184.6h0M216.0 187.8h0M66.4 154.2h0M172.1 184.9h0M295.6 190.0h0M200.7 191.4h0M60.3 127.2h0M215.0 191.8h0M255.2 192.5h0M56.8 107.1h0M56.5 105.5h0M51.2 30.2h0"/>
<path stroke="#f5c65a" d="M299.2 181.8h0M230.1 184.0h0M234.2 188.8h0M223.3 181.7h0M272.6 183.1h0M298.8 179.2h0M165.8 186.3h0M65.4 144.2h0M131.5 185.4h0M300.9 187.0h0M57.6 100.1h0M186.5 187.9h0M219.7 183.4h0M145.8 188.1h0M193.0 185.5h0M76.6 164.5h0M214.8 181.5h0M139.1 188.3h0M133.9 183.9h0M103.5 177.4h0M316.3 186.1h0M124.6 179.5h0M151.8 185.7h0M271.0 182.7h0M216.2 188.3h0M209.0 181.8h0M55.1 73.5h0M108.0 181.2h0M82.4 174.7h0M94.2 178.1h0M131.1 179.4h0M56.9 95.4h0M52.1 32.6h0M61.5 132.3h0M51.8 27.5h0"/>
<path stroke="#3b8fff" d="M123.5 191.3h0M303.2 188.4h0M321.3 189.7h0M247.4 193.7h0M117.6 193.7h0M187.0 192.3h0M71.9 169.6h0M309.9 187.8h0M136.8 188.1h0M324.9 188.4h0M121.0 190.8h0M231.3 193.8h0M276.1 188.4h0M179.2 187.8h0M305.8 193.3h0M200.0 194.0h0M93.6 187.6h0M243.2 194.8h0M197.4 189.3h0M305.0 187.9h0M192.8 187.6h0M268.9 189.9h0M105.9 185.4h0M54.3 68.0h0M117.7 190.6h0M214.1 187.3h0M62.9 143.4h0M96.6 190.0h0M112.8 187.1h0M86.6 182.6h0M286.0 191.9h0M150.7 187.5h0M280.2 190.3h0M57.0 103.7h0M192.4 192.3h0M54.4 79.2h0M57.8 116.1h0M65.3 157.5h0M52.0 54.2h0"/>
<path stroke="#3a7cff" d="M322.3 188.5h0M182.0 192.9h0M256.2 187.6h0M108.2 185.6h0M110.4 187.5h0M234.4 188.7h0M53.6 53.8h0M324.3 196.8h0M77.0 173.9h0M201.6 189.8h0M328.1 188.6h0M311.4 192.4h0M88.6 186.8h0M165.0 190.6h0M51.7 37.6h0M73.1 169.0h0M238.8 193.0h0M179.9 195.8h0M254.1 187.9h0M152.5 192.4h0M118.1 193.7h0M278.8 191.4h0M236.7 190.8h0M86.7 179.1h0M299.9 194.8h0M125.9 192.0h0M225.7 194.7h0M124.9 188.0h0M65.9 153.3h0M57.5 106.8h0M53.6 67.2h0"/>
<path stroke="#71f986" d="M143.6 187.9h0M325.1 188.0h0M303.7 189.2h0M262.5 188.5h0M280.5 182.8h0M227.2 189.2h0M108.4 183.9h0M173.1 186.1h0M260.3 183.2h0M275.2 186.6h0M79.4 177.9h0M71.1 162.1h0M106.0 186.8h0M92.9 175.4h0M311.1 184.4h0M261.5 182.0h0M92.3 180.4h0M57.6 98.9h0M58.6 111.5h0M63.2 146.8h0M151.2 184.7h0M162.4 189.3h0M98.1 179.8h0M278.0 185.0h0M178.3 188.5h0M154.0 181.2h0M241.0 188.8h0M58.1 108.8h0M292.1 190.6h0M89.9 183.1h0M128.4 186.1h0M318.8 188.6h0M316.6 189.2h0M315.9 189.5h0M159.3 187.0h0M204.9 187.3h0M125.9 188.4h0M212.6 183.2h0M137.4 186.0h0M150.8 180.8h0M313.4 188.4h0M275.5 181.9h0M237.4 188.3h0M178.3 190.0h0M107.0 180.2h0M60.5 128.4h0M76.9 173.2h0M88.5 178.7h0M271.0 184.6h0M69.9 160.2h0M157.1 183.7h0M226.1 190.5h0M298.4 183.4h0M191.1 185.3h0M55.3 80.8h0M56.8 96.2h0M53.3 42.1h0M57.4 105.0h0M58.9 111.9h0"/>
<path stroke="#8af56a" d="M146.2 182.1h0M71.0 163.2h0M64.3 144.0h0M91.0 175.4h0M78.0 170.7h0M153.0 190.9h0M148.9 184.8h0M101.1 179.1h0M168.9 183.8h0M152.7 185.5h0M313.0 186.4h0M302.0 184.5h0M126.9 185.1h0M150.4 180.5h0M189.0 186.6h0M182.1 181.1h0M330.1 185.2h0M288.6 188.2h0M100.8 180.4h0M176.4 180.5h0M303.3 182.4h0M318.6 187.4h0M81.6 173.0h0M182.7 187.8h0M154.8 188.4h0M228.2 182.2h0M235.3 185.3h0M185.7 186.2h0M317.8 188.9h0M59.9 116.6h0M185.4 186.3h0M116.3 184.3h0M241.0 188.9h0M304.2 187.4h0M85.6 176.3h0M326.3 187.3h0M284.7 186.7h0M68.5 153.6h0M198.2 181.3h0M208.7 181.0h0M300.6 185.0h0M263.4 182.0h0M267.0 185.4h0M64.4 141.1h0M53.3 45.6h0M61.1 120.5h0M53.2 41.0h0M52.1 34.2h0M52.4 33.4h0"/>
<path stroke="#3b8fff" d="M173.4 188.3h0M93.0 185.7h0M145.3 188.6h0M306.4 188.3h0M85.6 180.2h0M128.2 189.3h0M114.3 192.1h0M226.5 195.0h0M301.6 190.5h0M83.9 183.4h0M293.8 187.6h0M278.8 186.8h0M61.8 141.5h0M307.0 190.1h0M188.3 192.3h0M99.2 192.2h0M79.9 174.6h0M80.0 178.8h0M150.6 187.8h0M224.7 186.4h0M161.6 193.4h0M103.8 187.8h0M130.0 187.7h0M51.7 39.3h0M86.2 178.8h0M108.3 184.7h0M239.3 192.8h0M309.2 191.6h0M205.3 187.2h0M240.1 192.0h0M115.2 184.3h0M218.0 194.2h0M262.7 192.0h0M288.4 196.6h0M59.6 123.7h0M51.1 33.9h0M57.4 104.5h0M61.5 138.1h0"/>
<path stroke="#48dbfc" d="M224.1 189.3h0M269.0 189.5h0M251.2 189.3h0M119.3 192.2h0M87.0 186.4h0M135.4 190.0h0M290.4 195.3h0M112.8 194.1h0M325.8 187.6h0M275.0 194.3h0M328.1 187.1h0M85.2 183.1h0M329.4 188.1h0M258.0 195.8h0M152.0 192.3h0M321.7 193.2h0M198.6 190.2h0M118.5 190.2h0M114.9 185.5h0M123.8 186.0h0M279.6 186.8h0M134.5 190.0h0M121.8 186.0h0M208.6 187.3h0M282.0 188.5h0M246.7 193.3h0M183.0 194.5h0M135.4 194.3h0M89.3 186.1h0M135.9 185.8h0M125.2 189.7h0M117.7 184.8h0M69.2 164.2h0M155.1 190.3h0M63.0 146.2h0M159.8 184.7h0M51.4 37.5h0M63.9 147.6h0M56.1 97.7h0"/>
<path stroke="#ff2322" d="M111.2 180.8h0M279.2 183.8h0M305.4 185.0h0M107.7 178.1h0M119.9 184.1h0M111.2 179.8h0M57.8 101.7h0M233.3 182.8h0M244.1 181.0h0M63.3 129.8h0M212.8 178.2h0M242.6 177.6h0M257.3 178.7h0M184.9 178.3h0M266.2 179.2h0M316.4 176.8h0M316.5 177.5h0M315.1 178.8h0M231.7 177.4h0M181.2 177.4h0M296.5 177.8h0M173.5 178.6h0"/>
<path stroke="#3b8fff" d="M179.6 190.7h0M211.0 188.7h0M288.6 194.5h0M175.8 188.0h0M123.9 188.6h0M162.9 191.4h0M135.7 187.3h0M212.0 189.3h0M130.5 195.1h0M280.4 189.3h0M78.2 180.4h0M193.8 187.0h0M140.0 186.8h0M313.1 191.8h0M166.8 186.1h0M73.0 172.9h0M227.0 186.9h0M129.8 186.5h0M209.2 189.3h0M84.0 182.1h0M287.9 189.8h0M290.5 189.3h0M264.5 189.7h0M140.7 193.9h0M323.6 190.7h0M264.6 194.5h0M239.9 194.5h0M206.9 196.6h0M174.6 189.9h0M233.4 190.1h0M113.1 185.8h0M191.9 194.0h0M205.8 188.0h0M283.1 191.3h0M53.6 76.9h0M51.4 33.5h0M60.8 129.2h0M62.3 143.1h0"/>
<path stroke="#48dbfc" d="M201.4 189.5h0M324.5 193.4h0M64.5 152.8h0M79.3 173.1h0M220.5 196.3h0M258.0 191.2h0M265.3 193.8h0M148.1 195.3h0M59.2 121.5h0M189.2 193.3h0M145.2 186.0h0M305.5 191.4h0M285.9 191.7h0M151.0 190.5h0M202.5 193.1h0M103.8 180.9h0M311.2 193.6h0M304.8 192.2h0M229.6 187.7h0M294.1 188.7h0M205.4 194.1h0M114.5 189.2h0M189.5 187.3h0M227.7 190.5h0M316.7 190.8h0M71.6 168.8h0M88.6 179.7h0M192.6 190.6h0M134.4 190.3h0M253.5 186.7h0M202.5 188.7h0M98.6 189.4h0M274.6 192.7h0M183.9 193.3h0M222.5 189.0h0M91.3 188.6h0M67.0 158.3h0M52.3 43.7h0"/>
<path stroke="#58f3b0" d="M296.7 186.9h0M200.4 185.5h0M218.2 188.3h0M318.9 189.3h0M304.8 186.4h0M80.7 177.7h0M320.8 188.3h0M233.8 184.1h0M53.0 42.9h0M245.8 190.3h0M128.5 184.0h0M265.5 187.1h0M149.2 186.1h0M55.3 84.8h0M221.9 185.8h0M72.4 169.3h0M118.7 186.7h0M208.9 190.9h0M92.2 180.4h0M154.9 190.3h0M205.0 194.3h0M77.8 175.4h0M237.4 186.9h0M249.1 193.9h0M57.9 115.8h0M63.2 142.2h0M116.4 188.8h0M214.3 189.8h0M251.1 191.2h0M316.9 188.4h0M304.5 193.0h0M71.8 165.0h0M287.5 192.1h0M52.8 43.9h0M56.3 85.8h0M53.0 49.9h0M59.4 120.1h0"/>
<path stroke="#4af0db" d="M292.5 190.7h0M118.1 182.6h0M124.6 184.0h0M157.5 193.4h0M153.4 186.5h0M68.3 162.0h0M98.4 181.1h0M168.4 189.1h0M311.6 187.8h0M265.6 186.7h0M84.1 180.2h0M219.3 187.7h0M283.6 186.5h0M201.4 194.6h0M265.8 194.2h0M162.8 190.6h0M137.0 192.5h0M116.7 183.2h0M291.4 190.7h0M63.2 147.5h0M152.8 192.0h0M290.6 188.2h0M181.2 184.2h0M267.5 186.3h0M165.3 188.1h0M180.4 183.8h0M164.7 194.2h0M232.1 189.2h0M101.8 181.3h0M284.6 188.5h0M260.1 192.3h0M273.3 188.4h0M119.3 187.2h0M114.5 183.5h0M158.2 186.2h0M115.8 189.6h0M52.1 51.7h0M57.3 103.6h0M63.3 144.3h0M51.8 47.4h0"/>
<path stroke="#3b8fff" d="M100.7 184.9h0M261.2 195.7h0M157.6 186.3h0M153.0 188.8h0M288.8 190.7h0M261.7 189.8h0M265.1 189.4h0M63.0 148.6h0M282.7 188.2h0M102.1 182.2h0M116.9 185.8h0M55.6 90.1h0M117.3 188.8h0M207.3 193.0h0M228.5 195.0h0M324.1 187.0h0M299.9 188.9h0M285.5 195.0h0M81.1 174.4h0M138.4 190.1h0M227.9 193.2h0M92.5 187.2h0M98.9 187.8h0M62.8 137.6h0M248.7 193.5h0M81.6 178.3h0M117.8 184.3h0M197.3 194.1h0M199.2 193.8h0M166.9 190.1h0M161.0 195.1h0M310.8 193.5h0M319.4 188.2h0M316.0 188.6h0M62.8 141.7h0M65.0 152.5h0M60.1 124.4h0M55.5 86.1h0M55.4 85.5h0"/>
<path stroke="#fea451" d="M184.6 187.2h0M178.9 186.1h0M167.9 189.2h0M258.0 182.3h0M57.4 92.6h0M250.1 184.6h0M251.8 181.7h0M177.6 181.7h0M98.0 183.4h0M277.8 186.7h0M155.1 186.1h0M239.0 183.4h0M141.5 179.6h0M269.2 179.9h0M254.9 182.2h0M139.3 180.2h0M312.2 184.6h0M86.0 173.6h0M323.3 181.5h0M51.8 34.6h0M263.6 180.8h0M132.1 184.9h0M93.1 173.4h0M239.2 184.3h0M242.4 183.1h0M56.9 85.7h0M55.8 75.9h0M51.7 37.9h0"/>
<path stroke="#3a7cff" d="M81.5 174.2h0M311.0 196.7h0M160.4 191.2h0M235.3 192.3h0M71.8 167.6h0M82.5 186.4h0M318.9 195.5h0M301.6 192.0h0M113.5 188.5h0M98.0 181.6h0M214.7 193.4h0M206.8 196.7h0M328.5 190.7h0M209.6 188.5h0M317.5 188.1h0M227.7 195.2h0M141.6 186.0h0M133.6 186.6h0M116.6 194.2h0M247.2 189.8h0M82.0 181.6h0M290.6 189.1h0M186.6 191.4h0M89.8 180.3h0M275.9 189.1h0M80.4 178.5h0M245.4 192.4h0M100.7 186.2h0M317.3 195.2h0M60.5 127.7h0M52.1 42.7h0M51.2 34.0h0"/>
<path stroke="#ff4535" d="M85.6 175.1h0M96.1 177.9h0M170.9 184.7h0M268.1 187.9h0M232.9 180.6h0M209.4 186.9h0M299.1 179.9h0M85.2 175.1h0M56.9 96.1h0M207.8 181.6h0M188.2 180.7h0M170.6 178.4h0M153.2 183.7h0M128.5 177.5h0M293.9 183.0h0M177.0 186.2h0M234.5 179.7h0M126.9 177.6h0M281.5 179.0h0M52.9 41.6h0M60.7 124.8h0M66.3 144.0h0M214.5 178.3h0M262.7 177.9h0M320.8 177.3h0M174.9 179.2h0M276.4 179.1h0M297.7 177.2h0M219.8 177.9h0M119.2 175.8h0M78.7 165.2h0M194.7 178.8h0"/>
<path stroke="#73f982" d="M265.0 189.3h0M315.1 186.9h0M250.5 184.0h0M188.4 186.7h0M138.3 189.7h0M317.3 188.6h0M100.4 185.5h0M92.2 179.1h0M147.4 184.9h0M254.9 182.9h0M326.9 188.3h0M101.2 179.7h0M147.3 188.7h0M120.0 181.3h0M316.0 190.5h0M153.2 189.4h0M288.7 184.3h0M231.5 189.1h0M195.4 188.8h0M193.3 187.1h0M110.1 185.5h0M143.8 188.3h0M249.9 190.0h0M79.9 174.9h0M60.5 131.2h0M208.8 183.1h0M288.6 188.5h0M165.3 188.0h0M106.0 182.1h0M267.9 188.6h0M324.6 189.9h0M159.3 188.5h0M252.2 191.8h0M275.7 187.5h0M63.6 141.9h0M186.4 185.0h0M299.3 182.7h0M257.1 186.8h0M207.1 191.1h0M270.5 185.8h0M313.7 186.2h0M327.1 185.7h0M325.0 191.0h0M279.0 184.8h0M173.9 183.1h0M241.3 183.5h0M188.8 183.1h0M174.4 182.2h0M285.7 184.0h0M145.6 186.6h0M60.4 127.3h0M61.8 126.5h0M63.5 136.4h0M54.9 75.5h0M51.6 40.2h0M55.7 91.5h0"/>
<path stroke="#6af893" d="M170.5 186.2h0M238.2 188.6h0M211.0 190.3h0M266.0 185.4h0M177.9 187.9h0M279.1 185.9h0M90.3 180.5h0M258.6 190.1h0M215.9 190.9h0M160.1 185.6h0M219.6 187.5h0M170.6 188.4h0M175.3 185.4h0M112.3 181.8h0M62.9 141.2h0M66.9 156.1h0M86.9 181.9h0M274.3 193.6h0M228.6 183.4h0M299.0 186.9h0M184.3 187.7h0M329.4 187.7h0M225.7 184.3h0M114.1 185.2h0M174.1 188.3h0M295.7 184.0h0M59.9 116.6h0M300.5 187.7h0M145.7 184.2h0M57.7 100.5h0M78.2 173.2h0M311.4 189.4h0M327.5 190.2h0M97.6 185.4h0M93.3 176.0h0M167.0 189.8h0M210.3 187.6h0M92.4 183.5h0M172.1 188.0h0M74.3 172.2h0M107.4 184.7h0M148.5 186.3h0M137.0 182.9h0M93.9 183.0h0M225.8 189.4h0M278.9 185.2h0M60.1 125.8h0M51.2 26.7h0M51.7 36.8h0M53.8 52.5h0M57.9 101.1h0"/>
<path stroke="#68f698" d="M162.9 189.6h0M110.7 178.5h0M223.2 192.1h0M127.6 187.0h0M322.8 192.1h0M298.6 189.0h0M313.7 185.5h0M102.9 181.8h0M113.5 183.1h0M328.0 184.2h0M112.7 184.1h0M81.6 179.5h0M59.4 125.0h0M165.1 191.0h0M139.4 190.5h0M143.2 191.0h0M120.1 180.9h0M112.1 185.7h0M198.4 184.6h0M245.1 184.2h0M166.3 186.3h0M279.1 188.0h0M136.3 186.3h0M66.0 151.0h0M319.1 183.3h0M321.3 190.9h0M122.6 188.6h0M251.6 186.8h0M60.0 128.9h0M221.6 190.8h0M118.1 186.1h0M61.4 127.1h0M216.1 186.3h0M101.7 181.2h0M204.0 189.8h0M289.8 183.6h0M155.4 183.5h0M181.8 189.6h0M70.5 159.0h0M244.6 184.8h0M70.0 160.1h0M55.8 79.0h0M56.9 95.0h0M53.0 47.2h0M56.9 100.8h0"/>
<path stroke="#71f986" d="M274.3 185.2h0M92.2 181.3h0M143.3 181.6h0M110.1 188.3h0M283.1 182.1h0M91.2 176.7h0M102.0 187.8h0M134.8 182.5h0M197.1 186.7h0M315.6 188.6h0M305.0 190.2h0M194.4 186.7h0M105.1 183.6h0M220.0 188.9h0M152.1 185.0h0M250.5 183.4h0M222.5 184.6h0M263.0 185.7h0M229.5 184.4h0M273.9 182.5h0M287.8 181.3h0M278.3 183.2h0M321.8 184.3h0M78.0 169.5h0M329.1 183.0h0M93.6 182.7h0M242.9 190.2h0M306.5 186.7h0M171.7 186.9h0M87.8 175.3h0M169.9 190.2h0M106.4 179.2h0M279.0 180.8h0M202.3 185.8h0M203.1 192.0h0M274.8 182.9h0M83.9 178.0h0M88.6 179.8h0M255.5 185.7h0M276.5 186.2h0M299.4 182.6h0M99.2 183.2h0M310.4 186.3h0M254.6 188.8h0M144.5 183.1h0M55.0 80.3h0M195.4 186.2h0M124.3 187.3h0M295.8 185.3h0M297.4 185.2h0M120.7 183.5h0M200.0 185.8h0M318.1 185.7h0M320.9 188.0h0M96.1 183.1h0M53.4 45.2h0M61.0 129.9h0M65.6 147.4h0M64.0 141.3h0M51.5 34.9h0"/>
<path stroke="#53f2b8" d="M186.2 194.5h0M184.8 186.2h0M261.8 186.3h0M172.1 186.2h0M286.4 189.6h0M323.4 187.0h0M143.5 188.0h0M137.1 193.8h0M187.7 186.4h0M295.0 193.7h0M164.8 184.8h0M319.6 188.3h0M296.7 185.7h0M290.5 192.5h0M184.4 186.3h0M324.4 190.0h0M94.2 187.1h0M227.8 194.1h0M292.5 186.6h0M262.4 185.4h0M115.5 184.2h0M115.7 189.6h0M301.9 185.0h0M258.4 188.5h0M86.2 178.2h0M217.5 187.7h0M192.1 189.7h0M130.8 183.2h0M52.3 51.6h0M86.1 181.0h0M208.5 190.4h0M194.1 191.2h0M200.4 192.2h0M318.9 187.5h0M251.7 188.6h0M83.8 182.6h0M76.6 177.8h0M93.6 181.9h0M63.2 140.6h0M66.2 154.6h0M61.7 140.9h0M54.4 78.2h0M65.1 149.1h0"/>
<path stroke="#cce860" d="M313.5 187.9h0M282.5 184.5h0M208.0 184.8h0M296.6 184.1h0M320.3 186.9h0M190.5 188.9h0M124.4 183.4h0M76.3 175.7h0M107.2 184.6h0M148.3 179.9h0M240.5 189.6h0M316.0 187.5h0M148.3 183.8h0M256.3 186.4h0M144.3 180.2h0M285.9 190.3h0M162.7 185.3h0M150.9 183.9h0M190.1 181.1h0M97.7 180.4h0M269.3 181.6h0M56.6 86.1h0M246.9 188.9h0M312.9 188.2h0M208.4 190.2h0M54.8 63.6h0M124.3 189.4h0M175.1 184.2h0M160.0 183.7h0M290.0 183.7h0M155.9 182.3h0M141.7 186.4h0M234.4 187.3h0M166.1 184.6h0M243.3 185.2h0M104.9 178.9h0M182.7 183.9h0M211.6 184.9h0M62.2 127.6h0M63.4 136.6h0M52.8 46.0h0M65.6 149.0h0M51.2 25.6h0M62.1 127.6h0"/>
<path stroke="#65f59c" d="M169.3 183.9h0M163.8 185.5h0M329.4 185.6h0M66.6 153.9h0M68.0 164.2h0M171.2 192.4h0M317.5 187.9h0M57.4 101.3h0M160.6 191.4h0M59.2 123.8h0M231.5 186.4h0M92.2 181.0h0M69.7 160.1h0M282.7 184.1h0M222.9 192.7h0M115.9 184.1h0M311.3 187.1h0M170.3 188.2h0M298.9 187.1h0M87.6 177.5h0M117.4 185.5h0M256.5 187.7h0M221.6 187.8h0M82.8 174.9h0M112.9 185.5h0M85.2 177.8h0M172.7 190.3h0M54.3 69.0h0M191.9 187.9h0M81.6 180.6h0M159.6 183.7h0M242.0 186.7h0M318.3 192.1h0M120.4 185.0h0M319.7 187.7h0M265.1 186.8h0M286.9 191.5h0M112.7 184.5h0M276.1 190.0h0M64.1 142.5h0M63.4 142.5h0M54.8 69.0h0M63.1 138.1h0M60.4 124.1h0M63.2 139.2h0M63.2 146.3h0M53.2 64.3h0"/>
<path stroke="#8af56a" d="M125.6 189.4h0M83.5 181.1h0M185.2 182.4h0M279.3 185.5h0M283.9 190.2h0M196.8 182.3h0M72.2 165.4h0M230.0 183.9h0M69.9 157.7h0M196.5 188.3h0M262.4 188.1h0M128.1 180.2h0M242.8 184.4h0M158.4 188.6h0M289.1 182.0h0M125.4 182.2h0M282.0 183.5h0M237.9 188.9h0M239.2 187.1h0M204.2 191.0h0M114.4 180.9h0M177.2 180.3h0M212.6 185.2h0M124.9 181.7h0M123.7 187.8h0M248.0 183.2h0M64.6 143.7h0M262.6 185.2h0M80.9 175.1h0M75.1 168.6h0M57.9 106.2h0M192.2 184.8h0M83.4 171.1h0M123.9 183.3h0M211.3 185.1h0M296.7 183.3h0M188.6 184.3h0M181.8 180.7h0M291.3 183.7h0M215.1 181.9h0M260.0 186.5h0M265.6 183.5h0M186.3 184.5h0M63.5 137.4h0M54.9 65.1h0M55.5 84.3h0M58.4 106.9h0M55.5 82.4h0M60.2 120.3h0"/>
<path stroke="#ff2322" d="M237.1 184.7h0M52.8 31.0h0M188.3 177.5h0M120.9 184.2h0M59.9 117.9h0M145.3 178.8h0M254.8 187.4h0M146.9 178.5h0M143.9 182.8h0M58.9 112.5h0M64.8 136.7h0M224.1 179.1h0M295.7 178.5h0M134.1 175.7h0M224.1 177.1h0M192.5 177.8h0M173.4 178.4h0M312.2 177.8h0M296.7 177.6h0M289.5 177.6h0M162.7 176.8h0M127.6 175.8h0"/>
<path stroke="#ff7c46" d="M174.4 180.7h0M268.6 183.5h0M184.0 181.0h0M169.1 181.1h0M250.1 187.8h0M224.1 180.7h0M81.5 172.4h0M92.7 177.0h0M276.6 185.7h0M129.6 179.3h0M325.4 181.1h0M94.7 174.9h0M118.0 175.8h0M134.9 183.5h0M120.9 176.6h0M190.4 181.8h0M190.7 179.3h0M325.6 179.8h0M264.3 186.9h0M286.9 179.8h0M101.5 175.5h0M330.7 183.2h0M110.8 183.3h0M183.1 181.5h0M56.4 83.4h0M110.4 182.8h0M59.8 113.6h0M52.9 46.4h0M54.0 48.4h0M72.2 158.2h0M222.8 177.5h0"/>
<path stroke="#ff2926" d="M257.9 179.2h0M69.0 154.3h0M302.2 185.6h0M93.3 172.7h0M326.9 185.3h0M87.9 174.2h0M266.9 186.3h0M127.8 177.9h0M196.4 178.3h0M117.1 179.6h0M259.8 181.7h0M327.1 180.7h0M129.6 183.3h0M66.3 148.8h0M61.9 128.4h0M320.6 177.6h0M196.8 178.8h0M294.5 177.7h0M267.4 178.5h0M266.0 178.1h0M290.3 177.8h0M223.0 178.6h0M116.2 175.1h0M240.2 179.1h0M240.3 177.3h0M150.6 177.0h0"/>
<path stroke="#2f45ff" d="M264.6 189.4h0M275.7 193.5h0M257.8 196.2h0M280.3 192.7h0M300.1 193.8h0M102.7 184.0h0M120.5 186.5h0M157.9 186.4h0M140.2 188.8h0M270.8 187.1h0M243.7 185.4h0M207.5 191.9h0M136.4 185.0h0M186.2 194.8h0M208.1 191.2h0M293.1 189.5h0M205.2 196.4h0M241.9 189.7h0M171.6 192.1h0M108.5 193.3h0M84.6 184.1h0M249.0 191.8h0M259.3 194.8h0M184.6 193.2h0M57.6 112.6h0M66.0 159.9h0"/>
<path stroke="#68f698" d="M227.0 187.8h0M149.4 187.8h0M160.9 188.9h0M200.4 188.1h0M83.1 180.0h0M243.6 191.1h0M311.2 189.7h0M220.1 189.6h0M54.0 54.7h0M206.2 186.8h0M263.5 184.4h0M241.7 186.4h0M52.4 42.0h0M259.7 184.7h0M132.5 192.5h0M119.8 182.1h0M225.4 181.6h0M187.7 185.9h0M129.7 190.3h0M247.8 185.9h0M146.2 186.0h0M65.7 151.6h0M101.3 184.4h0M179.2 184.6h0M329.0 188.6h0M133.4 191.7h0M314.0 190.9h0M226.0 192.3h0M116.3 185.7h0M298.1 186.8h0M92.3 179.1h0M266.6 189.8h0M51.4 33.6h0M101.6 181.1h0M146.9 185.9h0M252.8 185.7h0M198.3 182.0h0M241.1 194.6h0M230.7 187.5h0M197.4 187.1h0M94.0 179.5h0M61.2 125.6h0M62.3 140.6h0M52.3 39.5h0M51.6 34.0h0M60.3 127.9h0"/>
<path stroke="#355dff" d="M110.5 191.4h0M156.7 189.1h0M196.5 190.4h0M241.9 197.3h0M262.9 193.9h0M247.5 194.0h0M224.3 187.6h0M108.7 186.4h0M224.1 190.7h0M244.7 192.4h0M76.2 173.5h0M313.1 191.4h0M269.4 193.5h0M221.5 191.3h0M218.2 194.5h0M297.5 192.1h0M262.3 189.2h0M228.1 189.1h0M309.4 190.8h0M131.7 192.8h0M119.4 190.4h0M114.9 189.3h0M209.4 191.0h0M300.2 196.1h0M250.0 190.9h0M61.0 135.5h0M52.2 61.2h0M67.5 162.1h0M53.6 64.8h0"/>
<path stroke="#3869ff" d="M205.6 191.8h0M325.6 189.1h0M93.5 181.3h0M191.5 186.2h0M103.9 189.1h0M211.0 194.7h0M124.1 192.5h0M152.2 196.0h0M243.8 190.8h0M145.4 192.6h0M307.4 191.1h0M266.2 189.1h0M119.9 193.4h0M68.1 165.1h0M244.2 187.6h0M293.2 197.3h0M206.8 191.2h0M240.2 191.1h0M97.0 183.6h0M252.9 193.7h0M287.7 191.1h0M193.3 191.2h0M77.9 180.3h0M264.8 192.7h0M64.0 143.2h0M297.8 187.3h0M86.9 185.1h0M297.2 188.0h0M263.5 188.3h0M84.0 181.2h0M199.4 189.4h0M53.9 66.3h0M53.6 70.1h0M52.8 51.8h0M56.1 96.3h0"/>
<path stroke="#ff7c46" d="M113.3 185.4h0M54.7 69.4h0M217.2 180.0h0M75.4 162.0h0M212.7 180.8h0M161.1 182.2h0M166.5 179.2h0M147.3 183.2h0M220.1 182.5h0M231.0 180.1h0M180.1 184.6h0M69.0 152.1h0M319.4 180.7h0M297.8 181.2h0M269.8 182.7h0M248.4 185.4h0M90.1 172.7h0M168.6 186.2h0M195.3 179.8h0M194.5 184.9h0M313.0 182.2h0M307.6 186.8h0M93.1 175.2h0M104.4 180.5h0M72.4 158.9h0M61.0 120.8h0M58.2 102.5h0M61.4 126.3h0M51.1 35.8h0M319.9 177.9h0"/>
<path stroke="#fea451" d="M93.3 176.1h0M112.9 182.7h0M242.4 189.3h0M64.9 143.7h0M237.2 189.6h0M295.3 182.1h0M296.9 189.0h0M277.4 186.3h0M72.7 163.3h0M183.8 187.0h0M97.7 180.1h0M255.2 185.0h0M325.2 188.0h0M281.6 186.3h0M324.7 185.3h0M188.3 184.1h0M229.8 185.1h0M163.7 180.0h0M108.6 183.9h0M285.2 181.4h0M105.5 178.2h0M99.2 176.8h0M110.0 186.5h0M153.1 186.9h0M60.0 119.1h0M63.2 135.9h0M52.0 32.6h0"/>
<path stroke="#4af0db" d="M235.8 189.0h0M128.4 191.4h0M200.5 187.1h0M232.5 187.3h0M87.8 184.0h0M318.9 192.4h0M257.4 192.0h0M284.2 188.2h0M94.7 183.6h0M234.9 188.3h0M137.5 187.1h0M215.2 188.5h0M127.3 186.5h0M264.3 186.6h0M115.7 182.7h0M257.9 192.9h0M112.7 188.5h0M55.4 70.6h0M277.1 189.6h0M206.0 188.3h0M174.6 186.0h0M193.4 190.4h0M99.5 184.4h0M195.6 189.9h0M121.3 187.1h0M191.5 188.7h0M298.7 187.3h0M200.1 189.3h0M107.0 182.6h0M60.7 132.0h0M129.3 190.5h0M280.9 188.2h0M51.9 37.1h0M71.9 166.1h0M157.7 190.7h0M51.4 42.8h0M55.5 88.7h0M55.9 81.2h0M65.4 151.3h0"/>
<path stroke="#75f87e" d="M304.0 188.7h0M327.3 186.9h0M315.1 190.7h0M179.9 190.6h0M277.5 183.0h0M217.9 187.2h0M255.9 185.9h0M182.6 182.6h0M181.4 181.8h0M143.1 186.0h0M305.7 188.5h0M213.7 185.5h0M210.4 190.2h0M266.9 188.2h0M135.1 188.6h0M196.3 188.3h0M82.7 174.8h0M271.6 192.4h0M315.1 182.6h0M201.2 185.6h0M275.1 184.8h0M207.8 188.7h0M121.6 185.3h0M96.9 179.8h0M230.8 186.0h0M220.7 192.8h0M68.8 154.9h0M280.5 185.1h0M254.6 188.8h0M214.6 183.5h0M67.7 151.7h0M193.5 184.8h0M121.4 182.4h0M256.1 190.0h0M232.2 183.6h0M222.8 186.1h0M209.8 187.2h0M208.2 189.9h0M194.4 184.3h0M319.7 185.9h0M146.6 180.3h0M101.6 180.1h0M290.5 185.2h0M95.4 178.8h0M61.7 136.6h0M117.6 181.6h0M68.8 158.5h0M232.9 183.7h0M51.7 27.0h0M65.8 149.6h0M55.1 65.3h0M63.4 143.7h0M56.3 82.1h0M54.6 63.4h0"/>
<path stroke="#2d3dff" d="M266.1 188.2h0M218.0 190.5h0M212.5 195.5h0M54.8 75.6h0M78.9 173.8h0M98.4 183.1h0M120.1 188.1h0M325.6 192.7h0M223.1 196.4h0M131.6 189.3h0M173.3 190.2h0M241.0 198.4h0M193.5 187.8h0M98.3 183.0h0M103.8 188.8h0M54.3 86.3h0M131.9 185.8h0M189.4 190.7h0M312.4 197.0h0M284.9 194.4h0M53.6 62.6h0M52.6 54.5h0M52.5 43.6h0"/>
<path stroke="#44c2ff" d="M218.2 188.0h0M122.5 185.2h0M106.3 190.2h0M213.9 186.9h0M52.6 58.0h0M96.2 184.3h0M297.4 187.8h0M259.7 188.3h0M255.2 191.5h0M257.9 189.6h0M60.1 124.4h0M313.4 186.7h0M136.4 187.5h0M209.0 192.6h0M255.8 193.2h0M283.7 188.3h0M169.6 192.9h0M289.8 188.8h0M167.4 190.6h0M202.0 186.8h0M294.9 192.6h0M284.5 194.4h0M217.6 189.9h0M143.5 187.5h0M82.7 179.4h0M283.5 194.2h0M95.7 188.9h0M126.6 191.6h0M266.9 189.1h0M325.5 189.0h0M193.4 194.6h0M108.1 186.0h0M262.6 187.7h0M178.3 194.6h0M51.6 44.9h0M65.2 147.4h0M59.2 122.3h0"/>
<path stroke="#ff2926" d="M140.8 176.9h0M151.0 180.3h0M200.8 182.3h0M68.9 159.1h0M248.6 178.8h0M204.8 181.3h0M66.3 145.8h0M110.4 183.0h0M206.7 185.4h0M111.6 176.6h0M155.4 176.8h0M165.1 182.3h0M110.1 182.7h0M57.5 96.4h0M64.4 136.1h0M220.6 178.3h0M209.9 178.4h0M281.6 177.8h0M309.9 177.3h0M118.6 174.6h0M272.5 177.9h0M146.3 176.0h0M143.9 175.8h0M228.9 178.9h0M73.0 158.6h0"/>
<path stroke="#ff2b29" d="M147.7 183.4h0M79.0 166.9h0M181.0 180.1h0M90.9 180.2h0M202.0 181.8h0M147.9 180.5h0M135.7 178.1h0M300.4 180.1h0M208.2 183.1h0M278.3 184.8h0M102.3 177.4h0M250.0 181.1h0M230.0 186.1h0M166.2 184.0h0M53.5 43.9h0M56.2 74.3h0M58.5 106.8h0M229.8 177.1h0M95.4 172.5h0M172.7 178.3h0M223.4 177.5h0M294.1 178.1h0M272.0 177.1h0M253.1 178.0h0M134.8 176.9h0M284.1 178.1h0M120.1 174.7h0M269.1 178.0h0M148.8 176.9h0M222.0 178.1h0M228.0 177.1h0M195.3 177.3h0M291.7 178.5h0M136.1 176.8h0M168.9 177.9h0"/></g>
<path d="M51.00 234.20v-1.60M51.00 10.20v1.60M56.71 234.20v-1.60M56.71 10.20v1.60M62.43 234.20v-1.60M62.43 10.20v1.60M68.14 234.20v-1.60M68.14 10.20v1.60M73.86 234.20v-3.20M73.86 10.20v3.20M79.57 234.20v-1.60M79.57 10.20v1.60M85.29 234.20v-1.60M85.29 10.20v1.60M91.00 234.20v-1.60M91.00 10.20v1.60M96.71 234.20v-1.60M96.71 10.20v1.60M102.43 234.20v-3.20M102.43 10.20v3.20M108.14 234.20v-1.60M108.14 10.20v1.60M113.86 234.20v-1.60M113.86 10.20v1.60M119.57 234.20v-1.60M119.57 10.20v1.60M125.29 234.20v-1.60M125.29 10.20v1.60M131.00 234.20v-3.20M131.00 10.20v3.20M136.71 234.20v-1.60M136.71 10.20v1.60M142.43 234.20v-1.60M142.43 10.20v1.60M148.14 234.20v-1.60M148.14 10.20v1.60M153.86 234.20v-1.60M153.86 10.20v1.60M159.57 234.20v-3.20M159.57 10.20v3.20M165.29 234.20v-1.60M165.29 10.20v1.60M171.00 234.20v-1.60M171.00 10.20v1.60M176.71 234.20v-1.60M176.71 10.20v1.60M182.43 234.20v-1.60M182.43 10.20v1.60M188.14 234.20v-3.20M188.14 10.20v3.20M193.86 234.20v-1.60M193.86 10.20v1.60M199.57 234.20v-1.60M199.57 10.20v1.60M205.29 234.20v-1.60M205.29 10.20v1.60M211.00 234.20v-1.60M211.00 10.20v1.60M216.71 234.20v-3.20M216.71 10.20v3.20M222.43 234.20v-1.60M222.43 10.20v1.60M228.14 234.20v-1.60M228.14 10.20v1.60M233.86 234.20v-1.60M233.86 10.20v1.60M239.57 234.20v-1.60M239.57 10.20v1.60M245.29 234.20v-3.20M245.29 10.20v3.20M251.00 234.20v-1.60M251.00 10.20v1.60M256.71 234.20v-1.60M256.71 10.20v1.60M262.43 234.20v-1.60M262.43 10.20v1.60M268.14 234.20v-1.60M268.14 10.20v1.60M273.86 234.20v-3.20M273.86 10.20v3.20M279.57 234.20v-1.60M279.57 10.20v1.60M285.29 234.20v-1.60M285.29 10.20v1.60M291.00 234.20v-1.60M291.00 10.20v1.60M296.71 234.20v-1.60M296.71 10.20v1.60M302.43 234.20v-3.20M302.43 10.20v3.20M308.14 234.20v-1.60M308.14 10.20v1.60M313.86 234.20v-1.60M313.86 10.20v1.60M319.57 234.20v-1.60M319.57 10.20v1.60M325.29 234.20v-1.60M325.29 10.20v1.60M331.00 234.20v-3.20M331.00 10.20v3.20M51.00 234.20h3.20M331.00 234.20h-3.20M51.00 211.72h1.60M331.00 211.72h-1.60M51.00 198.57h1.60M331.00 198.57h-1.60M51.00 189.25h1.60M331.00 189.25h-1.60M51.00 182.01h1.60M331.00 182.01h-1.60M51.00 176.10h1.60M331.00 176.10h-1.60M51.00 171.10h1.60M331.00 171.10h-1.60M51.00 166.77h1.60M331.00 166.77h-1.60M51.00 162.95h1.60M331.00 162.95h-1.60M51.00 159.53h3.20M331.00 159.53h-3.20M51.00 137.06h1.60M331.00 137.06h-1.60M51.00 123.91h1.60M331.00 123.91h-1.60M51.00 114.58h1.60M331.00 114.58h-1.60M51.00 107.34h1.60M331.00 107.34h-1.60M51.00 101.43h1.60M331.00 101.43h-1.60M51.00 96.43h1.60M331.00 96.43h-1.60M51.00 92.10h1.60M331.00 92.10h-1.60M51.00 88.28h1.60M331.00 88.28h-1.60M51.00 84.87h3.20M331.00 84.87h-3.20M51.00 62.39h1.60M331.00 62.39h-1.60M51.00 49.24h1.60M331.00 49.24h-1.60M51.00 39.91h1.60M331.00 39.91h-1.60M51.00 32.68h1.60M331.00 32.68h-1.60M51.00 26.76h1.60M331.00 26.76h-1.60M51.00 21.77h1.60M331.00 21.77h-1.60M51.00 17.44h1.60M331.00 17.44h-1.60M51.00 13.62h1.60M331.00 13.62h-1.60M51.00 10.20h3.20M331.00 10.20h-3.20" stroke="#222" stroke-width="1" fill="none"/>
<rect x="51.00" y="10.20" width="280.00" height="224.00" fill="none" stroke="#222" stroke-width="1.4"/>
<rect x="338.20" y="10.20" width="14.10" height="224.00" fill="url(#cb)" stroke="#333" stroke-width="1"/>
<path d="M338.20 234.20h2.5M352.30 234.20h-2.5M338.20 178.20h2.5M352.30 178.20h-2.5M338.20 122.20h2.5M352.30 122.20h-2.5M338.20 66.20h2.5M352.30 66.20h-2.5M338.20 10.20h2.5M352.30 10.20h-2.5" stroke="#222" stroke-width="1" fill="none"/>
<text x="70.16" y="247.10">5</text>
<text x="96.58" y="247.10">&#8199;0</text><path transform="matrix(0.005615 0 0 -0.005615 96.583 247.100)" d="M583 0L763 0L763 1409L646 1409Q599 1320 486 1225Q373 1130 222 1060L222 890Q306 920 412 980Q518 1040 583 1100Z" fill="#111" stroke="#111" stroke-width="35"/>
<text x="125.80" y="247.10">&#8199;5</text><path transform="matrix(0.005615 0 0 -0.005615 125.804 247.100)" d="M583 0L763 0L763 1409L646 1409Q599 1320 486 1225Q373 1130 222 1060L222 890Q306 920 412 980Q518 1040 583 1100Z" fill="#111" stroke="#111" stroke-width="35"/>
<text x="153.48" y="247.10">20</text>
<text x="182.45" y="247.10">25</text>
<text x="210.82" y="247.10">30</text>
<text x="239.24" y="247.10">35</text>
<text x="267.96" y="247.10">40</text>
<text x="296.88" y="247.10">45</text>
<text x="325.50" y="247.10">50</text>
<text x="28.81" y="237.15">&#8199;0</text><path transform="matrix(0.005615 0 0 -0.005615 28.808 237.150)" d="M583 0L763 0L763 1409L646 1409Q599 1320 486 1225Q373 1130 222 1060L222 890Q306 920 412 980Q518 1040 583 1100Z" fill="#111" stroke="#111" stroke-width="35"/><text x="41.8" y="231.35" class="sup">3</text>
<text x="28.81" y="162.48">&#8199;0</text><path transform="matrix(0.005615 0 0 -0.005615 28.808 162.483)" d="M583 0L763 0L763 1409L646 1409Q599 1320 486 1225Q373 1130 222 1060L222 890Q306 920 412 980Q518 1040 583 1100Z" fill="#111" stroke="#111" stroke-width="35"/><text x="41.8" y="156.68" class="sup">4</text>
<text x="28.81" y="87.82">&#8199;0</text><path transform="matrix(0.005615 0 0 -0.005615 28.808 87.817)" d="M583 0L763 0L763 1409L646 1409Q599 1320 486 1225Q373 1130 222 1060L222 890Q306 920 412 980Q518 1040 583 1100Z" fill="#111" stroke="#111" stroke-width="35"/><text x="41.8" y="82.02" class="sup">5</text>
<text x="28.81" y="13.15">&#8199;0</text><path transform="matrix(0.005615 0 0 -0.005615 28.808 13.150)" d="M583 0L763 0L763 1409L646 1409Q599 1320 486 1225Q373 1130 222 1060L222 890Q306 920 412 980Q518 1040 583 1100Z" fill="#111" stroke="#111" stroke-width="35"/><text x="41.8" y="7.35" class="sup">6</text>
<text x="358.60" y="237.00">0.99</text>
<text x="358.60" y="181.00">0.995</text>
<text x="358.60" y="125.00">&#8199;</text><path transform="matrix(0.005615 0 0 -0.005615 358.600 125.000)" d="M583 0L763 0L763 1409L646 1409Q599 1320 486 1225Q373 1130 222 1060L222 890Q306 920 412 980Q518 1040 583 1100Z" fill="#111" stroke="#111" stroke-width="35"/>
<text x="358.60" y="69.00">&#8199;.005</text><path transform="matrix(0.005615 0 0 -0.005615 358.600 69.000)" d="M583 0L763 0L763 1409L646 1409Q599 1320 486 1225Q373 1130 222 1060L222 890Q306 920 412 980Q518 1040 583 1100Z" fill="#111" stroke="#111" stroke-width="35"/>
<text x="358.60" y="13.00">&#8199;.0&#8199;</text><path transform="matrix(0.005615 0 0 -0.005615 358.600 13.000)" d="M583 0L763 0L763 1409L646 1409Q599 1320 486 1225Q373 1130 222 1060L222 890Q306 920 412 980Q518 1040 583 1100Z" fill="#111" stroke="#111" stroke-width="35"/><path transform="matrix(0.005615 0 0 -0.005615 374.587 13.000)" d="M583 0L763 0L763 1409L646 1409Q599 1320 486 1225Q373 1130 222 1060L222 890Q306 920 412 980Q518 1040 583 1100Z" fill="#111" stroke="#111" stroke-width="35"/>
<text x="183.5" y="263.2" style="font-size:12.5px">tan</text><text transform="translate(204.35 263.2) scale(1.12 1)" style="font-size:12.5px">&#946;</text>
<g transform="translate(17.2 120.5) rotate(-90)"><text text-anchor="middle" style="font-size:12.5px">m [GeV]</text><path d="M-21.2 -10.7C-20.4 -11.7 -19.2 -11.9 -17.8 -10.6S-15.2 -9.4 -14.4 -10.6" fill="none" stroke="#111" stroke-width="1.2"/></g>
<text x="222" y="36.9" style="font-size:10px">Color : m<tspan dy="2.9" style="font-size:7px;font-style:italic">H</tspan><tspan dy="-2.9">/(126 GeV)</tspan></text>
</svg>
</body></html>
